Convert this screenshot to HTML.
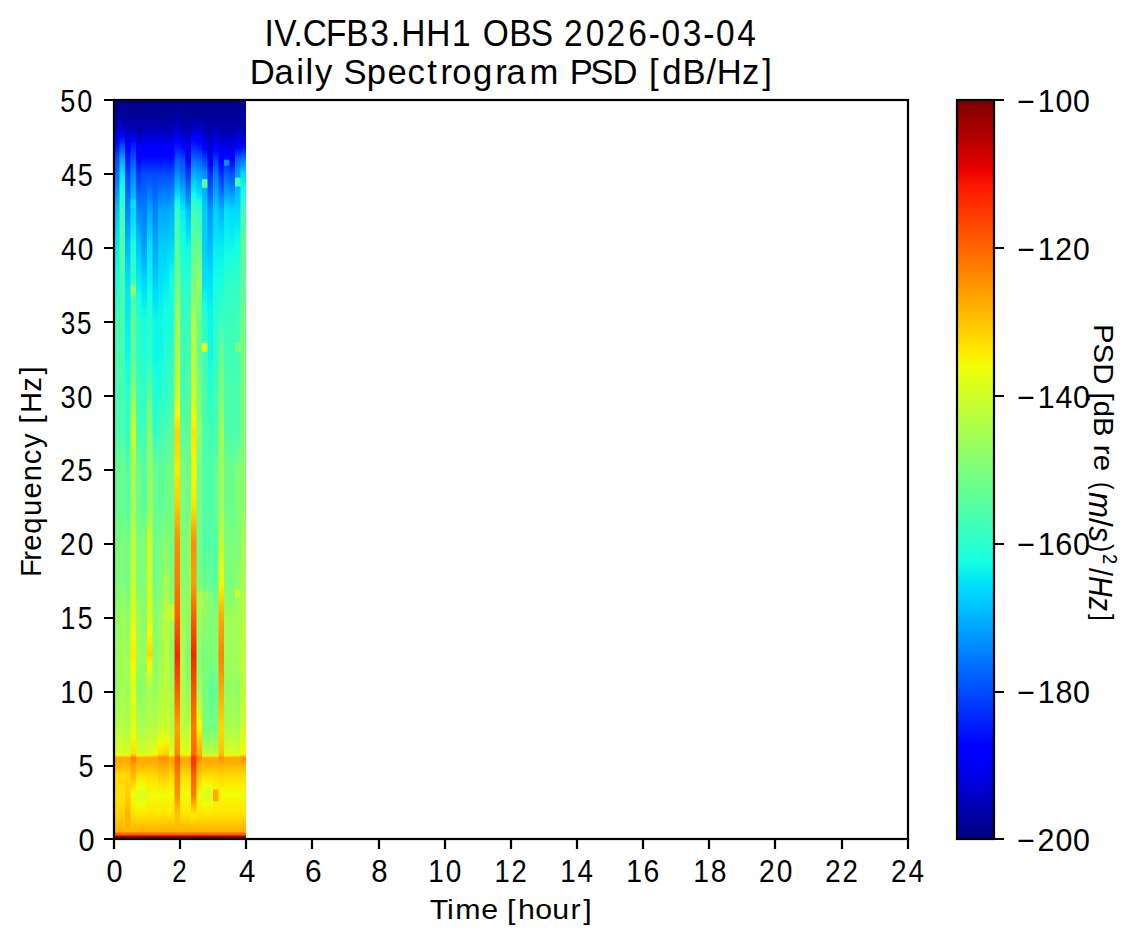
<!DOCTYPE html>
<html><head><meta charset="utf-8"><title>IV.CFB3.HH1 OBS 2026-03-04 Daily Spectrogram</title>
<style>html,body{margin:0;padding:0;background:#fff;width:1137px;height:946px;overflow:hidden}svg{display:block}text{font-family:"Liberation Sans",sans-serif;fill:#000}</style>
</head><body>
<svg width="1137" height="946" viewBox="0 0 1137 946">
<defs><linearGradient id="g0" x1="0" y1="0" x2="0" y2="1"><stop offset="0.0000" stop-color="#000089"/><stop offset="0.0060" stop-color="#00008d"/><stop offset="0.0100" stop-color="#00008d"/><stop offset="0.0120" stop-color="#000092"/><stop offset="0.0180" stop-color="#000092"/><stop offset="0.0400" stop-color="#0000c4"/><stop offset="0.0520" stop-color="#0000fa"/><stop offset="0.0540" stop-color="#0000ff"/><stop offset="0.0560" stop-color="#0000ff"/><stop offset="0.0600" stop-color="#000cff"/><stop offset="0.0620" stop-color="#0014ff"/><stop offset="0.0700" stop-color="#002cff"/><stop offset="0.0720" stop-color="#0034ff"/><stop offset="0.0800" stop-color="#004cff"/><stop offset="0.0840" stop-color="#0050ff"/><stop offset="0.0900" stop-color="#005cff"/><stop offset="0.0940" stop-color="#0060ff"/><stop offset="0.0980" stop-color="#0068ff"/><stop offset="0.1000" stop-color="#0068ff"/><stop offset="0.1220" stop-color="#0094ff"/><stop offset="0.1260" stop-color="#0098ff"/><stop offset="0.1460" stop-color="#00c0ff"/><stop offset="0.1500" stop-color="#00c4ff"/><stop offset="0.1520" stop-color="#00c8ff"/><stop offset="0.1600" stop-color="#00ccff"/><stop offset="0.1620" stop-color="#00d0ff"/><stop offset="0.1720" stop-color="#00d8ff"/><stop offset="0.1820" stop-color="#00e0fb"/><stop offset="0.1880" stop-color="#00e4f8"/><stop offset="0.1920" stop-color="#02e8f4"/><stop offset="0.2020" stop-color="#09f0ee"/><stop offset="0.2080" stop-color="#09f0ee"/><stop offset="0.2120" stop-color="#0cf4eb"/><stop offset="0.2160" stop-color="#0cf4eb"/><stop offset="0.2200" stop-color="#0ff8e7"/><stop offset="0.2260" stop-color="#0ff8e7"/><stop offset="0.2300" stop-color="#13fce4"/><stop offset="0.2360" stop-color="#13fce4"/><stop offset="0.2420" stop-color="#16ffe1"/><stop offset="0.2520" stop-color="#19ffde"/><stop offset="0.2660" stop-color="#26ffd1"/><stop offset="0.2720" stop-color="#29ffce"/><stop offset="0.2740" stop-color="#2cffca"/><stop offset="0.2760" stop-color="#2cffca"/><stop offset="0.2780" stop-color="#30ffc7"/><stop offset="0.2860" stop-color="#36ffc1"/><stop offset="0.3000" stop-color="#43ffb4"/><stop offset="0.4540" stop-color="#43ffb4"/><stop offset="0.4620" stop-color="#49ffad"/><stop offset="0.4720" stop-color="#50ffa7"/><stop offset="0.4780" stop-color="#53ffa4"/><stop offset="0.4840" stop-color="#5aff9d"/><stop offset="0.4920" stop-color="#5dff9a"/><stop offset="0.5040" stop-color="#63ff94"/><stop offset="0.5560" stop-color="#63ff94"/><stop offset="0.5580" stop-color="#66ff90"/><stop offset="0.5660" stop-color="#66ff90"/><stop offset="0.5700" stop-color="#6aff8d"/><stop offset="0.5760" stop-color="#6aff8d"/><stop offset="0.5820" stop-color="#6dff8a"/><stop offset="0.5940" stop-color="#70ff87"/><stop offset="0.5980" stop-color="#73ff83"/><stop offset="0.6520" stop-color="#73ff83"/><stop offset="0.6580" stop-color="#7aff7d"/><stop offset="0.6660" stop-color="#7dff7a"/><stop offset="0.6720" stop-color="#80ff77"/><stop offset="0.6780" stop-color="#87ff70"/><stop offset="0.6820" stop-color="#87ff70"/><stop offset="0.6940" stop-color="#90ff66"/><stop offset="0.7000" stop-color="#94ff63"/><stop offset="0.7560" stop-color="#94ff63"/><stop offset="0.7620" stop-color="#97ff60"/><stop offset="0.7740" stop-color="#97ff60"/><stop offset="0.7780" stop-color="#9aff5d"/><stop offset="0.7940" stop-color="#9aff5d"/><stop offset="0.7980" stop-color="#9dff5a"/><stop offset="0.8040" stop-color="#9dff5a"/><stop offset="0.8060" stop-color="#a0ff56"/><stop offset="0.8100" stop-color="#a0ff56"/><stop offset="0.8140" stop-color="#a4ff53"/><stop offset="0.8240" stop-color="#a7ff50"/><stop offset="0.8280" stop-color="#aaff4d"/><stop offset="0.8360" stop-color="#adff49"/><stop offset="0.8400" stop-color="#b1ff46"/><stop offset="0.8440" stop-color="#b1ff46"/><stop offset="0.8480" stop-color="#b4ff43"/><stop offset="0.8520" stop-color="#b7ff40"/><stop offset="0.8700" stop-color="#caff2c"/><stop offset="0.8720" stop-color="#ceff29"/><stop offset="0.8760" stop-color="#d1ff26"/><stop offset="0.8840" stop-color="#d7ff1f"/><stop offset="0.8860" stop-color="#ebff0c"/><stop offset="0.8880" stop-color="#ffd700"/><stop offset="0.8900" stop-color="#ffab00"/><stop offset="0.8960" stop-color="#ffae00"/><stop offset="0.9000" stop-color="#ffb200"/><stop offset="0.9040" stop-color="#ffc100"/><stop offset="0.9060" stop-color="#ffc400"/><stop offset="0.9100" stop-color="#ffd300"/><stop offset="0.9140" stop-color="#ffdb00"/><stop offset="0.9220" stop-color="#ffdb00"/><stop offset="0.9280" stop-color="#ffde00"/><stop offset="0.9340" stop-color="#ffde00"/><stop offset="0.9360" stop-color="#ffe200"/><stop offset="0.9420" stop-color="#ffe200"/><stop offset="0.9460" stop-color="#ffde00"/><stop offset="0.9520" stop-color="#ffdb00"/><stop offset="0.9560" stop-color="#ffd700"/><stop offset="0.9620" stop-color="#ffd300"/><stop offset="0.9680" stop-color="#ffd000"/><stop offset="0.9760" stop-color="#ffc400"/><stop offset="0.9800" stop-color="#ffc100"/><stop offset="0.9820" stop-color="#ffbd00"/><stop offset="0.9840" stop-color="#ffbd00"/><stop offset="0.9900" stop-color="#ffb200"/><stop offset="0.9920" stop-color="#ff6800"/><stop offset="0.9940" stop-color="#ff6800"/><stop offset="0.9960" stop-color="#cd0000"/><stop offset="0.9980" stop-color="#800000"/><stop offset="1.0000" stop-color="#800000"/></linearGradient>
<linearGradient id="g1" x1="0" y1="0" x2="0" y2="1"><stop offset="0.0000" stop-color="#000089"/><stop offset="0.0020" stop-color="#00008d"/><stop offset="0.0040" stop-color="#00008d"/><stop offset="0.0060" stop-color="#000092"/><stop offset="0.0120" stop-color="#000096"/><stop offset="0.0140" stop-color="#00009b"/><stop offset="0.0200" stop-color="#00009f"/><stop offset="0.0400" stop-color="#0000cd"/><stop offset="0.0420" stop-color="#0000da"/><stop offset="0.0440" stop-color="#0000ed"/><stop offset="0.0460" stop-color="#0000fa"/><stop offset="0.0480" stop-color="#0000ff"/><stop offset="0.0500" stop-color="#0004ff"/><stop offset="0.0620" stop-color="#004cff"/><stop offset="0.0720" stop-color="#007cff"/><stop offset="0.0760" stop-color="#0094ff"/><stop offset="0.0800" stop-color="#00a8ff"/><stop offset="0.0900" stop-color="#00c4ff"/><stop offset="0.0920" stop-color="#00ccff"/><stop offset="0.0960" stop-color="#00d8ff"/><stop offset="0.1000" stop-color="#00e4f8"/><stop offset="0.1060" stop-color="#09f0ee"/><stop offset="0.1100" stop-color="#0cf4eb"/><stop offset="0.1160" stop-color="#16ffe1"/><stop offset="0.1200" stop-color="#19ffde"/><stop offset="0.1280" stop-color="#26ffd1"/><stop offset="0.1320" stop-color="#29ffce"/><stop offset="0.1380" stop-color="#33ffc4"/><stop offset="0.1420" stop-color="#36ffc1"/><stop offset="0.1500" stop-color="#43ffb4"/><stop offset="0.1620" stop-color="#46ffb1"/><stop offset="0.1660" stop-color="#49ffad"/><stop offset="0.1780" stop-color="#50ffa7"/><stop offset="0.1880" stop-color="#53ffa4"/><stop offset="0.1920" stop-color="#56ffa0"/><stop offset="0.2000" stop-color="#5aff9d"/><stop offset="0.2060" stop-color="#5aff9d"/><stop offset="0.2100" stop-color="#56ffa0"/><stop offset="0.2160" stop-color="#56ffa0"/><stop offset="0.2200" stop-color="#53ffa4"/><stop offset="0.2260" stop-color="#53ffa4"/><stop offset="0.2320" stop-color="#50ffa7"/><stop offset="0.2460" stop-color="#4dffaa"/><stop offset="0.2500" stop-color="#49ffad"/><stop offset="0.4500" stop-color="#49ffad"/><stop offset="0.4520" stop-color="#4dffaa"/><stop offset="0.4600" stop-color="#50ffa7"/><stop offset="0.4640" stop-color="#53ffa4"/><stop offset="0.4700" stop-color="#56ffa0"/><stop offset="0.4740" stop-color="#5aff9d"/><stop offset="0.4880" stop-color="#63ff94"/><stop offset="0.4900" stop-color="#63ff94"/><stop offset="0.4920" stop-color="#66ff90"/><stop offset="0.4940" stop-color="#66ff90"/><stop offset="0.4960" stop-color="#6aff8d"/><stop offset="0.5500" stop-color="#6aff8d"/><stop offset="0.5540" stop-color="#6dff8a"/><stop offset="0.5600" stop-color="#6dff8a"/><stop offset="0.5640" stop-color="#70ff87"/><stop offset="0.5700" stop-color="#70ff87"/><stop offset="0.5740" stop-color="#73ff83"/><stop offset="0.5800" stop-color="#73ff83"/><stop offset="0.5840" stop-color="#77ff80"/><stop offset="0.5900" stop-color="#77ff80"/><stop offset="0.5960" stop-color="#7aff7d"/><stop offset="0.6080" stop-color="#7dff7a"/><stop offset="0.6540" stop-color="#7dff7a"/><stop offset="0.6620" stop-color="#83ff73"/><stop offset="0.6640" stop-color="#83ff73"/><stop offset="0.6660" stop-color="#87ff70"/><stop offset="0.6780" stop-color="#8dff6a"/><stop offset="0.6820" stop-color="#90ff66"/><stop offset="0.6840" stop-color="#90ff66"/><stop offset="0.6860" stop-color="#94ff63"/><stop offset="0.7020" stop-color="#9dff5a"/><stop offset="0.7140" stop-color="#9dff5a"/><stop offset="0.7160" stop-color="#a0ff56"/><stop offset="0.7340" stop-color="#a0ff56"/><stop offset="0.7360" stop-color="#a4ff53"/><stop offset="0.8000" stop-color="#a4ff53"/><stop offset="0.8060" stop-color="#a7ff50"/><stop offset="0.8100" stop-color="#a7ff50"/><stop offset="0.8160" stop-color="#aaff4d"/><stop offset="0.8200" stop-color="#aaff4d"/><stop offset="0.8240" stop-color="#adff49"/><stop offset="0.8300" stop-color="#adff49"/><stop offset="0.8340" stop-color="#b1ff46"/><stop offset="0.8400" stop-color="#b1ff46"/><stop offset="0.8460" stop-color="#b4ff43"/><stop offset="0.8520" stop-color="#b7ff40"/><stop offset="0.8700" stop-color="#caff2c"/><stop offset="0.8720" stop-color="#ceff29"/><stop offset="0.8760" stop-color="#d1ff26"/><stop offset="0.8840" stop-color="#d7ff1f"/><stop offset="0.8860" stop-color="#ebff0c"/><stop offset="0.8880" stop-color="#ffd700"/><stop offset="0.8900" stop-color="#ffab00"/><stop offset="0.8960" stop-color="#ffae00"/><stop offset="0.9000" stop-color="#ffb200"/><stop offset="0.9040" stop-color="#ffc100"/><stop offset="0.9060" stop-color="#ffc400"/><stop offset="0.9100" stop-color="#ffd300"/><stop offset="0.9140" stop-color="#ffdb00"/><stop offset="0.9220" stop-color="#ffdb00"/><stop offset="0.9280" stop-color="#ffde00"/><stop offset="0.9340" stop-color="#ffde00"/><stop offset="0.9360" stop-color="#ffe200"/><stop offset="0.9420" stop-color="#ffe200"/><stop offset="0.9460" stop-color="#ffde00"/><stop offset="0.9520" stop-color="#ffdb00"/><stop offset="0.9560" stop-color="#ffd700"/><stop offset="0.9620" stop-color="#ffd300"/><stop offset="0.9680" stop-color="#ffd000"/><stop offset="0.9760" stop-color="#ffc400"/><stop offset="0.9800" stop-color="#ffc100"/><stop offset="0.9820" stop-color="#ffbd00"/><stop offset="0.9840" stop-color="#ffbd00"/><stop offset="0.9900" stop-color="#ffb200"/><stop offset="0.9920" stop-color="#ff6800"/><stop offset="0.9940" stop-color="#ff6800"/><stop offset="0.9960" stop-color="#cd0000"/><stop offset="0.9980" stop-color="#800000"/><stop offset="1.0000" stop-color="#800000"/></linearGradient>
<linearGradient id="g2" x1="0" y1="0" x2="0" y2="1"><stop offset="0.0000" stop-color="#000089"/><stop offset="0.0060" stop-color="#00008d"/><stop offset="0.0100" stop-color="#00008d"/><stop offset="0.0120" stop-color="#000092"/><stop offset="0.0180" stop-color="#000092"/><stop offset="0.0240" stop-color="#00009b"/><stop offset="0.0280" stop-color="#0000a4"/><stop offset="0.0300" stop-color="#0000a4"/><stop offset="0.0380" stop-color="#0000b6"/><stop offset="0.0400" stop-color="#0000b6"/><stop offset="0.0420" stop-color="#0000bf"/><stop offset="0.0480" stop-color="#0000cd"/><stop offset="0.0500" stop-color="#0000d6"/><stop offset="0.0540" stop-color="#0000df"/><stop offset="0.0580" stop-color="#0000ed"/><stop offset="0.0620" stop-color="#0000f6"/><stop offset="0.0640" stop-color="#0000ff"/><stop offset="0.0700" stop-color="#0000ff"/><stop offset="0.0760" stop-color="#000cff"/><stop offset="0.0800" stop-color="#0018ff"/><stop offset="0.1040" stop-color="#0048ff"/><stop offset="0.1080" stop-color="#004cff"/><stop offset="0.1160" stop-color="#0058ff"/><stop offset="0.1220" stop-color="#0060ff"/><stop offset="0.1300" stop-color="#006cff"/><stop offset="0.1320" stop-color="#0070ff"/><stop offset="0.1360" stop-color="#0074ff"/><stop offset="0.1420" stop-color="#007cff"/><stop offset="0.1460" stop-color="#0084ff"/><stop offset="0.1500" stop-color="#0088ff"/><stop offset="0.1520" stop-color="#008cff"/><stop offset="0.1620" stop-color="#0094ff"/><stop offset="0.1720" stop-color="#00a0ff"/><stop offset="0.1820" stop-color="#00a8ff"/><stop offset="0.1920" stop-color="#00b4ff"/><stop offset="0.2020" stop-color="#00bcff"/><stop offset="0.2060" stop-color="#00c0ff"/><stop offset="0.2120" stop-color="#00c4ff"/><stop offset="0.2200" stop-color="#00ccff"/><stop offset="0.2300" stop-color="#00d4ff"/><stop offset="0.2400" stop-color="#00dcfe"/><stop offset="0.2420" stop-color="#00dcfe"/><stop offset="0.2440" stop-color="#00e0fb"/><stop offset="0.2520" stop-color="#00e4f8"/><stop offset="0.2560" stop-color="#00e4f8"/><stop offset="0.2580" stop-color="#02e8f4"/><stop offset="0.2760" stop-color="#02e8f4"/><stop offset="0.2780" stop-color="#06ecf1"/><stop offset="0.2960" stop-color="#06ecf1"/><stop offset="0.3000" stop-color="#09f0ee"/><stop offset="0.3160" stop-color="#09f0ee"/><stop offset="0.3180" stop-color="#0cf4eb"/><stop offset="0.3340" stop-color="#0cf4eb"/><stop offset="0.3380" stop-color="#0ff8e7"/><stop offset="0.3500" stop-color="#0ff8e7"/><stop offset="0.3540" stop-color="#13fce4"/><stop offset="0.3580" stop-color="#13fce4"/><stop offset="0.3640" stop-color="#16ffe1"/><stop offset="0.3680" stop-color="#19ffde"/><stop offset="0.3760" stop-color="#1cffdb"/><stop offset="0.3780" stop-color="#1fffd7"/><stop offset="0.3840" stop-color="#1fffd7"/><stop offset="0.3860" stop-color="#23ffd4"/><stop offset="0.3900" stop-color="#23ffd4"/><stop offset="0.3940" stop-color="#26ffd1"/><stop offset="0.4060" stop-color="#29ffce"/><stop offset="0.4100" stop-color="#29ffce"/><stop offset="0.4140" stop-color="#2cffca"/><stop offset="0.4300" stop-color="#2cffca"/><stop offset="0.4320" stop-color="#30ffc7"/><stop offset="0.4500" stop-color="#30ffc7"/><stop offset="0.4620" stop-color="#39ffbe"/><stop offset="0.4680" stop-color="#3cffba"/><stop offset="0.4720" stop-color="#40ffb7"/><stop offset="0.4840" stop-color="#46ffb1"/><stop offset="0.4860" stop-color="#49ffad"/><stop offset="0.4880" stop-color="#49ffad"/><stop offset="0.4920" stop-color="#4dffaa"/><stop offset="0.5040" stop-color="#53ffa4"/><stop offset="0.5520" stop-color="#53ffa4"/><stop offset="0.5560" stop-color="#56ffa0"/><stop offset="0.5660" stop-color="#5dff9a"/><stop offset="0.5780" stop-color="#63ff94"/><stop offset="0.5840" stop-color="#6aff8d"/><stop offset="0.5920" stop-color="#6dff8a"/><stop offset="0.6000" stop-color="#73ff83"/><stop offset="0.6520" stop-color="#73ff83"/><stop offset="0.6560" stop-color="#77ff80"/><stop offset="0.6600" stop-color="#77ff80"/><stop offset="0.6640" stop-color="#7aff7d"/><stop offset="0.6780" stop-color="#80ff77"/><stop offset="0.6820" stop-color="#83ff73"/><stop offset="0.6860" stop-color="#83ff73"/><stop offset="0.6900" stop-color="#87ff70"/><stop offset="0.7040" stop-color="#8dff6a"/><stop offset="0.7080" stop-color="#8dff6a"/><stop offset="0.7100" stop-color="#90ff66"/><stop offset="0.7180" stop-color="#90ff66"/><stop offset="0.7220" stop-color="#94ff63"/><stop offset="0.7280" stop-color="#94ff63"/><stop offset="0.7320" stop-color="#97ff60"/><stop offset="0.7460" stop-color="#9aff5d"/><stop offset="0.7520" stop-color="#9dff5a"/><stop offset="0.8060" stop-color="#9dff5a"/><stop offset="0.8080" stop-color="#a0ff56"/><stop offset="0.8160" stop-color="#a0ff56"/><stop offset="0.8200" stop-color="#a4ff53"/><stop offset="0.8260" stop-color="#a4ff53"/><stop offset="0.8300" stop-color="#a7ff50"/><stop offset="0.8360" stop-color="#a7ff50"/><stop offset="0.8400" stop-color="#aaff4d"/><stop offset="0.8460" stop-color="#aaff4d"/><stop offset="0.8520" stop-color="#b1ff46"/><stop offset="0.8560" stop-color="#b4ff43"/><stop offset="0.8640" stop-color="#baff3c"/><stop offset="0.8680" stop-color="#c1ff36"/><stop offset="0.8780" stop-color="#caff2c"/><stop offset="0.8820" stop-color="#ceff29"/><stop offset="0.8840" stop-color="#ceff29"/><stop offset="0.8860" stop-color="#e4ff13"/><stop offset="0.8880" stop-color="#ffdb00"/><stop offset="0.8900" stop-color="#ffab00"/><stop offset="0.8960" stop-color="#ffae00"/><stop offset="0.9000" stop-color="#ffb200"/><stop offset="0.9040" stop-color="#ffc100"/><stop offset="0.9060" stop-color="#ffc400"/><stop offset="0.9100" stop-color="#ffd300"/><stop offset="0.9140" stop-color="#ffd700"/><stop offset="0.9220" stop-color="#ffd700"/><stop offset="0.9260" stop-color="#ffd300"/><stop offset="0.9320" stop-color="#ffd300"/><stop offset="0.9380" stop-color="#ffd000"/><stop offset="0.9440" stop-color="#ffcc00"/><stop offset="0.9460" stop-color="#ffc800"/><stop offset="0.9540" stop-color="#ffc100"/><stop offset="0.9560" stop-color="#ffbd00"/><stop offset="0.9660" stop-color="#ffb600"/><stop offset="0.9700" stop-color="#ffb200"/><stop offset="0.9840" stop-color="#ffb200"/><stop offset="0.9900" stop-color="#ffbd00"/><stop offset="0.9920" stop-color="#ff6800"/><stop offset="0.9940" stop-color="#ff6800"/><stop offset="0.9960" stop-color="#cd0000"/><stop offset="0.9980" stop-color="#800000"/><stop offset="1.0000" stop-color="#800000"/></linearGradient>
<linearGradient id="g3" x1="0" y1="0" x2="0" y2="1"><stop offset="0.0000" stop-color="#000089"/><stop offset="0.0060" stop-color="#00008d"/><stop offset="0.0100" stop-color="#00008d"/><stop offset="0.0120" stop-color="#000092"/><stop offset="0.0180" stop-color="#000092"/><stop offset="0.0240" stop-color="#00009b"/><stop offset="0.0280" stop-color="#0000a4"/><stop offset="0.0300" stop-color="#0000a4"/><stop offset="0.0380" stop-color="#0000b6"/><stop offset="0.0400" stop-color="#0000b6"/><stop offset="0.0420" stop-color="#0000c4"/><stop offset="0.0460" stop-color="#0000da"/><stop offset="0.0480" stop-color="#0000e8"/><stop offset="0.0500" stop-color="#0000f1"/><stop offset="0.0520" stop-color="#0000ff"/><stop offset="0.0560" stop-color="#0004ff"/><stop offset="0.0600" stop-color="#0018ff"/><stop offset="0.0640" stop-color="#0024ff"/><stop offset="0.0740" stop-color="#0044ff"/><stop offset="0.0800" stop-color="#0054ff"/><stop offset="0.0820" stop-color="#005cff"/><stop offset="0.0880" stop-color="#0068ff"/><stop offset="0.0920" stop-color="#0074ff"/><stop offset="0.1000" stop-color="#0088ff"/><stop offset="0.1060" stop-color="#0094ff"/><stop offset="0.1100" stop-color="#0098ff"/><stop offset="0.1160" stop-color="#00a4ff"/><stop offset="0.1200" stop-color="#00a8ff"/><stop offset="0.1280" stop-color="#00b8ff"/><stop offset="0.1300" stop-color="#00b8ff"/><stop offset="0.1340" stop-color="#00c0ff"/><stop offset="0.1360" stop-color="#00e4f8"/><stop offset="0.1460" stop-color="#00e4f8"/><stop offset="0.1480" stop-color="#00d8ff"/><stop offset="0.1520" stop-color="#00dcfe"/><stop offset="0.1620" stop-color="#00e4f8"/><stop offset="0.1680" stop-color="#02e8f4"/><stop offset="0.1720" stop-color="#06ecf1"/><stop offset="0.1820" stop-color="#0cf4eb"/><stop offset="0.1860" stop-color="#0ff8e7"/><stop offset="0.1960" stop-color="#16ffe1"/><stop offset="0.2060" stop-color="#1cffdb"/><stop offset="0.2120" stop-color="#23ffd4"/><stop offset="0.2220" stop-color="#29ffce"/><stop offset="0.2280" stop-color="#30ffc7"/><stop offset="0.2360" stop-color="#36ffc1"/><stop offset="0.2500" stop-color="#43ffb4"/><stop offset="0.2520" stop-color="#8dff6a"/><stop offset="0.2640" stop-color="#8dff6a"/><stop offset="0.2660" stop-color="#4dffaa"/><stop offset="0.2780" stop-color="#53ffa4"/><stop offset="0.2840" stop-color="#5aff9d"/><stop offset="0.2880" stop-color="#5aff9d"/><stop offset="0.2960" stop-color="#60ff97"/><stop offset="0.3060" stop-color="#63ff94"/><stop offset="0.3120" stop-color="#60ff97"/><stop offset="0.3240" stop-color="#60ff97"/><stop offset="0.3300" stop-color="#5dff9a"/><stop offset="0.3440" stop-color="#5dff9a"/><stop offset="0.3480" stop-color="#5aff9d"/><stop offset="0.3520" stop-color="#5dff9a"/><stop offset="0.3600" stop-color="#66ff90"/><stop offset="0.3620" stop-color="#6aff8d"/><stop offset="0.3660" stop-color="#6dff8a"/><stop offset="0.3720" stop-color="#73ff83"/><stop offset="0.3760" stop-color="#7aff7d"/><stop offset="0.3840" stop-color="#80ff77"/><stop offset="0.3900" stop-color="#8aff6d"/><stop offset="0.3940" stop-color="#8dff6a"/><stop offset="0.4020" stop-color="#97ff60"/><stop offset="0.4140" stop-color="#a4ff53"/><stop offset="0.4240" stop-color="#b1ff46"/><stop offset="0.4300" stop-color="#b7ff40"/><stop offset="0.4320" stop-color="#baff3c"/><stop offset="0.4340" stop-color="#baff3c"/><stop offset="0.4400" stop-color="#c4ff33"/><stop offset="0.4440" stop-color="#c7ff30"/><stop offset="0.4460" stop-color="#caff2c"/><stop offset="0.4520" stop-color="#ceff29"/><stop offset="0.4580" stop-color="#c7ff30"/><stop offset="0.4660" stop-color="#c1ff36"/><stop offset="0.4740" stop-color="#baff3c"/><stop offset="0.4760" stop-color="#b7ff40"/><stop offset="0.4860" stop-color="#b1ff46"/><stop offset="0.4920" stop-color="#aaff4d"/><stop offset="0.5040" stop-color="#a4ff53"/><stop offset="0.5500" stop-color="#a4ff53"/><stop offset="0.5540" stop-color="#a7ff50"/><stop offset="0.5640" stop-color="#aaff4d"/><stop offset="0.5680" stop-color="#adff49"/><stop offset="0.5880" stop-color="#b7ff40"/><stop offset="0.5960" stop-color="#baff3c"/><stop offset="0.6000" stop-color="#beff39"/><stop offset="0.6100" stop-color="#beff39"/><stop offset="0.6160" stop-color="#c1ff36"/><stop offset="0.6280" stop-color="#c1ff36"/><stop offset="0.6340" stop-color="#c4ff33"/><stop offset="0.6480" stop-color="#c4ff33"/><stop offset="0.6540" stop-color="#c7ff30"/><stop offset="0.6600" stop-color="#caff2c"/><stop offset="0.6780" stop-color="#d4ff23"/><stop offset="0.6820" stop-color="#d4ff23"/><stop offset="0.6860" stop-color="#d7ff1f"/><stop offset="0.6920" stop-color="#dbff1c"/><stop offset="0.7100" stop-color="#e4ff13"/><stop offset="0.7140" stop-color="#e7ff0f"/><stop offset="0.7240" stop-color="#eeff09"/><stop offset="0.7280" stop-color="#f1fc06"/><stop offset="0.7340" stop-color="#f4f802"/><stop offset="0.7360" stop-color="#f8f500"/><stop offset="0.7400" stop-color="#f8f500"/><stop offset="0.7420" stop-color="#fbf100"/><stop offset="0.7440" stop-color="#fbf100"/><stop offset="0.7460" stop-color="#feed00"/><stop offset="0.7540" stop-color="#feed00"/><stop offset="0.7560" stop-color="#fbf100"/><stop offset="0.7580" stop-color="#fbf100"/><stop offset="0.7620" stop-color="#f8f500"/><stop offset="0.7640" stop-color="#f8f500"/><stop offset="0.7660" stop-color="#f4f802"/><stop offset="0.7680" stop-color="#f4f802"/><stop offset="0.7720" stop-color="#f1fc06"/><stop offset="0.7820" stop-color="#ebff0c"/><stop offset="0.7860" stop-color="#e7ff0f"/><stop offset="0.7960" stop-color="#e1ff16"/><stop offset="0.8040" stop-color="#deff19"/><stop offset="0.8080" stop-color="#e1ff16"/><stop offset="0.8240" stop-color="#e1ff16"/><stop offset="0.8280" stop-color="#e4ff13"/><stop offset="0.8440" stop-color="#e4ff13"/><stop offset="0.8460" stop-color="#e7ff0f"/><stop offset="0.8520" stop-color="#e7ff0f"/><stop offset="0.8560" stop-color="#eeff09"/><stop offset="0.8600" stop-color="#f1fc06"/><stop offset="0.8620" stop-color="#f4f802"/><stop offset="0.8640" stop-color="#f4f802"/><stop offset="0.8680" stop-color="#fbf100"/><stop offset="0.8720" stop-color="#feed00"/><stop offset="0.8780" stop-color="#ffe600"/><stop offset="0.8820" stop-color="#ffe200"/><stop offset="0.8840" stop-color="#ffe200"/><stop offset="0.8860" stop-color="#ffcc00"/><stop offset="0.8900" stop-color="#ff7a00"/><stop offset="0.9000" stop-color="#ff9f00"/><stop offset="0.9060" stop-color="#ffab00"/><stop offset="0.9100" stop-color="#ffae00"/><stop offset="0.9200" stop-color="#ffc800"/><stop offset="0.9300" stop-color="#ffe200"/><stop offset="0.9320" stop-color="#ffea00"/><stop offset="0.9340" stop-color="#feed00"/><stop offset="0.9360" stop-color="#f8f500"/><stop offset="0.9380" stop-color="#f4f802"/><stop offset="0.9400" stop-color="#eeff09"/><stop offset="0.9460" stop-color="#f4f802"/><stop offset="0.9520" stop-color="#fbf100"/><stop offset="0.9540" stop-color="#fbf100"/><stop offset="0.9560" stop-color="#feed00"/><stop offset="0.9620" stop-color="#ffea00"/><stop offset="0.9700" stop-color="#ffde00"/><stop offset="0.9740" stop-color="#ffd300"/><stop offset="0.9780" stop-color="#ffcc00"/><stop offset="0.9800" stop-color="#ffc400"/><stop offset="0.9900" stop-color="#ffb200"/><stop offset="0.9920" stop-color="#ff6800"/><stop offset="0.9940" stop-color="#ff6800"/><stop offset="0.9960" stop-color="#cd0000"/><stop offset="0.9980" stop-color="#800000"/><stop offset="1.0000" stop-color="#800000"/></linearGradient>
<linearGradient id="g4" x1="0" y1="0" x2="0" y2="1"><stop offset="0.0000" stop-color="#000089"/><stop offset="0.0060" stop-color="#00008d"/><stop offset="0.0100" stop-color="#00008d"/><stop offset="0.0120" stop-color="#000092"/><stop offset="0.0180" stop-color="#000092"/><stop offset="0.0240" stop-color="#00009b"/><stop offset="0.0300" stop-color="#00009f"/><stop offset="0.0320" stop-color="#0000a4"/><stop offset="0.0380" stop-color="#0000a8"/><stop offset="0.0440" stop-color="#0000b6"/><stop offset="0.0480" stop-color="#0000c4"/><stop offset="0.0520" stop-color="#0000cd"/><stop offset="0.0540" stop-color="#0000d6"/><stop offset="0.0580" stop-color="#0000df"/><stop offset="0.0620" stop-color="#0000ed"/><stop offset="0.0700" stop-color="#0000ff"/><stop offset="0.0780" stop-color="#0000ff"/><stop offset="0.0840" stop-color="#000cff"/><stop offset="0.0880" stop-color="#0018ff"/><stop offset="0.0920" stop-color="#0020ff"/><stop offset="0.0960" stop-color="#002cff"/><stop offset="0.1000" stop-color="#0038ff"/><stop offset="0.1040" stop-color="#003cff"/><stop offset="0.1100" stop-color="#0048ff"/><stop offset="0.1140" stop-color="#004cff"/><stop offset="0.1220" stop-color="#005cff"/><stop offset="0.1260" stop-color="#0060ff"/><stop offset="0.1340" stop-color="#0070ff"/><stop offset="0.1380" stop-color="#0074ff"/><stop offset="0.1440" stop-color="#0080ff"/><stop offset="0.1480" stop-color="#0084ff"/><stop offset="0.1520" stop-color="#008cff"/><stop offset="0.1560" stop-color="#0090ff"/><stop offset="0.1620" stop-color="#0098ff"/><stop offset="0.1660" stop-color="#009cff"/><stop offset="0.1720" stop-color="#00a4ff"/><stop offset="0.1760" stop-color="#00a8ff"/><stop offset="0.1820" stop-color="#00b0ff"/><stop offset="0.1920" stop-color="#00bcff"/><stop offset="0.2020" stop-color="#00c8ff"/><stop offset="0.2100" stop-color="#00ccff"/><stop offset="0.2120" stop-color="#00d0ff"/><stop offset="0.2220" stop-color="#00d8ff"/><stop offset="0.2320" stop-color="#00e0fb"/><stop offset="0.2380" stop-color="#00e4f8"/><stop offset="0.2420" stop-color="#02e8f4"/><stop offset="0.2520" stop-color="#09f0ee"/><stop offset="0.2580" stop-color="#0cf4eb"/><stop offset="0.2640" stop-color="#13fce4"/><stop offset="0.2720" stop-color="#16ffe1"/><stop offset="0.2760" stop-color="#19ffde"/><stop offset="0.2820" stop-color="#1cffdb"/><stop offset="0.2840" stop-color="#1fffd7"/><stop offset="0.2880" stop-color="#1fffd7"/><stop offset="0.2900" stop-color="#23ffd4"/><stop offset="0.3040" stop-color="#29ffce"/><stop offset="0.3100" stop-color="#29ffce"/><stop offset="0.3140" stop-color="#2cffca"/><stop offset="0.3300" stop-color="#2cffca"/><stop offset="0.3340" stop-color="#30ffc7"/><stop offset="0.3500" stop-color="#30ffc7"/><stop offset="0.3560" stop-color="#33ffc4"/><stop offset="0.3700" stop-color="#33ffc4"/><stop offset="0.3740" stop-color="#36ffc1"/><stop offset="0.3880" stop-color="#36ffc1"/><stop offset="0.3940" stop-color="#39ffbe"/><stop offset="0.4080" stop-color="#39ffbe"/><stop offset="0.4120" stop-color="#3cffba"/><stop offset="0.4280" stop-color="#3cffba"/><stop offset="0.4320" stop-color="#40ffb7"/><stop offset="0.4480" stop-color="#40ffb7"/><stop offset="0.4600" stop-color="#49ffad"/><stop offset="0.4620" stop-color="#4dffaa"/><stop offset="0.4720" stop-color="#53ffa4"/><stop offset="0.4780" stop-color="#5aff9d"/><stop offset="0.4920" stop-color="#63ff94"/><stop offset="0.4980" stop-color="#6aff8d"/><stop offset="0.5500" stop-color="#6aff8d"/><stop offset="0.5540" stop-color="#6dff8a"/><stop offset="0.5600" stop-color="#6dff8a"/><stop offset="0.5640" stop-color="#70ff87"/><stop offset="0.5700" stop-color="#70ff87"/><stop offset="0.5740" stop-color="#73ff83"/><stop offset="0.5800" stop-color="#73ff83"/><stop offset="0.5840" stop-color="#77ff80"/><stop offset="0.5900" stop-color="#77ff80"/><stop offset="0.5960" stop-color="#7aff7d"/><stop offset="0.6080" stop-color="#7dff7a"/><stop offset="0.6540" stop-color="#7dff7a"/><stop offset="0.6620" stop-color="#83ff73"/><stop offset="0.6640" stop-color="#83ff73"/><stop offset="0.6660" stop-color="#87ff70"/><stop offset="0.6780" stop-color="#8dff6a"/><stop offset="0.6820" stop-color="#90ff66"/><stop offset="0.6840" stop-color="#90ff66"/><stop offset="0.6860" stop-color="#94ff63"/><stop offset="0.7020" stop-color="#9dff5a"/><stop offset="0.7520" stop-color="#9dff5a"/><stop offset="0.7580" stop-color="#9aff5d"/><stop offset="0.7700" stop-color="#97ff60"/><stop offset="0.7760" stop-color="#94ff63"/><stop offset="0.7800" stop-color="#94ff63"/><stop offset="0.7840" stop-color="#90ff66"/><stop offset="0.7900" stop-color="#90ff66"/><stop offset="0.7940" stop-color="#8dff6a"/><stop offset="0.8040" stop-color="#8dff6a"/><stop offset="0.8060" stop-color="#90ff66"/><stop offset="0.8180" stop-color="#97ff60"/><stop offset="0.8260" stop-color="#9dff5a"/><stop offset="0.8320" stop-color="#a0ff56"/><stop offset="0.8360" stop-color="#a4ff53"/><stop offset="0.8480" stop-color="#aaff4d"/><stop offset="0.8520" stop-color="#b1ff46"/><stop offset="0.8560" stop-color="#b4ff43"/><stop offset="0.8640" stop-color="#baff3c"/><stop offset="0.8680" stop-color="#c1ff36"/><stop offset="0.8780" stop-color="#caff2c"/><stop offset="0.8820" stop-color="#ceff29"/><stop offset="0.8840" stop-color="#ceff29"/><stop offset="0.8860" stop-color="#e4ff13"/><stop offset="0.8880" stop-color="#ffdb00"/><stop offset="0.8900" stop-color="#ffab00"/><stop offset="0.8960" stop-color="#ffae00"/><stop offset="0.9000" stop-color="#ffb200"/><stop offset="0.9040" stop-color="#ffc100"/><stop offset="0.9060" stop-color="#ffc400"/><stop offset="0.9100" stop-color="#ffd300"/><stop offset="0.9200" stop-color="#feed00"/><stop offset="0.9260" stop-color="#f4f802"/><stop offset="0.9280" stop-color="#eeff09"/><stop offset="0.9340" stop-color="#e4ff13"/><stop offset="0.9380" stop-color="#dbff1c"/><stop offset="0.9400" stop-color="#d7ff1f"/><stop offset="0.9540" stop-color="#eeff09"/><stop offset="0.9580" stop-color="#f8f500"/><stop offset="0.9640" stop-color="#ffea00"/><stop offset="0.9700" stop-color="#ffde00"/><stop offset="0.9740" stop-color="#ffd300"/><stop offset="0.9780" stop-color="#ffcc00"/><stop offset="0.9800" stop-color="#ffc400"/><stop offset="0.9900" stop-color="#ffb200"/><stop offset="0.9920" stop-color="#ff6800"/><stop offset="0.9940" stop-color="#ff6800"/><stop offset="0.9960" stop-color="#cd0000"/><stop offset="0.9980" stop-color="#800000"/><stop offset="1.0000" stop-color="#800000"/></linearGradient>
<linearGradient id="g5" x1="0" y1="0" x2="0" y2="1"><stop offset="0.0000" stop-color="#000089"/><stop offset="0.0060" stop-color="#00008d"/><stop offset="0.0100" stop-color="#00008d"/><stop offset="0.0120" stop-color="#000092"/><stop offset="0.0180" stop-color="#000092"/><stop offset="0.0240" stop-color="#00009b"/><stop offset="0.0280" stop-color="#0000a4"/><stop offset="0.0300" stop-color="#0000a4"/><stop offset="0.0380" stop-color="#0000b6"/><stop offset="0.0400" stop-color="#0000b6"/><stop offset="0.0420" stop-color="#0000bf"/><stop offset="0.0480" stop-color="#0000cd"/><stop offset="0.0500" stop-color="#0000d6"/><stop offset="0.0540" stop-color="#0000df"/><stop offset="0.0580" stop-color="#0000ed"/><stop offset="0.0660" stop-color="#0000ff"/><stop offset="0.0740" stop-color="#0000ff"/><stop offset="0.0800" stop-color="#000cff"/><stop offset="0.0820" stop-color="#0014ff"/><stop offset="0.0900" stop-color="#002cff"/><stop offset="0.0920" stop-color="#0034ff"/><stop offset="0.1000" stop-color="#004cff"/><stop offset="0.1100" stop-color="#0054ff"/><stop offset="0.1120" stop-color="#0058ff"/><stop offset="0.1220" stop-color="#0060ff"/><stop offset="0.1320" stop-color="#006cff"/><stop offset="0.1420" stop-color="#0074ff"/><stop offset="0.1500" stop-color="#0080ff"/><stop offset="0.1560" stop-color="#0080ff"/><stop offset="0.1600" stop-color="#0084ff"/><stop offset="0.1660" stop-color="#0088ff"/><stop offset="0.1740" stop-color="#008cff"/><stop offset="0.1820" stop-color="#0090ff"/><stop offset="0.1860" stop-color="#0094ff"/><stop offset="0.1940" stop-color="#0098ff"/><stop offset="0.1980" stop-color="#009cff"/><stop offset="0.2000" stop-color="#009cff"/><stop offset="0.2020" stop-color="#00a0ff"/><stop offset="0.2060" stop-color="#00a4ff"/><stop offset="0.2120" stop-color="#00acff"/><stop offset="0.2160" stop-color="#00b0ff"/><stop offset="0.2220" stop-color="#00b8ff"/><stop offset="0.2320" stop-color="#00c4ff"/><stop offset="0.2420" stop-color="#00d0ff"/><stop offset="0.2440" stop-color="#00d4ff"/><stop offset="0.2480" stop-color="#00d8ff"/><stop offset="0.2520" stop-color="#00dcfe"/><stop offset="0.2620" stop-color="#00e4f8"/><stop offset="0.2680" stop-color="#02e8f4"/><stop offset="0.2720" stop-color="#06ecf1"/><stop offset="0.2820" stop-color="#0cf4eb"/><stop offset="0.2840" stop-color="#0ff8e7"/><stop offset="0.2880" stop-color="#0ff8e7"/><stop offset="0.2900" stop-color="#13fce4"/><stop offset="0.3000" stop-color="#19ffde"/><stop offset="0.3140" stop-color="#19ffde"/><stop offset="0.3200" stop-color="#1cffdb"/><stop offset="0.3320" stop-color="#1cffdb"/><stop offset="0.3340" stop-color="#1fffd7"/><stop offset="0.3500" stop-color="#1fffd7"/><stop offset="0.3540" stop-color="#23ffd4"/><stop offset="0.3600" stop-color="#23ffd4"/><stop offset="0.3640" stop-color="#26ffd1"/><stop offset="0.3700" stop-color="#26ffd1"/><stop offset="0.3740" stop-color="#29ffce"/><stop offset="0.3800" stop-color="#29ffce"/><stop offset="0.3820" stop-color="#2cffca"/><stop offset="0.3900" stop-color="#2cffca"/><stop offset="0.3920" stop-color="#30ffc7"/><stop offset="0.4000" stop-color="#30ffc7"/><stop offset="0.4040" stop-color="#33ffc4"/><stop offset="0.4100" stop-color="#33ffc4"/><stop offset="0.4160" stop-color="#36ffc1"/><stop offset="0.4280" stop-color="#39ffbe"/><stop offset="0.4320" stop-color="#3cffba"/><stop offset="0.4380" stop-color="#3cffba"/><stop offset="0.4420" stop-color="#40ffb7"/><stop offset="0.4480" stop-color="#40ffb7"/><stop offset="0.4540" stop-color="#43ffb4"/><stop offset="0.4680" stop-color="#46ffb1"/><stop offset="0.4720" stop-color="#49ffad"/><stop offset="0.4780" stop-color="#49ffad"/><stop offset="0.4820" stop-color="#4dffaa"/><stop offset="0.4880" stop-color="#4dffaa"/><stop offset="0.4940" stop-color="#50ffa7"/><stop offset="0.5120" stop-color="#53ffa4"/><stop offset="0.5520" stop-color="#53ffa4"/><stop offset="0.5560" stop-color="#5aff9d"/><stop offset="0.5640" stop-color="#60ff97"/><stop offset="0.5740" stop-color="#6aff8d"/><stop offset="0.5860" stop-color="#77ff80"/><stop offset="0.5980" stop-color="#80ff77"/><stop offset="0.6020" stop-color="#83ff73"/><stop offset="0.7040" stop-color="#83ff73"/><stop offset="0.7060" stop-color="#87ff70"/><stop offset="0.7140" stop-color="#87ff70"/><stop offset="0.7180" stop-color="#8aff6d"/><stop offset="0.7320" stop-color="#8dff6a"/><stop offset="0.7360" stop-color="#90ff66"/><stop offset="0.7420" stop-color="#90ff66"/><stop offset="0.7460" stop-color="#94ff63"/><stop offset="0.8020" stop-color="#94ff63"/><stop offset="0.8180" stop-color="#9dff5a"/><stop offset="0.8260" stop-color="#a0ff56"/><stop offset="0.8320" stop-color="#a4ff53"/><stop offset="0.8460" stop-color="#aaff4d"/><stop offset="0.8520" stop-color="#b1ff46"/><stop offset="0.8560" stop-color="#b4ff43"/><stop offset="0.8640" stop-color="#baff3c"/><stop offset="0.8680" stop-color="#c1ff36"/><stop offset="0.8780" stop-color="#caff2c"/><stop offset="0.8820" stop-color="#ceff29"/><stop offset="0.8840" stop-color="#ceff29"/><stop offset="0.8860" stop-color="#e4ff13"/><stop offset="0.8880" stop-color="#ffdb00"/><stop offset="0.8900" stop-color="#ffab00"/><stop offset="0.8960" stop-color="#ffae00"/><stop offset="0.9000" stop-color="#ffb200"/><stop offset="0.9040" stop-color="#ffc100"/><stop offset="0.9060" stop-color="#ffc400"/><stop offset="0.9100" stop-color="#ffd300"/><stop offset="0.9200" stop-color="#feed00"/><stop offset="0.9260" stop-color="#f4f802"/><stop offset="0.9280" stop-color="#eeff09"/><stop offset="0.9340" stop-color="#e4ff13"/><stop offset="0.9380" stop-color="#dbff1c"/><stop offset="0.9400" stop-color="#d7ff1f"/><stop offset="0.9540" stop-color="#eeff09"/><stop offset="0.9580" stop-color="#f8f500"/><stop offset="0.9640" stop-color="#ffea00"/><stop offset="0.9700" stop-color="#ffde00"/><stop offset="0.9740" stop-color="#ffd300"/><stop offset="0.9780" stop-color="#ffcc00"/><stop offset="0.9800" stop-color="#ffc400"/><stop offset="0.9900" stop-color="#ffb200"/><stop offset="0.9920" stop-color="#ff6800"/><stop offset="0.9940" stop-color="#ff6800"/><stop offset="0.9960" stop-color="#cd0000"/><stop offset="0.9980" stop-color="#800000"/><stop offset="1.0000" stop-color="#800000"/></linearGradient>
<linearGradient id="g6" x1="0" y1="0" x2="0" y2="1"><stop offset="0.0000" stop-color="#000089"/><stop offset="0.0060" stop-color="#00008d"/><stop offset="0.0100" stop-color="#00008d"/><stop offset="0.0120" stop-color="#000092"/><stop offset="0.0180" stop-color="#000092"/><stop offset="0.0240" stop-color="#00009b"/><stop offset="0.0280" stop-color="#0000a4"/><stop offset="0.0300" stop-color="#0000a4"/><stop offset="0.0380" stop-color="#0000b6"/><stop offset="0.0400" stop-color="#0000b6"/><stop offset="0.0420" stop-color="#0000bf"/><stop offset="0.0480" stop-color="#0000cd"/><stop offset="0.0500" stop-color="#0000d6"/><stop offset="0.0540" stop-color="#0000df"/><stop offset="0.0580" stop-color="#0000ed"/><stop offset="0.0660" stop-color="#0000ff"/><stop offset="0.0740" stop-color="#0000ff"/><stop offset="0.0800" stop-color="#000cff"/><stop offset="0.0820" stop-color="#0014ff"/><stop offset="0.0900" stop-color="#002cff"/><stop offset="0.0920" stop-color="#0034ff"/><stop offset="0.1020" stop-color="#0050ff"/><stop offset="0.1100" stop-color="#005cff"/><stop offset="0.1300" stop-color="#0084ff"/><stop offset="0.1340" stop-color="#0088ff"/><stop offset="0.1500" stop-color="#00a8ff"/><stop offset="0.1540" stop-color="#00acff"/><stop offset="0.1640" stop-color="#00b8ff"/><stop offset="0.1740" stop-color="#00c4ff"/><stop offset="0.1800" stop-color="#00ccff"/><stop offset="0.1820" stop-color="#00d0ff"/><stop offset="0.1900" stop-color="#00d8ff"/><stop offset="0.1920" stop-color="#00dcfe"/><stop offset="0.2020" stop-color="#00e4f8"/><stop offset="0.2060" stop-color="#02e8f4"/><stop offset="0.2120" stop-color="#02e8f4"/><stop offset="0.2160" stop-color="#06ecf1"/><stop offset="0.2220" stop-color="#06ecf1"/><stop offset="0.2260" stop-color="#09f0ee"/><stop offset="0.2320" stop-color="#09f0ee"/><stop offset="0.2360" stop-color="#0cf4eb"/><stop offset="0.2420" stop-color="#0cf4eb"/><stop offset="0.2440" stop-color="#0ff8e7"/><stop offset="0.2500" stop-color="#0ff8e7"/><stop offset="0.2540" stop-color="#13fce4"/><stop offset="0.2640" stop-color="#16ffe1"/><stop offset="0.2760" stop-color="#1cffdb"/><stop offset="0.2780" stop-color="#1fffd7"/><stop offset="0.2840" stop-color="#1fffd7"/><stop offset="0.2860" stop-color="#23ffd4"/><stop offset="0.2960" stop-color="#26ffd1"/><stop offset="0.3020" stop-color="#29ffce"/><stop offset="0.3500" stop-color="#29ffce"/><stop offset="0.3540" stop-color="#30ffc7"/><stop offset="0.3600" stop-color="#36ffc1"/><stop offset="0.3640" stop-color="#3cffba"/><stop offset="0.3680" stop-color="#40ffb7"/><stop offset="0.3760" stop-color="#4dffaa"/><stop offset="0.3820" stop-color="#53ffa4"/><stop offset="0.3860" stop-color="#5aff9d"/><stop offset="0.3920" stop-color="#60ff97"/><stop offset="0.3980" stop-color="#6aff8d"/><stop offset="0.4080" stop-color="#70ff87"/><stop offset="0.4140" stop-color="#73ff83"/><stop offset="0.4160" stop-color="#77ff80"/><stop offset="0.4200" stop-color="#77ff80"/><stop offset="0.4320" stop-color="#80ff77"/><stop offset="0.4340" stop-color="#80ff77"/><stop offset="0.4360" stop-color="#83ff73"/><stop offset="0.4480" stop-color="#8aff6d"/><stop offset="0.4540" stop-color="#8dff6a"/><stop offset="0.4660" stop-color="#8dff6a"/><stop offset="0.4700" stop-color="#90ff66"/><stop offset="0.4860" stop-color="#90ff66"/><stop offset="0.4900" stop-color="#94ff63"/><stop offset="0.5060" stop-color="#94ff63"/><stop offset="0.5120" stop-color="#97ff60"/><stop offset="0.5240" stop-color="#97ff60"/><stop offset="0.5280" stop-color="#9aff5d"/><stop offset="0.5440" stop-color="#9aff5d"/><stop offset="0.5480" stop-color="#9dff5a"/><stop offset="0.5520" stop-color="#9dff5a"/><stop offset="0.5560" stop-color="#a4ff53"/><stop offset="0.5640" stop-color="#aaff4d"/><stop offset="0.5700" stop-color="#b1ff46"/><stop offset="0.5800" stop-color="#baff3c"/><stop offset="0.5860" stop-color="#c1ff36"/><stop offset="0.5980" stop-color="#caff2c"/><stop offset="0.6020" stop-color="#ceff29"/><stop offset="0.6520" stop-color="#ceff29"/><stop offset="0.6580" stop-color="#d1ff26"/><stop offset="0.6720" stop-color="#d4ff23"/><stop offset="0.6760" stop-color="#d7ff1f"/><stop offset="0.6820" stop-color="#d7ff1f"/><stop offset="0.6860" stop-color="#dbff1c"/><stop offset="0.6920" stop-color="#dbff1c"/><stop offset="0.6980" stop-color="#deff19"/><stop offset="0.7060" stop-color="#e4ff13"/><stop offset="0.7160" stop-color="#eeff09"/><stop offset="0.7260" stop-color="#f8f500"/><stop offset="0.7340" stop-color="#ffea00"/><stop offset="0.7380" stop-color="#ffe600"/><stop offset="0.7500" stop-color="#ffd700"/><stop offset="0.7580" stop-color="#feed00"/><stop offset="0.7620" stop-color="#f8f500"/><stop offset="0.7660" stop-color="#eeff09"/><stop offset="0.7680" stop-color="#ebff0c"/><stop offset="0.7720" stop-color="#e1ff16"/><stop offset="0.7740" stop-color="#deff19"/><stop offset="0.7760" stop-color="#d7ff1f"/><stop offset="0.7800" stop-color="#d1ff26"/><stop offset="0.7840" stop-color="#c7ff30"/><stop offset="0.8000" stop-color="#a4ff53"/><stop offset="0.8060" stop-color="#a7ff50"/><stop offset="0.8100" stop-color="#a7ff50"/><stop offset="0.8160" stop-color="#aaff4d"/><stop offset="0.8200" stop-color="#aaff4d"/><stop offset="0.8240" stop-color="#adff49"/><stop offset="0.8300" stop-color="#adff49"/><stop offset="0.8340" stop-color="#b1ff46"/><stop offset="0.8400" stop-color="#b1ff46"/><stop offset="0.8460" stop-color="#b4ff43"/><stop offset="0.8520" stop-color="#b7ff40"/><stop offset="0.8700" stop-color="#caff2c"/><stop offset="0.8720" stop-color="#ceff29"/><stop offset="0.8760" stop-color="#d1ff26"/><stop offset="0.8840" stop-color="#d7ff1f"/><stop offset="0.8860" stop-color="#ebff0c"/><stop offset="0.8880" stop-color="#ffd700"/><stop offset="0.8900" stop-color="#ffab00"/><stop offset="0.8960" stop-color="#ffae00"/><stop offset="0.9000" stop-color="#ffb200"/><stop offset="0.9040" stop-color="#ffc100"/><stop offset="0.9060" stop-color="#ffc400"/><stop offset="0.9100" stop-color="#ffd300"/><stop offset="0.9180" stop-color="#ffe200"/><stop offset="0.9200" stop-color="#ffe200"/><stop offset="0.9260" stop-color="#feed00"/><stop offset="0.9300" stop-color="#fbf100"/><stop offset="0.9360" stop-color="#f4f802"/><stop offset="0.9400" stop-color="#eeff09"/><stop offset="0.9460" stop-color="#f4f802"/><stop offset="0.9520" stop-color="#fbf100"/><stop offset="0.9540" stop-color="#fbf100"/><stop offset="0.9560" stop-color="#feed00"/><stop offset="0.9620" stop-color="#ffea00"/><stop offset="0.9700" stop-color="#ffde00"/><stop offset="0.9740" stop-color="#ffd300"/><stop offset="0.9780" stop-color="#ffcc00"/><stop offset="0.9800" stop-color="#ffc400"/><stop offset="0.9900" stop-color="#ffb200"/><stop offset="0.9920" stop-color="#ff6800"/><stop offset="0.9940" stop-color="#ff6800"/><stop offset="0.9960" stop-color="#cd0000"/><stop offset="0.9980" stop-color="#800000"/><stop offset="1.0000" stop-color="#800000"/></linearGradient>
<linearGradient id="g7" x1="0" y1="0" x2="0" y2="1"><stop offset="0.0000" stop-color="#000089"/><stop offset="0.0060" stop-color="#00008d"/><stop offset="0.0100" stop-color="#00008d"/><stop offset="0.0120" stop-color="#000092"/><stop offset="0.0180" stop-color="#000092"/><stop offset="0.0240" stop-color="#00009b"/><stop offset="0.0280" stop-color="#0000a4"/><stop offset="0.0300" stop-color="#0000a4"/><stop offset="0.0380" stop-color="#0000b6"/><stop offset="0.0400" stop-color="#0000b6"/><stop offset="0.0420" stop-color="#0000bf"/><stop offset="0.0480" stop-color="#0000cd"/><stop offset="0.0500" stop-color="#0000d6"/><stop offset="0.0540" stop-color="#0000df"/><stop offset="0.0580" stop-color="#0000ed"/><stop offset="0.0660" stop-color="#0000ff"/><stop offset="0.0740" stop-color="#0000ff"/><stop offset="0.0800" stop-color="#000cff"/><stop offset="0.0820" stop-color="#0014ff"/><stop offset="0.0900" stop-color="#002cff"/><stop offset="0.0920" stop-color="#0034ff"/><stop offset="0.1000" stop-color="#004cff"/><stop offset="0.1100" stop-color="#0054ff"/><stop offset="0.1120" stop-color="#0058ff"/><stop offset="0.1220" stop-color="#0060ff"/><stop offset="0.1320" stop-color="#006cff"/><stop offset="0.1420" stop-color="#0074ff"/><stop offset="0.1500" stop-color="#0080ff"/><stop offset="0.1540" stop-color="#0080ff"/><stop offset="0.1620" stop-color="#0088ff"/><stop offset="0.1720" stop-color="#0090ff"/><stop offset="0.1820" stop-color="#0098ff"/><stop offset="0.1920" stop-color="#00a0ff"/><stop offset="0.1960" stop-color="#00a4ff"/><stop offset="0.2020" stop-color="#00a8ff"/><stop offset="0.2060" stop-color="#00acff"/><stop offset="0.2120" stop-color="#00b0ff"/><stop offset="0.2160" stop-color="#00b4ff"/><stop offset="0.2220" stop-color="#00b8ff"/><stop offset="0.2260" stop-color="#00bcff"/><stop offset="0.2320" stop-color="#00c0ff"/><stop offset="0.2400" stop-color="#00c8ff"/><stop offset="0.2420" stop-color="#00c8ff"/><stop offset="0.2440" stop-color="#00ccff"/><stop offset="0.2520" stop-color="#00d0ff"/><stop offset="0.2540" stop-color="#00d4ff"/><stop offset="0.2560" stop-color="#00d4ff"/><stop offset="0.2580" stop-color="#00d8ff"/><stop offset="0.2620" stop-color="#00d8ff"/><stop offset="0.2640" stop-color="#00dcfe"/><stop offset="0.2660" stop-color="#00dcfe"/><stop offset="0.2680" stop-color="#00e0fb"/><stop offset="0.2720" stop-color="#00e0fb"/><stop offset="0.2740" stop-color="#00e4f8"/><stop offset="0.2760" stop-color="#00e4f8"/><stop offset="0.2780" stop-color="#02e8f4"/><stop offset="0.2800" stop-color="#02e8f4"/><stop offset="0.2840" stop-color="#06ecf1"/><stop offset="0.2940" stop-color="#0cf4eb"/><stop offset="0.3020" stop-color="#0ff8e7"/><stop offset="0.3540" stop-color="#0ff8e7"/><stop offset="0.3560" stop-color="#13fce4"/><stop offset="0.3740" stop-color="#13fce4"/><stop offset="0.3780" stop-color="#16ffe1"/><stop offset="0.3940" stop-color="#16ffe1"/><stop offset="0.3980" stop-color="#19ffde"/><stop offset="0.4060" stop-color="#19ffde"/><stop offset="0.4120" stop-color="#1cffdb"/><stop offset="0.4160" stop-color="#1cffdb"/><stop offset="0.4200" stop-color="#1fffd7"/><stop offset="0.4260" stop-color="#1fffd7"/><stop offset="0.4300" stop-color="#23ffd4"/><stop offset="0.4360" stop-color="#23ffd4"/><stop offset="0.4420" stop-color="#26ffd1"/><stop offset="0.4500" stop-color="#29ffce"/><stop offset="0.4540" stop-color="#30ffc7"/><stop offset="0.4600" stop-color="#36ffc1"/><stop offset="0.4640" stop-color="#3cffba"/><stop offset="0.4680" stop-color="#40ffb7"/><stop offset="0.4760" stop-color="#4dffaa"/><stop offset="0.4800" stop-color="#50ffa7"/><stop offset="0.4860" stop-color="#5aff9d"/><stop offset="0.4900" stop-color="#5dff9a"/><stop offset="0.4980" stop-color="#6aff8d"/><stop offset="0.6500" stop-color="#6aff8d"/><stop offset="0.6540" stop-color="#6dff8a"/><stop offset="0.6620" stop-color="#70ff87"/><stop offset="0.6660" stop-color="#73ff83"/><stop offset="0.6700" stop-color="#73ff83"/><stop offset="0.6720" stop-color="#77ff80"/><stop offset="0.6820" stop-color="#7aff7d"/><stop offset="0.6920" stop-color="#80ff77"/><stop offset="0.6960" stop-color="#80ff77"/><stop offset="0.7000" stop-color="#83ff73"/><stop offset="0.7540" stop-color="#83ff73"/><stop offset="0.7560" stop-color="#87ff70"/><stop offset="0.7640" stop-color="#87ff70"/><stop offset="0.7680" stop-color="#8aff6d"/><stop offset="0.7820" stop-color="#8dff6a"/><stop offset="0.7860" stop-color="#90ff66"/><stop offset="0.7920" stop-color="#90ff66"/><stop offset="0.7960" stop-color="#94ff63"/><stop offset="0.8000" stop-color="#94ff63"/><stop offset="0.8140" stop-color="#9dff5a"/><stop offset="0.8200" stop-color="#a0ff56"/><stop offset="0.8260" stop-color="#a7ff50"/><stop offset="0.8340" stop-color="#aaff4d"/><stop offset="0.8360" stop-color="#adff49"/><stop offset="0.8400" stop-color="#adff49"/><stop offset="0.8460" stop-color="#b4ff43"/><stop offset="0.8520" stop-color="#b7ff40"/><stop offset="0.8820" stop-color="#e7ff0f"/><stop offset="0.8840" stop-color="#e7ff0f"/><stop offset="0.8860" stop-color="#f8f500"/><stop offset="0.8880" stop-color="#ffd000"/><stop offset="0.8900" stop-color="#ffab00"/><stop offset="0.8960" stop-color="#ffae00"/><stop offset="0.9000" stop-color="#ffb200"/><stop offset="0.9040" stop-color="#ffc100"/><stop offset="0.9060" stop-color="#ffc400"/><stop offset="0.9100" stop-color="#ffd300"/><stop offset="0.9180" stop-color="#ffe200"/><stop offset="0.9200" stop-color="#ffe200"/><stop offset="0.9260" stop-color="#feed00"/><stop offset="0.9300" stop-color="#fbf100"/><stop offset="0.9360" stop-color="#f4f802"/><stop offset="0.9400" stop-color="#eeff09"/><stop offset="0.9460" stop-color="#f4f802"/><stop offset="0.9520" stop-color="#fbf100"/><stop offset="0.9540" stop-color="#fbf100"/><stop offset="0.9560" stop-color="#feed00"/><stop offset="0.9620" stop-color="#ffea00"/><stop offset="0.9700" stop-color="#ffde00"/><stop offset="0.9740" stop-color="#ffd300"/><stop offset="0.9780" stop-color="#ffcc00"/><stop offset="0.9800" stop-color="#ffc400"/><stop offset="0.9900" stop-color="#ffb200"/><stop offset="0.9920" stop-color="#ff6800"/><stop offset="0.9940" stop-color="#ff6800"/><stop offset="0.9960" stop-color="#cd0000"/><stop offset="0.9980" stop-color="#800000"/><stop offset="1.0000" stop-color="#800000"/></linearGradient>
<linearGradient id="g8" x1="0" y1="0" x2="0" y2="1"><stop offset="0.0000" stop-color="#000089"/><stop offset="0.0060" stop-color="#00008d"/><stop offset="0.0100" stop-color="#00008d"/><stop offset="0.0120" stop-color="#000092"/><stop offset="0.0180" stop-color="#000092"/><stop offset="0.0240" stop-color="#00009b"/><stop offset="0.0280" stop-color="#0000a4"/><stop offset="0.0300" stop-color="#0000a4"/><stop offset="0.0380" stop-color="#0000b6"/><stop offset="0.0400" stop-color="#0000b6"/><stop offset="0.0420" stop-color="#0000bf"/><stop offset="0.0480" stop-color="#0000cd"/><stop offset="0.0500" stop-color="#0000d6"/><stop offset="0.0540" stop-color="#0000df"/><stop offset="0.0580" stop-color="#0000ed"/><stop offset="0.0660" stop-color="#0000ff"/><stop offset="0.0740" stop-color="#0000ff"/><stop offset="0.0800" stop-color="#000cff"/><stop offset="0.0820" stop-color="#0014ff"/><stop offset="0.0900" stop-color="#002cff"/><stop offset="0.0920" stop-color="#0034ff"/><stop offset="0.1020" stop-color="#0050ff"/><stop offset="0.1100" stop-color="#005cff"/><stop offset="0.1300" stop-color="#0084ff"/><stop offset="0.1340" stop-color="#0088ff"/><stop offset="0.1500" stop-color="#00a8ff"/><stop offset="0.1560" stop-color="#00acff"/><stop offset="0.1620" stop-color="#00b0ff"/><stop offset="0.1660" stop-color="#00b4ff"/><stop offset="0.1720" stop-color="#00b8ff"/><stop offset="0.1760" stop-color="#00bcff"/><stop offset="0.1820" stop-color="#00c0ff"/><stop offset="0.1900" stop-color="#00c8ff"/><stop offset="0.2000" stop-color="#00d0ff"/><stop offset="0.2040" stop-color="#00d0ff"/><stop offset="0.2080" stop-color="#00d4ff"/><stop offset="0.2140" stop-color="#00d4ff"/><stop offset="0.2180" stop-color="#00d8ff"/><stop offset="0.2240" stop-color="#00d8ff"/><stop offset="0.2280" stop-color="#00dcfe"/><stop offset="0.2340" stop-color="#00dcfe"/><stop offset="0.2380" stop-color="#00e0fb"/><stop offset="0.2440" stop-color="#00e0fb"/><stop offset="0.2480" stop-color="#00e4f8"/><stop offset="0.2520" stop-color="#00e4f8"/><stop offset="0.2540" stop-color="#02e8f4"/><stop offset="0.2620" stop-color="#02e8f4"/><stop offset="0.2640" stop-color="#06ecf1"/><stop offset="0.2720" stop-color="#06ecf1"/><stop offset="0.2740" stop-color="#09f0ee"/><stop offset="0.2820" stop-color="#09f0ee"/><stop offset="0.2840" stop-color="#0cf4eb"/><stop offset="0.2920" stop-color="#0cf4eb"/><stop offset="0.2940" stop-color="#0ff8e7"/><stop offset="0.3500" stop-color="#0ff8e7"/><stop offset="0.3540" stop-color="#13fce4"/><stop offset="0.3580" stop-color="#13fce4"/><stop offset="0.3640" stop-color="#16ffe1"/><stop offset="0.3680" stop-color="#19ffde"/><stop offset="0.3760" stop-color="#1cffdb"/><stop offset="0.3780" stop-color="#1fffd7"/><stop offset="0.3840" stop-color="#1fffd7"/><stop offset="0.3860" stop-color="#23ffd4"/><stop offset="0.3900" stop-color="#23ffd4"/><stop offset="0.3940" stop-color="#26ffd1"/><stop offset="0.4020" stop-color="#29ffce"/><stop offset="0.4060" stop-color="#2cffca"/><stop offset="0.4100" stop-color="#2cffca"/><stop offset="0.4140" stop-color="#30ffc7"/><stop offset="0.4340" stop-color="#39ffbe"/><stop offset="0.4420" stop-color="#3cffba"/><stop offset="0.4460" stop-color="#40ffb7"/><stop offset="0.4600" stop-color="#46ffb1"/><stop offset="0.4680" stop-color="#49ffad"/><stop offset="0.4720" stop-color="#4dffaa"/><stop offset="0.4880" stop-color="#53ffa4"/><stop offset="0.4920" stop-color="#56ffa0"/><stop offset="0.4940" stop-color="#56ffa0"/><stop offset="0.4960" stop-color="#5aff9d"/><stop offset="0.5500" stop-color="#5aff9d"/><stop offset="0.5540" stop-color="#5dff9a"/><stop offset="0.5640" stop-color="#63ff94"/><stop offset="0.5680" stop-color="#66ff90"/><stop offset="0.5780" stop-color="#6dff8a"/><stop offset="0.5840" stop-color="#70ff87"/><stop offset="0.5880" stop-color="#73ff83"/><stop offset="0.6020" stop-color="#7dff7a"/><stop offset="0.6540" stop-color="#7dff7a"/><stop offset="0.6620" stop-color="#83ff73"/><stop offset="0.6640" stop-color="#83ff73"/><stop offset="0.6660" stop-color="#87ff70"/><stop offset="0.6780" stop-color="#8dff6a"/><stop offset="0.6820" stop-color="#90ff66"/><stop offset="0.6840" stop-color="#90ff66"/><stop offset="0.6860" stop-color="#94ff63"/><stop offset="0.7020" stop-color="#9dff5a"/><stop offset="0.7560" stop-color="#9dff5a"/><stop offset="0.7600" stop-color="#a0ff56"/><stop offset="0.7660" stop-color="#a0ff56"/><stop offset="0.7700" stop-color="#a4ff53"/><stop offset="0.7760" stop-color="#a4ff53"/><stop offset="0.7820" stop-color="#a7ff50"/><stop offset="0.7960" stop-color="#aaff4d"/><stop offset="0.7980" stop-color="#adff49"/><stop offset="0.8040" stop-color="#adff49"/><stop offset="0.8060" stop-color="#b1ff46"/><stop offset="0.8100" stop-color="#b1ff46"/><stop offset="0.8200" stop-color="#b7ff40"/><stop offset="0.8220" stop-color="#b7ff40"/><stop offset="0.8260" stop-color="#baff3c"/><stop offset="0.8300" stop-color="#baff3c"/><stop offset="0.8340" stop-color="#beff39"/><stop offset="0.8500" stop-color="#c7ff30"/><stop offset="0.8680" stop-color="#ebff0c"/><stop offset="0.8720" stop-color="#f4f802"/><stop offset="0.8740" stop-color="#f8f500"/><stop offset="0.8760" stop-color="#feed00"/><stop offset="0.8820" stop-color="#ffe200"/><stop offset="0.8840" stop-color="#ffe200"/><stop offset="0.8860" stop-color="#ffd000"/><stop offset="0.8900" stop-color="#ff8d00"/><stop offset="0.8940" stop-color="#ff9800"/><stop offset="0.9000" stop-color="#ffab00"/><stop offset="0.9060" stop-color="#ffb600"/><stop offset="0.9100" stop-color="#ffc100"/><stop offset="0.9160" stop-color="#ffcc00"/><stop offset="0.9200" stop-color="#ffd700"/><stop offset="0.9320" stop-color="#feed00"/><stop offset="0.9360" stop-color="#f8f500"/><stop offset="0.9400" stop-color="#eeff09"/><stop offset="0.9460" stop-color="#f4f802"/><stop offset="0.9520" stop-color="#fbf100"/><stop offset="0.9540" stop-color="#fbf100"/><stop offset="0.9560" stop-color="#feed00"/><stop offset="0.9620" stop-color="#ffea00"/><stop offset="0.9700" stop-color="#ffde00"/><stop offset="0.9740" stop-color="#ffd300"/><stop offset="0.9780" stop-color="#ffcc00"/><stop offset="0.9800" stop-color="#ffc400"/><stop offset="0.9900" stop-color="#ffb200"/><stop offset="0.9920" stop-color="#ff6800"/><stop offset="0.9940" stop-color="#ff6800"/><stop offset="0.9960" stop-color="#cd0000"/><stop offset="0.9980" stop-color="#800000"/><stop offset="1.0000" stop-color="#800000"/></linearGradient>
<linearGradient id="g9" x1="0" y1="0" x2="0" y2="1"><stop offset="0.0000" stop-color="#000089"/><stop offset="0.0060" stop-color="#00008d"/><stop offset="0.0100" stop-color="#00008d"/><stop offset="0.0120" stop-color="#000092"/><stop offset="0.0180" stop-color="#000092"/><stop offset="0.0240" stop-color="#00009b"/><stop offset="0.0280" stop-color="#0000a4"/><stop offset="0.0300" stop-color="#0000a4"/><stop offset="0.0380" stop-color="#0000b6"/><stop offset="0.0400" stop-color="#0000b6"/><stop offset="0.0420" stop-color="#0000bf"/><stop offset="0.0480" stop-color="#0000cd"/><stop offset="0.0500" stop-color="#0000d6"/><stop offset="0.0540" stop-color="#0000df"/><stop offset="0.0580" stop-color="#0000ed"/><stop offset="0.0660" stop-color="#0000ff"/><stop offset="0.0740" stop-color="#0000ff"/><stop offset="0.0800" stop-color="#000cff"/><stop offset="0.0820" stop-color="#0014ff"/><stop offset="0.0900" stop-color="#002cff"/><stop offset="0.0920" stop-color="#0034ff"/><stop offset="0.1020" stop-color="#0050ff"/><stop offset="0.1100" stop-color="#005cff"/><stop offset="0.1300" stop-color="#0084ff"/><stop offset="0.1340" stop-color="#0088ff"/><stop offset="0.1500" stop-color="#00a8ff"/><stop offset="0.1560" stop-color="#00acff"/><stop offset="0.1620" stop-color="#00b0ff"/><stop offset="0.1660" stop-color="#00b4ff"/><stop offset="0.1720" stop-color="#00b8ff"/><stop offset="0.1760" stop-color="#00bcff"/><stop offset="0.1820" stop-color="#00c0ff"/><stop offset="0.1900" stop-color="#00c8ff"/><stop offset="0.2000" stop-color="#00d0ff"/><stop offset="0.2060" stop-color="#00d4ff"/><stop offset="0.2140" stop-color="#00d8ff"/><stop offset="0.2220" stop-color="#00dcfe"/><stop offset="0.2260" stop-color="#00e0fb"/><stop offset="0.2340" stop-color="#00e4f8"/><stop offset="0.2380" stop-color="#02e8f4"/><stop offset="0.2420" stop-color="#02e8f4"/><stop offset="0.2440" stop-color="#06ecf1"/><stop offset="0.2480" stop-color="#06ecf1"/><stop offset="0.2520" stop-color="#09f0ee"/><stop offset="0.2580" stop-color="#09f0ee"/><stop offset="0.2620" stop-color="#0cf4eb"/><stop offset="0.2660" stop-color="#0cf4eb"/><stop offset="0.2680" stop-color="#0ff8e7"/><stop offset="0.2760" stop-color="#0ff8e7"/><stop offset="0.2780" stop-color="#13fce4"/><stop offset="0.2860" stop-color="#13fce4"/><stop offset="0.2920" stop-color="#16ffe1"/><stop offset="0.3060" stop-color="#19ffde"/><stop offset="0.3120" stop-color="#1cffdb"/><stop offset="0.3160" stop-color="#1cffdb"/><stop offset="0.3180" stop-color="#1fffd7"/><stop offset="0.3260" stop-color="#1fffd7"/><stop offset="0.3280" stop-color="#23ffd4"/><stop offset="0.3360" stop-color="#23ffd4"/><stop offset="0.3400" stop-color="#26ffd1"/><stop offset="0.3460" stop-color="#26ffd1"/><stop offset="0.3520" stop-color="#29ffce"/><stop offset="0.3600" stop-color="#29ffce"/><stop offset="0.3620" stop-color="#2cffca"/><stop offset="0.3800" stop-color="#2cffca"/><stop offset="0.3820" stop-color="#30ffc7"/><stop offset="0.4000" stop-color="#30ffc7"/><stop offset="0.4040" stop-color="#33ffc4"/><stop offset="0.4180" stop-color="#39ffbe"/><stop offset="0.4220" stop-color="#3cffba"/><stop offset="0.4260" stop-color="#3cffba"/><stop offset="0.4300" stop-color="#40ffb7"/><stop offset="0.4440" stop-color="#46ffb1"/><stop offset="0.4460" stop-color="#49ffad"/><stop offset="0.4500" stop-color="#49ffad"/><stop offset="0.4520" stop-color="#4dffaa"/><stop offset="0.4600" stop-color="#50ffa7"/><stop offset="0.4640" stop-color="#53ffa4"/><stop offset="0.4700" stop-color="#56ffa0"/><stop offset="0.4740" stop-color="#5aff9d"/><stop offset="0.4880" stop-color="#63ff94"/><stop offset="0.4900" stop-color="#63ff94"/><stop offset="0.4920" stop-color="#66ff90"/><stop offset="0.4940" stop-color="#66ff90"/><stop offset="0.4960" stop-color="#6aff8d"/><stop offset="0.5500" stop-color="#6aff8d"/><stop offset="0.5580" stop-color="#70ff87"/><stop offset="0.5600" stop-color="#70ff87"/><stop offset="0.5620" stop-color="#73ff83"/><stop offset="0.5740" stop-color="#7aff7d"/><stop offset="0.5820" stop-color="#80ff77"/><stop offset="0.5880" stop-color="#83ff73"/><stop offset="0.5920" stop-color="#87ff70"/><stop offset="0.6040" stop-color="#8dff6a"/><stop offset="0.6080" stop-color="#8dff6a"/><stop offset="0.6120" stop-color="#90ff66"/><stop offset="0.6180" stop-color="#90ff66"/><stop offset="0.6220" stop-color="#94ff63"/><stop offset="0.6280" stop-color="#94ff63"/><stop offset="0.6340" stop-color="#97ff60"/><stop offset="0.6420" stop-color="#9aff5d"/><stop offset="0.6440" stop-color="#b4ff43"/><stop offset="0.6520" stop-color="#b4ff43"/><stop offset="0.6540" stop-color="#a0ff56"/><stop offset="0.6580" stop-color="#a0ff56"/><stop offset="0.6640" stop-color="#a7ff50"/><stop offset="0.6720" stop-color="#aaff4d"/><stop offset="0.6760" stop-color="#adff49"/><stop offset="0.6900" stop-color="#b7ff40"/><stop offset="0.6920" stop-color="#b7ff40"/><stop offset="0.6980" stop-color="#beff39"/><stop offset="0.8040" stop-color="#beff39"/><stop offset="0.8080" stop-color="#c1ff36"/><stop offset="0.8140" stop-color="#c1ff36"/><stop offset="0.8180" stop-color="#c4ff33"/><stop offset="0.8240" stop-color="#c4ff33"/><stop offset="0.8280" stop-color="#c7ff30"/><stop offset="0.8340" stop-color="#c7ff30"/><stop offset="0.8360" stop-color="#caff2c"/><stop offset="0.8440" stop-color="#caff2c"/><stop offset="0.8460" stop-color="#ceff29"/><stop offset="0.8520" stop-color="#d1ff26"/><stop offset="0.8560" stop-color="#dbff1c"/><stop offset="0.8640" stop-color="#ebff0c"/><stop offset="0.8680" stop-color="#f4f802"/><stop offset="0.8700" stop-color="#f8f500"/><stop offset="0.8720" stop-color="#feed00"/><stop offset="0.8760" stop-color="#ffe600"/><stop offset="0.8780" stop-color="#ffde00"/><stop offset="0.8820" stop-color="#ffd700"/><stop offset="0.8840" stop-color="#ffd700"/><stop offset="0.8860" stop-color="#ffc800"/><stop offset="0.8900" stop-color="#ff8d00"/><stop offset="0.8940" stop-color="#ff9800"/><stop offset="0.9000" stop-color="#ffab00"/><stop offset="0.9060" stop-color="#ffb600"/><stop offset="0.9100" stop-color="#ffc100"/><stop offset="0.9160" stop-color="#ffcc00"/><stop offset="0.9200" stop-color="#ffd700"/><stop offset="0.9320" stop-color="#feed00"/><stop offset="0.9360" stop-color="#f8f500"/><stop offset="0.9400" stop-color="#eeff09"/><stop offset="0.9460" stop-color="#f4f802"/><stop offset="0.9520" stop-color="#fbf100"/><stop offset="0.9540" stop-color="#fbf100"/><stop offset="0.9560" stop-color="#feed00"/><stop offset="0.9620" stop-color="#ffea00"/><stop offset="0.9700" stop-color="#ffde00"/><stop offset="0.9740" stop-color="#ffd300"/><stop offset="0.9780" stop-color="#ffcc00"/><stop offset="0.9800" stop-color="#ffc400"/><stop offset="0.9900" stop-color="#ffb200"/><stop offset="0.9920" stop-color="#ff6800"/><stop offset="0.9940" stop-color="#ff6800"/><stop offset="0.9960" stop-color="#cd0000"/><stop offset="0.9980" stop-color="#800000"/><stop offset="1.0000" stop-color="#800000"/></linearGradient>
<linearGradient id="g10" x1="0" y1="0" x2="0" y2="1"><stop offset="0.0000" stop-color="#000089"/><stop offset="0.0060" stop-color="#00008d"/><stop offset="0.0100" stop-color="#00008d"/><stop offset="0.0120" stop-color="#000092"/><stop offset="0.0180" stop-color="#000092"/><stop offset="0.0240" stop-color="#00009b"/><stop offset="0.0280" stop-color="#0000a4"/><stop offset="0.0300" stop-color="#0000a4"/><stop offset="0.0380" stop-color="#0000b6"/><stop offset="0.0400" stop-color="#0000b6"/><stop offset="0.0420" stop-color="#0000bf"/><stop offset="0.0480" stop-color="#0000cd"/><stop offset="0.0500" stop-color="#0000d6"/><stop offset="0.0540" stop-color="#0000df"/><stop offset="0.0580" stop-color="#0000ed"/><stop offset="0.0660" stop-color="#0000ff"/><stop offset="0.0740" stop-color="#0000ff"/><stop offset="0.0800" stop-color="#000cff"/><stop offset="0.0820" stop-color="#0014ff"/><stop offset="0.0900" stop-color="#002cff"/><stop offset="0.0920" stop-color="#0034ff"/><stop offset="0.1020" stop-color="#0050ff"/><stop offset="0.1520" stop-color="#00b4ff"/><stop offset="0.1600" stop-color="#00b8ff"/><stop offset="0.1620" stop-color="#00bcff"/><stop offset="0.1700" stop-color="#00c0ff"/><stop offset="0.1720" stop-color="#00c4ff"/><stop offset="0.1800" stop-color="#00c8ff"/><stop offset="0.1820" stop-color="#00ccff"/><stop offset="0.1900" stop-color="#00d0ff"/><stop offset="0.1920" stop-color="#00d4ff"/><stop offset="0.2020" stop-color="#00dcfe"/><stop offset="0.2120" stop-color="#00e4f8"/><stop offset="0.2180" stop-color="#02e8f4"/><stop offset="0.2220" stop-color="#06ecf1"/><stop offset="0.2320" stop-color="#0cf4eb"/><stop offset="0.2360" stop-color="#0ff8e7"/><stop offset="0.2460" stop-color="#16ffe1"/><stop offset="0.2580" stop-color="#19ffde"/><stop offset="0.3040" stop-color="#19ffde"/><stop offset="0.3080" stop-color="#1cffdb"/><stop offset="0.3160" stop-color="#1fffd7"/><stop offset="0.3180" stop-color="#23ffd4"/><stop offset="0.3240" stop-color="#23ffd4"/><stop offset="0.3360" stop-color="#29ffce"/><stop offset="0.3380" stop-color="#2cffca"/><stop offset="0.3420" stop-color="#2cffca"/><stop offset="0.3440" stop-color="#30ffc7"/><stop offset="0.3500" stop-color="#30ffc7"/><stop offset="0.3560" stop-color="#33ffc4"/><stop offset="0.3600" stop-color="#33ffc4"/><stop offset="0.3640" stop-color="#36ffc1"/><stop offset="0.3780" stop-color="#39ffbe"/><stop offset="0.3820" stop-color="#3cffba"/><stop offset="0.3880" stop-color="#3cffba"/><stop offset="0.3920" stop-color="#40ffb7"/><stop offset="0.3980" stop-color="#40ffb7"/><stop offset="0.4080" stop-color="#46ffb1"/><stop offset="0.4120" stop-color="#46ffb1"/><stop offset="0.4160" stop-color="#49ffad"/><stop offset="0.4180" stop-color="#49ffad"/><stop offset="0.4220" stop-color="#4dffaa"/><stop offset="0.4380" stop-color="#53ffa4"/><stop offset="0.4420" stop-color="#56ffa0"/><stop offset="0.4440" stop-color="#56ffa0"/><stop offset="0.4460" stop-color="#5aff9d"/><stop offset="0.4500" stop-color="#5aff9d"/><stop offset="0.4540" stop-color="#5dff9a"/><stop offset="0.4700" stop-color="#63ff94"/><stop offset="0.4740" stop-color="#66ff90"/><stop offset="0.4820" stop-color="#6aff8d"/><stop offset="0.4960" stop-color="#70ff87"/><stop offset="0.5000" stop-color="#73ff83"/><stop offset="0.6100" stop-color="#73ff83"/><stop offset="0.6140" stop-color="#77ff80"/><stop offset="0.6300" stop-color="#77ff80"/><stop offset="0.6360" stop-color="#7aff7d"/><stop offset="0.6480" stop-color="#7aff7d"/><stop offset="0.6580" stop-color="#80ff77"/><stop offset="0.6620" stop-color="#83ff73"/><stop offset="0.6640" stop-color="#83ff73"/><stop offset="0.6660" stop-color="#87ff70"/><stop offset="0.6780" stop-color="#8dff6a"/><stop offset="0.6820" stop-color="#90ff66"/><stop offset="0.6840" stop-color="#c7ff30"/><stop offset="0.7040" stop-color="#c7ff30"/><stop offset="0.7060" stop-color="#9aff5d"/><stop offset="0.7120" stop-color="#9aff5d"/><stop offset="0.7180" stop-color="#97ff60"/><stop offset="0.7300" stop-color="#94ff63"/><stop offset="0.7320" stop-color="#90ff66"/><stop offset="0.7400" stop-color="#90ff66"/><stop offset="0.7420" stop-color="#8dff6a"/><stop offset="0.7540" stop-color="#8dff6a"/><stop offset="0.7560" stop-color="#90ff66"/><stop offset="0.7620" stop-color="#90ff66"/><stop offset="0.7660" stop-color="#94ff63"/><stop offset="0.7860" stop-color="#9dff5a"/><stop offset="0.7940" stop-color="#a0ff56"/><stop offset="0.7960" stop-color="#a4ff53"/><stop offset="0.8000" stop-color="#a4ff53"/><stop offset="0.8060" stop-color="#a7ff50"/><stop offset="0.8100" stop-color="#a7ff50"/><stop offset="0.8160" stop-color="#aaff4d"/><stop offset="0.8200" stop-color="#aaff4d"/><stop offset="0.8240" stop-color="#adff49"/><stop offset="0.8300" stop-color="#adff49"/><stop offset="0.8340" stop-color="#b1ff46"/><stop offset="0.8400" stop-color="#b1ff46"/><stop offset="0.8460" stop-color="#b4ff43"/><stop offset="0.8520" stop-color="#b7ff40"/><stop offset="0.8700" stop-color="#caff2c"/><stop offset="0.8720" stop-color="#ceff29"/><stop offset="0.8760" stop-color="#d1ff26"/><stop offset="0.8840" stop-color="#d7ff1f"/><stop offset="0.8860" stop-color="#ebff0c"/><stop offset="0.8880" stop-color="#ffd700"/><stop offset="0.8900" stop-color="#ffab00"/><stop offset="0.8960" stop-color="#ffae00"/><stop offset="0.9000" stop-color="#ffb200"/><stop offset="0.9040" stop-color="#ffc100"/><stop offset="0.9060" stop-color="#ffc400"/><stop offset="0.9100" stop-color="#ffd300"/><stop offset="0.9180" stop-color="#ffe200"/><stop offset="0.9200" stop-color="#ffe200"/><stop offset="0.9260" stop-color="#feed00"/><stop offset="0.9300" stop-color="#fbf100"/><stop offset="0.9360" stop-color="#f4f802"/><stop offset="0.9400" stop-color="#eeff09"/><stop offset="0.9460" stop-color="#f4f802"/><stop offset="0.9520" stop-color="#fbf100"/><stop offset="0.9540" stop-color="#fbf100"/><stop offset="0.9560" stop-color="#feed00"/><stop offset="0.9620" stop-color="#ffea00"/><stop offset="0.9700" stop-color="#ffde00"/><stop offset="0.9740" stop-color="#ffd300"/><stop offset="0.9780" stop-color="#ffcc00"/><stop offset="0.9800" stop-color="#ffc400"/><stop offset="0.9900" stop-color="#ffb200"/><stop offset="0.9920" stop-color="#ff6800"/><stop offset="0.9940" stop-color="#ff6800"/><stop offset="0.9960" stop-color="#cd0000"/><stop offset="0.9980" stop-color="#800000"/><stop offset="1.0000" stop-color="#800000"/></linearGradient>
<linearGradient id="g11" x1="0" y1="0" x2="0" y2="1"><stop offset="0.0000" stop-color="#000089"/><stop offset="0.0020" stop-color="#00008d"/><stop offset="0.0040" stop-color="#00008d"/><stop offset="0.0060" stop-color="#000092"/><stop offset="0.0120" stop-color="#000096"/><stop offset="0.0140" stop-color="#00009b"/><stop offset="0.0200" stop-color="#00009f"/><stop offset="0.0400" stop-color="#0000cd"/><stop offset="0.0480" stop-color="#0000f1"/><stop offset="0.0500" stop-color="#0000f6"/><stop offset="0.0520" stop-color="#0000ff"/><stop offset="0.0560" stop-color="#0000ff"/><stop offset="0.0580" stop-color="#0008ff"/><stop offset="0.0600" stop-color="#000cff"/><stop offset="0.0680" stop-color="#002cff"/><stop offset="0.0700" stop-color="#0030ff"/><stop offset="0.0760" stop-color="#0048ff"/><stop offset="0.0800" stop-color="#0054ff"/><stop offset="0.0820" stop-color="#005cff"/><stop offset="0.0880" stop-color="#0068ff"/><stop offset="0.0920" stop-color="#0074ff"/><stop offset="0.1000" stop-color="#0088ff"/><stop offset="0.1020" stop-color="#0090ff"/><stop offset="0.1120" stop-color="#00acff"/><stop offset="0.1220" stop-color="#00ccff"/><stop offset="0.1260" stop-color="#00d8ff"/><stop offset="0.1300" stop-color="#00e4f8"/><stop offset="0.1320" stop-color="#06ecf1"/><stop offset="0.1380" stop-color="#13fce4"/><stop offset="0.1440" stop-color="#23ffd4"/><stop offset="0.1520" stop-color="#33ffc4"/><stop offset="0.1600" stop-color="#39ffbe"/><stop offset="0.1620" stop-color="#3cffba"/><stop offset="0.1760" stop-color="#46ffb1"/><stop offset="0.1820" stop-color="#4dffaa"/><stop offset="0.1920" stop-color="#53ffa4"/><stop offset="0.1980" stop-color="#5aff9d"/><stop offset="0.2200" stop-color="#63ff94"/><stop offset="0.2220" stop-color="#66ff90"/><stop offset="0.2260" stop-color="#66ff90"/><stop offset="0.2300" stop-color="#6aff8d"/><stop offset="0.2460" stop-color="#70ff87"/><stop offset="0.2520" stop-color="#77ff80"/><stop offset="0.2600" stop-color="#7dff7a"/><stop offset="0.2700" stop-color="#87ff70"/><stop offset="0.2780" stop-color="#90ff66"/><stop offset="0.2800" stop-color="#90ff66"/><stop offset="0.2920" stop-color="#9dff5a"/><stop offset="0.2960" stop-color="#a0ff56"/><stop offset="0.3020" stop-color="#a7ff50"/><stop offset="0.3100" stop-color="#a7ff50"/><stop offset="0.3160" stop-color="#aaff4d"/><stop offset="0.3200" stop-color="#aaff4d"/><stop offset="0.3240" stop-color="#adff49"/><stop offset="0.3300" stop-color="#adff49"/><stop offset="0.3340" stop-color="#b1ff46"/><stop offset="0.3400" stop-color="#b1ff46"/><stop offset="0.3460" stop-color="#b4ff43"/><stop offset="0.3560" stop-color="#b7ff40"/><stop offset="0.3600" stop-color="#baff3c"/><stop offset="0.3680" stop-color="#beff39"/><stop offset="0.3880" stop-color="#c7ff30"/><stop offset="0.3920" stop-color="#caff2c"/><stop offset="0.3960" stop-color="#caff2c"/><stop offset="0.3980" stop-color="#ceff29"/><stop offset="0.4020" stop-color="#d1ff26"/><stop offset="0.4140" stop-color="#e4ff13"/><stop offset="0.4180" stop-color="#e7ff0f"/><stop offset="0.4240" stop-color="#f1fc06"/><stop offset="0.4280" stop-color="#f8f500"/><stop offset="0.4340" stop-color="#ffea00"/><stop offset="0.4400" stop-color="#ffde00"/><stop offset="0.4440" stop-color="#ffdb00"/><stop offset="0.4500" stop-color="#ffd000"/><stop offset="0.4600" stop-color="#ffd300"/><stop offset="0.4620" stop-color="#ffd700"/><stop offset="0.4660" stop-color="#ffd700"/><stop offset="0.4700" stop-color="#ffdb00"/><stop offset="0.4800" stop-color="#ffde00"/><stop offset="0.4840" stop-color="#ffe200"/><stop offset="0.4920" stop-color="#ffe600"/><stop offset="0.4960" stop-color="#ffea00"/><stop offset="0.5000" stop-color="#feed00"/><stop offset="0.5120" stop-color="#ffe200"/><stop offset="0.5140" stop-color="#ffe200"/><stop offset="0.5160" stop-color="#ffde00"/><stop offset="0.5240" stop-color="#ffdb00"/><stop offset="0.5260" stop-color="#ffd700"/><stop offset="0.5280" stop-color="#ffd700"/><stop offset="0.5320" stop-color="#ffd300"/><stop offset="0.5380" stop-color="#ffd000"/><stop offset="0.5420" stop-color="#ffcc00"/><stop offset="0.5440" stop-color="#ffcc00"/><stop offset="0.5460" stop-color="#ffc800"/><stop offset="0.5540" stop-color="#ffc100"/><stop offset="0.5660" stop-color="#ffb200"/><stop offset="0.5740" stop-color="#ffab00"/><stop offset="0.5820" stop-color="#ff9f00"/><stop offset="0.5880" stop-color="#ff9c00"/><stop offset="0.5920" stop-color="#ff9400"/><stop offset="0.5980" stop-color="#ff9100"/><stop offset="0.6020" stop-color="#ff8d00"/><stop offset="0.6100" stop-color="#ff8900"/><stop offset="0.6220" stop-color="#ff8600"/><stop offset="0.6260" stop-color="#ff8200"/><stop offset="0.6320" stop-color="#ff8200"/><stop offset="0.6360" stop-color="#ff7e00"/><stop offset="0.6420" stop-color="#ff7e00"/><stop offset="0.6460" stop-color="#ff7a00"/><stop offset="0.6520" stop-color="#ff7a00"/><stop offset="0.6580" stop-color="#ff7700"/><stop offset="0.6620" stop-color="#ff7300"/><stop offset="0.6640" stop-color="#ff7300"/><stop offset="0.6660" stop-color="#ff6f00"/><stop offset="0.6700" stop-color="#ff6f00"/><stop offset="0.6740" stop-color="#ff6c00"/><stop offset="0.6780" stop-color="#ff6c00"/><stop offset="0.6820" stop-color="#ff6800"/><stop offset="0.6840" stop-color="#ff6800"/><stop offset="0.6860" stop-color="#ff6400"/><stop offset="0.6900" stop-color="#ff6400"/><stop offset="0.6940" stop-color="#ff6000"/><stop offset="0.7020" stop-color="#ff5d00"/><stop offset="0.7060" stop-color="#ff5500"/><stop offset="0.7100" stop-color="#ff5200"/><stop offset="0.7220" stop-color="#ff4300"/><stop offset="0.7240" stop-color="#ff4300"/><stop offset="0.7260" stop-color="#ff3f00"/><stop offset="0.7300" stop-color="#ff3b00"/><stop offset="0.7360" stop-color="#ff3400"/><stop offset="0.7420" stop-color="#ff2d00"/><stop offset="0.7440" stop-color="#ff2d00"/><stop offset="0.7480" stop-color="#ff2500"/><stop offset="0.7520" stop-color="#ff2500"/><stop offset="0.7560" stop-color="#ff2d00"/><stop offset="0.7620" stop-color="#ff3000"/><stop offset="0.7660" stop-color="#ff3800"/><stop offset="0.7700" stop-color="#ff3b00"/><stop offset="0.7760" stop-color="#ff4300"/><stop offset="0.7780" stop-color="#ff4300"/><stop offset="0.7820" stop-color="#ff4a00"/><stop offset="0.7840" stop-color="#ff4a00"/><stop offset="0.7860" stop-color="#ff4e00"/><stop offset="0.7900" stop-color="#ff5200"/><stop offset="0.7960" stop-color="#ff5900"/><stop offset="0.7980" stop-color="#ff5d00"/><stop offset="0.8020" stop-color="#ff6000"/><stop offset="0.8100" stop-color="#ff6c00"/><stop offset="0.8140" stop-color="#ff6f00"/><stop offset="0.8180" stop-color="#ff7700"/><stop offset="0.8220" stop-color="#ff7a00"/><stop offset="0.8320" stop-color="#ff8900"/><stop offset="0.8340" stop-color="#ff8900"/><stop offset="0.8380" stop-color="#ff9100"/><stop offset="0.8420" stop-color="#ff9400"/><stop offset="0.8460" stop-color="#ff9c00"/><stop offset="0.8520" stop-color="#ff9f00"/><stop offset="0.8580" stop-color="#ff9c00"/><stop offset="0.8620" stop-color="#ff9800"/><stop offset="0.8640" stop-color="#ff9800"/><stop offset="0.8660" stop-color="#ff9400"/><stop offset="0.8760" stop-color="#ff9100"/><stop offset="0.8800" stop-color="#ff8d00"/><stop offset="0.8840" stop-color="#ff8d00"/><stop offset="0.8860" stop-color="#ff8200"/><stop offset="0.8900" stop-color="#ff5500"/><stop offset="0.9020" stop-color="#ff6c00"/><stop offset="0.9060" stop-color="#ff6f00"/><stop offset="0.9120" stop-color="#ff7a00"/><stop offset="0.9140" stop-color="#ff7a00"/><stop offset="0.9160" stop-color="#ff7e00"/><stop offset="0.9200" stop-color="#ff7e00"/><stop offset="0.9240" stop-color="#ff8200"/><stop offset="0.9300" stop-color="#ff8600"/><stop offset="0.9360" stop-color="#ff8900"/><stop offset="0.9460" stop-color="#ff9800"/><stop offset="0.9500" stop-color="#ff9f00"/><stop offset="0.9540" stop-color="#ffab00"/><stop offset="0.9680" stop-color="#ffc400"/><stop offset="0.9780" stop-color="#ffc100"/><stop offset="0.9820" stop-color="#ffbd00"/><stop offset="0.9840" stop-color="#ffbd00"/><stop offset="0.9900" stop-color="#ffb200"/><stop offset="0.9920" stop-color="#ff6800"/><stop offset="0.9940" stop-color="#ff6800"/><stop offset="0.9960" stop-color="#cd0000"/><stop offset="0.9980" stop-color="#800000"/><stop offset="1.0000" stop-color="#800000"/></linearGradient>
<linearGradient id="g12" x1="0" y1="0" x2="0" y2="1"><stop offset="0.0000" stop-color="#000089"/><stop offset="0.0060" stop-color="#00008d"/><stop offset="0.0100" stop-color="#00008d"/><stop offset="0.0120" stop-color="#000092"/><stop offset="0.0180" stop-color="#000092"/><stop offset="0.0240" stop-color="#00009b"/><stop offset="0.0280" stop-color="#0000a4"/><stop offset="0.0300" stop-color="#0000a4"/><stop offset="0.0380" stop-color="#0000b6"/><stop offset="0.0400" stop-color="#0000b6"/><stop offset="0.0420" stop-color="#0000bf"/><stop offset="0.0480" stop-color="#0000d1"/><stop offset="0.0520" stop-color="#0000e3"/><stop offset="0.0600" stop-color="#0000ff"/><stop offset="0.0640" stop-color="#0000ff"/><stop offset="0.0680" stop-color="#0014ff"/><stop offset="0.0720" stop-color="#0024ff"/><stop offset="0.0760" stop-color="#0038ff"/><stop offset="0.0800" stop-color="#004cff"/><stop offset="0.1040" stop-color="#007cff"/><stop offset="0.1080" stop-color="#0088ff"/><stop offset="0.1120" stop-color="#0090ff"/><stop offset="0.1160" stop-color="#009cff"/><stop offset="0.1220" stop-color="#00a8ff"/><stop offset="0.1260" stop-color="#00b4ff"/><stop offset="0.1300" stop-color="#00bcff"/><stop offset="0.1320" stop-color="#00c4ff"/><stop offset="0.1380" stop-color="#00d0ff"/><stop offset="0.1420" stop-color="#00dcfe"/><stop offset="0.1480" stop-color="#02e8f4"/><stop offset="0.1500" stop-color="#09f0ee"/><stop offset="0.1580" stop-color="#09f0ee"/><stop offset="0.1620" stop-color="#0cf4eb"/><stop offset="0.1660" stop-color="#0cf4eb"/><stop offset="0.1700" stop-color="#0ff8e7"/><stop offset="0.1760" stop-color="#0ff8e7"/><stop offset="0.1800" stop-color="#13fce4"/><stop offset="0.1860" stop-color="#13fce4"/><stop offset="0.1920" stop-color="#16ffe1"/><stop offset="0.2040" stop-color="#19ffde"/><stop offset="0.2100" stop-color="#1cffdb"/><stop offset="0.2120" stop-color="#1fffd7"/><stop offset="0.2160" stop-color="#1fffd7"/><stop offset="0.2200" stop-color="#23ffd4"/><stop offset="0.2300" stop-color="#26ffd1"/><stop offset="0.2340" stop-color="#29ffce"/><stop offset="0.2420" stop-color="#2cffca"/><stop offset="0.2440" stop-color="#30ffc7"/><stop offset="0.2500" stop-color="#30ffc7"/><stop offset="0.2560" stop-color="#33ffc4"/><stop offset="0.2700" stop-color="#33ffc4"/><stop offset="0.2760" stop-color="#36ffc1"/><stop offset="0.2880" stop-color="#36ffc1"/><stop offset="0.2940" stop-color="#39ffbe"/><stop offset="0.3080" stop-color="#39ffbe"/><stop offset="0.3100" stop-color="#3cffba"/><stop offset="0.3280" stop-color="#3cffba"/><stop offset="0.3320" stop-color="#40ffb7"/><stop offset="0.3480" stop-color="#40ffb7"/><stop offset="0.3540" stop-color="#43ffb4"/><stop offset="0.3660" stop-color="#43ffb4"/><stop offset="0.3720" stop-color="#46ffb1"/><stop offset="0.3860" stop-color="#46ffb1"/><stop offset="0.3880" stop-color="#49ffad"/><stop offset="0.4020" stop-color="#49ffad"/><stop offset="0.4060" stop-color="#4dffaa"/><stop offset="0.4120" stop-color="#4dffaa"/><stop offset="0.4180" stop-color="#50ffa7"/><stop offset="0.4320" stop-color="#53ffa4"/><stop offset="0.4360" stop-color="#56ffa0"/><stop offset="0.4420" stop-color="#56ffa0"/><stop offset="0.4460" stop-color="#5aff9d"/><stop offset="0.4500" stop-color="#5aff9d"/><stop offset="0.4540" stop-color="#5dff9a"/><stop offset="0.4640" stop-color="#63ff94"/><stop offset="0.4680" stop-color="#66ff90"/><stop offset="0.4780" stop-color="#6dff8a"/><stop offset="0.4840" stop-color="#70ff87"/><stop offset="0.4860" stop-color="#73ff83"/><stop offset="0.4900" stop-color="#73ff83"/><stop offset="0.4920" stop-color="#77ff80"/><stop offset="0.5040" stop-color="#7dff7a"/><stop offset="0.5680" stop-color="#7dff7a"/><stop offset="0.5740" stop-color="#80ff77"/><stop offset="0.5880" stop-color="#80ff77"/><stop offset="0.5920" stop-color="#83ff73"/><stop offset="0.6520" stop-color="#83ff73"/><stop offset="0.6580" stop-color="#8aff6d"/><stop offset="0.6660" stop-color="#8dff6a"/><stop offset="0.6680" stop-color="#90ff66"/><stop offset="0.6700" stop-color="#90ff66"/><stop offset="0.6720" stop-color="#94ff63"/><stop offset="0.6800" stop-color="#97ff60"/><stop offset="0.6900" stop-color="#9dff5a"/><stop offset="0.6940" stop-color="#a0ff56"/><stop offset="0.7040" stop-color="#a7ff50"/><stop offset="0.7100" stop-color="#a7ff50"/><stop offset="0.7160" stop-color="#aaff4d"/><stop offset="0.7200" stop-color="#aaff4d"/><stop offset="0.7220" stop-color="#adff49"/><stop offset="0.7300" stop-color="#adff49"/><stop offset="0.7320" stop-color="#b1ff46"/><stop offset="0.7400" stop-color="#b1ff46"/><stop offset="0.7460" stop-color="#b4ff43"/><stop offset="0.7660" stop-color="#b4ff43"/><stop offset="0.7720" stop-color="#b1ff46"/><stop offset="0.7860" stop-color="#b1ff46"/><stop offset="0.7880" stop-color="#adff49"/><stop offset="0.8060" stop-color="#adff49"/><stop offset="0.8080" stop-color="#b1ff46"/><stop offset="0.8160" stop-color="#b1ff46"/><stop offset="0.8200" stop-color="#b4ff43"/><stop offset="0.8240" stop-color="#b4ff43"/><stop offset="0.8280" stop-color="#b7ff40"/><stop offset="0.8340" stop-color="#b7ff40"/><stop offset="0.8360" stop-color="#baff3c"/><stop offset="0.8440" stop-color="#baff3c"/><stop offset="0.8460" stop-color="#beff39"/><stop offset="0.8540" stop-color="#c1ff36"/><stop offset="0.8580" stop-color="#c7ff30"/><stop offset="0.8620" stop-color="#caff2c"/><stop offset="0.8740" stop-color="#d7ff1f"/><stop offset="0.8760" stop-color="#dbff1c"/><stop offset="0.8840" stop-color="#deff19"/><stop offset="0.8860" stop-color="#f1fc06"/><stop offset="0.8880" stop-color="#ffd300"/><stop offset="0.8900" stop-color="#ffab00"/><stop offset="0.8960" stop-color="#ffae00"/><stop offset="0.9000" stop-color="#ffb200"/><stop offset="0.9040" stop-color="#ffc100"/><stop offset="0.9060" stop-color="#ffc400"/><stop offset="0.9100" stop-color="#ffd300"/><stop offset="0.9180" stop-color="#ffe200"/><stop offset="0.9200" stop-color="#ffe200"/><stop offset="0.9260" stop-color="#feed00"/><stop offset="0.9300" stop-color="#fbf100"/><stop offset="0.9360" stop-color="#f4f802"/><stop offset="0.9400" stop-color="#eeff09"/><stop offset="0.9460" stop-color="#f4f802"/><stop offset="0.9520" stop-color="#fbf100"/><stop offset="0.9540" stop-color="#fbf100"/><stop offset="0.9560" stop-color="#feed00"/><stop offset="0.9620" stop-color="#ffea00"/><stop offset="0.9700" stop-color="#ffde00"/><stop offset="0.9740" stop-color="#ffd300"/><stop offset="0.9780" stop-color="#ffcc00"/><stop offset="0.9800" stop-color="#ffc400"/><stop offset="0.9900" stop-color="#ffb200"/><stop offset="0.9920" stop-color="#ff6800"/><stop offset="0.9940" stop-color="#ff6800"/><stop offset="0.9960" stop-color="#cd0000"/><stop offset="0.9980" stop-color="#800000"/><stop offset="1.0000" stop-color="#800000"/></linearGradient>
<linearGradient id="g13" x1="0" y1="0" x2="0" y2="1"><stop offset="0.0000" stop-color="#000089"/><stop offset="0.0060" stop-color="#00008d"/><stop offset="0.0100" stop-color="#00008d"/><stop offset="0.0120" stop-color="#000092"/><stop offset="0.0180" stop-color="#000092"/><stop offset="0.0240" stop-color="#00009b"/><stop offset="0.0300" stop-color="#00009f"/><stop offset="0.0320" stop-color="#0000a4"/><stop offset="0.0380" stop-color="#0000a8"/><stop offset="0.0760" stop-color="#0000ff"/><stop offset="0.0820" stop-color="#0000ff"/><stop offset="0.0920" stop-color="#001cff"/><stop offset="0.0960" stop-color="#002cff"/><stop offset="0.1040" stop-color="#0040ff"/><stop offset="0.1080" stop-color="#004cff"/><stop offset="0.1100" stop-color="#0050ff"/><stop offset="0.1120" stop-color="#0058ff"/><stop offset="0.1160" stop-color="#0060ff"/><stop offset="0.1200" stop-color="#006cff"/><stop offset="0.1260" stop-color="#007cff"/><stop offset="0.1340" stop-color="#0090ff"/><stop offset="0.1380" stop-color="#009cff"/><stop offset="0.1400" stop-color="#00a0ff"/><stop offset="0.1420" stop-color="#00a8ff"/><stop offset="0.1460" stop-color="#00b0ff"/><stop offset="0.1500" stop-color="#00bcff"/><stop offset="0.1540" stop-color="#00c0ff"/><stop offset="0.1600" stop-color="#00c8ff"/><stop offset="0.1620" stop-color="#00ccff"/><stop offset="0.1700" stop-color="#00d4ff"/><stop offset="0.1720" stop-color="#00d8ff"/><stop offset="0.1800" stop-color="#00e0fb"/><stop offset="0.1820" stop-color="#00e4f8"/><stop offset="0.1860" stop-color="#02e8f4"/><stop offset="0.1920" stop-color="#09f0ee"/><stop offset="0.1960" stop-color="#0cf4eb"/><stop offset="0.2020" stop-color="#13fce4"/><stop offset="0.2080" stop-color="#13fce4"/><stop offset="0.2140" stop-color="#16ffe1"/><stop offset="0.2240" stop-color="#1cffdb"/><stop offset="0.2320" stop-color="#1fffd7"/><stop offset="0.2520" stop-color="#29ffce"/><stop offset="0.2580" stop-color="#2cffca"/><stop offset="0.2640" stop-color="#2cffca"/><stop offset="0.2680" stop-color="#30ffc7"/><stop offset="0.2740" stop-color="#30ffc7"/><stop offset="0.2800" stop-color="#33ffc4"/><stop offset="0.2940" stop-color="#36ffc1"/><stop offset="0.2980" stop-color="#39ffbe"/><stop offset="0.3080" stop-color="#39ffbe"/><stop offset="0.3100" stop-color="#3cffba"/><stop offset="0.3280" stop-color="#3cffba"/><stop offset="0.3320" stop-color="#40ffb7"/><stop offset="0.3480" stop-color="#40ffb7"/><stop offset="0.3540" stop-color="#43ffb4"/><stop offset="0.3660" stop-color="#43ffb4"/><stop offset="0.3720" stop-color="#46ffb1"/><stop offset="0.3860" stop-color="#46ffb1"/><stop offset="0.3880" stop-color="#49ffad"/><stop offset="0.4020" stop-color="#49ffad"/><stop offset="0.4060" stop-color="#4dffaa"/><stop offset="0.4120" stop-color="#4dffaa"/><stop offset="0.4180" stop-color="#50ffa7"/><stop offset="0.4320" stop-color="#53ffa4"/><stop offset="0.4360" stop-color="#56ffa0"/><stop offset="0.4420" stop-color="#56ffa0"/><stop offset="0.4460" stop-color="#5aff9d"/><stop offset="0.4520" stop-color="#5aff9d"/><stop offset="0.4580" stop-color="#5dff9a"/><stop offset="0.4700" stop-color="#60ff97"/><stop offset="0.4760" stop-color="#63ff94"/><stop offset="0.4800" stop-color="#63ff94"/><stop offset="0.4840" stop-color="#66ff90"/><stop offset="0.4900" stop-color="#66ff90"/><stop offset="0.4920" stop-color="#6aff8d"/><stop offset="0.5500" stop-color="#6aff8d"/><stop offset="0.5580" stop-color="#70ff87"/><stop offset="0.5600" stop-color="#70ff87"/><stop offset="0.5620" stop-color="#73ff83"/><stop offset="0.5740" stop-color="#7aff7d"/><stop offset="0.5820" stop-color="#80ff77"/><stop offset="0.5880" stop-color="#83ff73"/><stop offset="0.5920" stop-color="#87ff70"/><stop offset="0.6040" stop-color="#8dff6a"/><stop offset="0.7000" stop-color="#8dff6a"/><stop offset="0.7060" stop-color="#8aff6d"/><stop offset="0.7200" stop-color="#87ff70"/><stop offset="0.7220" stop-color="#83ff73"/><stop offset="0.7300" stop-color="#83ff73"/><stop offset="0.7320" stop-color="#80ff77"/><stop offset="0.7400" stop-color="#80ff77"/><stop offset="0.7460" stop-color="#7dff7a"/><stop offset="0.7560" stop-color="#7dff7a"/><stop offset="0.7620" stop-color="#80ff77"/><stop offset="0.7660" stop-color="#83ff73"/><stop offset="0.7680" stop-color="#83ff73"/><stop offset="0.7720" stop-color="#87ff70"/><stop offset="0.7880" stop-color="#8dff6a"/><stop offset="0.7920" stop-color="#90ff66"/><stop offset="0.7940" stop-color="#90ff66"/><stop offset="0.7960" stop-color="#94ff63"/><stop offset="0.8000" stop-color="#94ff63"/><stop offset="0.8120" stop-color="#9dff5a"/><stop offset="0.8180" stop-color="#a4ff53"/><stop offset="0.8280" stop-color="#aaff4d"/><stop offset="0.8300" stop-color="#adff49"/><stop offset="0.8320" stop-color="#adff49"/><stop offset="0.8380" stop-color="#b4ff43"/><stop offset="0.8440" stop-color="#b7ff40"/><stop offset="0.8460" stop-color="#baff3c"/><stop offset="0.8500" stop-color="#beff39"/><stop offset="0.8620" stop-color="#caff2c"/><stop offset="0.8740" stop-color="#d7ff1f"/><stop offset="0.8760" stop-color="#dbff1c"/><stop offset="0.8840" stop-color="#deff19"/><stop offset="0.8860" stop-color="#f1fc06"/><stop offset="0.8880" stop-color="#ffd300"/><stop offset="0.8900" stop-color="#ffab00"/><stop offset="0.8960" stop-color="#ffae00"/><stop offset="0.9000" stop-color="#ffb200"/><stop offset="0.9040" stop-color="#ffc100"/><stop offset="0.9060" stop-color="#ffc400"/><stop offset="0.9100" stop-color="#ffd300"/><stop offset="0.9180" stop-color="#ffe200"/><stop offset="0.9200" stop-color="#ffe200"/><stop offset="0.9260" stop-color="#feed00"/><stop offset="0.9300" stop-color="#fbf100"/><stop offset="0.9360" stop-color="#f4f802"/><stop offset="0.9400" stop-color="#eeff09"/><stop offset="0.9460" stop-color="#f4f802"/><stop offset="0.9520" stop-color="#fbf100"/><stop offset="0.9540" stop-color="#fbf100"/><stop offset="0.9560" stop-color="#feed00"/><stop offset="0.9620" stop-color="#ffea00"/><stop offset="0.9700" stop-color="#ffde00"/><stop offset="0.9740" stop-color="#ffd300"/><stop offset="0.9780" stop-color="#ffcc00"/><stop offset="0.9800" stop-color="#ffc400"/><stop offset="0.9900" stop-color="#ffb200"/><stop offset="0.9920" stop-color="#ff6800"/><stop offset="0.9940" stop-color="#ff6800"/><stop offset="0.9960" stop-color="#cd0000"/><stop offset="0.9980" stop-color="#800000"/><stop offset="1.0000" stop-color="#800000"/></linearGradient>
<linearGradient id="g14" x1="0" y1="0" x2="0" y2="1"><stop offset="0.0000" stop-color="#000089"/><stop offset="0.0060" stop-color="#00008d"/><stop offset="0.0100" stop-color="#00008d"/><stop offset="0.0120" stop-color="#000092"/><stop offset="0.0180" stop-color="#000092"/><stop offset="0.0260" stop-color="#0000a4"/><stop offset="0.0300" stop-color="#0000b2"/><stop offset="0.0320" stop-color="#0000b6"/><stop offset="0.0360" stop-color="#0000c4"/><stop offset="0.0400" stop-color="#0000cd"/><stop offset="0.0480" stop-color="#0000f6"/><stop offset="0.0500" stop-color="#0000ff"/><stop offset="0.0540" stop-color="#0000ff"/><stop offset="0.0880" stop-color="#0088ff"/><stop offset="0.0900" stop-color="#008cff"/><stop offset="0.0980" stop-color="#00acff"/><stop offset="0.1000" stop-color="#00b0ff"/><stop offset="0.1020" stop-color="#00b8ff"/><stop offset="0.1060" stop-color="#00c0ff"/><stop offset="0.1100" stop-color="#00ccff"/><stop offset="0.1160" stop-color="#00dcfe"/><stop offset="0.1200" stop-color="#02e8f4"/><stop offset="0.1240" stop-color="#09f0ee"/><stop offset="0.1280" stop-color="#13fce4"/><stop offset="0.1340" stop-color="#1fffd7"/><stop offset="0.1460" stop-color="#39ffbe"/><stop offset="0.1500" stop-color="#43ffb4"/><stop offset="0.1580" stop-color="#46ffb1"/><stop offset="0.1620" stop-color="#49ffad"/><stop offset="0.1720" stop-color="#50ffa7"/><stop offset="0.1780" stop-color="#53ffa4"/><stop offset="0.1840" stop-color="#5aff9d"/><stop offset="0.1920" stop-color="#5dff9a"/><stop offset="0.2040" stop-color="#63ff94"/><stop offset="0.2080" stop-color="#66ff90"/><stop offset="0.2100" stop-color="#66ff90"/><stop offset="0.2120" stop-color="#6aff8d"/><stop offset="0.2220" stop-color="#6dff8a"/><stop offset="0.2280" stop-color="#70ff87"/><stop offset="0.2300" stop-color="#70ff87"/><stop offset="0.2320" stop-color="#73ff83"/><stop offset="0.2360" stop-color="#73ff83"/><stop offset="0.2400" stop-color="#77ff80"/><stop offset="0.2520" stop-color="#7dff7a"/><stop offset="0.2640" stop-color="#8aff6d"/><stop offset="0.2680" stop-color="#8dff6a"/><stop offset="0.2740" stop-color="#94ff63"/><stop offset="0.2780" stop-color="#97ff60"/><stop offset="0.2840" stop-color="#9dff5a"/><stop offset="0.2860" stop-color="#a0ff56"/><stop offset="0.2880" stop-color="#a0ff56"/><stop offset="0.2900" stop-color="#a4ff53"/><stop offset="0.2940" stop-color="#a7ff50"/><stop offset="0.3020" stop-color="#adff49"/><stop offset="0.3060" stop-color="#adff49"/><stop offset="0.3100" stop-color="#b1ff46"/><stop offset="0.3160" stop-color="#b1ff46"/><stop offset="0.3200" stop-color="#b4ff43"/><stop offset="0.3340" stop-color="#b7ff40"/><stop offset="0.3380" stop-color="#baff3c"/><stop offset="0.3440" stop-color="#baff3c"/><stop offset="0.3460" stop-color="#beff39"/><stop offset="0.3540" stop-color="#beff39"/><stop offset="0.3580" stop-color="#c1ff36"/><stop offset="0.3640" stop-color="#c1ff36"/><stop offset="0.3680" stop-color="#c4ff33"/><stop offset="0.3740" stop-color="#c4ff33"/><stop offset="0.3780" stop-color="#c7ff30"/><stop offset="0.3840" stop-color="#c7ff30"/><stop offset="0.3860" stop-color="#caff2c"/><stop offset="0.3940" stop-color="#caff2c"/><stop offset="0.3980" stop-color="#ceff29"/><stop offset="0.4020" stop-color="#d1ff26"/><stop offset="0.4180" stop-color="#e4ff13"/><stop offset="0.4200" stop-color="#e4ff13"/><stop offset="0.4240" stop-color="#ebff0c"/><stop offset="0.4300" stop-color="#f1fc06"/><stop offset="0.4320" stop-color="#f4f802"/><stop offset="0.4340" stop-color="#f4f802"/><stop offset="0.4380" stop-color="#fbf100"/><stop offset="0.4400" stop-color="#fbf100"/><stop offset="0.4460" stop-color="#ffe600"/><stop offset="0.4520" stop-color="#ffe200"/><stop offset="0.4560" stop-color="#ffe600"/><stop offset="0.4640" stop-color="#ffea00"/><stop offset="0.4720" stop-color="#feed00"/><stop offset="0.4760" stop-color="#fbf100"/><stop offset="0.4780" stop-color="#fbf100"/><stop offset="0.4820" stop-color="#f8f500"/><stop offset="0.4840" stop-color="#f8f500"/><stop offset="0.4860" stop-color="#f4f802"/><stop offset="0.4920" stop-color="#f4f802"/><stop offset="0.4960" stop-color="#f1fc06"/><stop offset="0.5000" stop-color="#eeff09"/><stop offset="0.5060" stop-color="#f1fc06"/><stop offset="0.5100" stop-color="#f4f802"/><stop offset="0.5140" stop-color="#f4f802"/><stop offset="0.5160" stop-color="#f8f500"/><stop offset="0.5200" stop-color="#f8f500"/><stop offset="0.5220" stop-color="#fbf100"/><stop offset="0.5260" stop-color="#fbf100"/><stop offset="0.5300" stop-color="#feed00"/><stop offset="0.5400" stop-color="#ffea00"/><stop offset="0.5420" stop-color="#ffe600"/><stop offset="0.5460" stop-color="#ffe600"/><stop offset="0.5480" stop-color="#ffe200"/><stop offset="0.5500" stop-color="#ffe200"/><stop offset="0.5620" stop-color="#ffcc00"/><stop offset="0.5660" stop-color="#ffc800"/><stop offset="0.5880" stop-color="#ff9f00"/><stop offset="0.5920" stop-color="#ff9c00"/><stop offset="0.6000" stop-color="#ff8d00"/><stop offset="0.6040" stop-color="#ff8d00"/><stop offset="0.6080" stop-color="#ff9100"/><stop offset="0.6140" stop-color="#ff9100"/><stop offset="0.6200" stop-color="#ff9400"/><stop offset="0.6240" stop-color="#ff9400"/><stop offset="0.6280" stop-color="#ff9800"/><stop offset="0.6340" stop-color="#ff9800"/><stop offset="0.6380" stop-color="#ff9c00"/><stop offset="0.6440" stop-color="#ff9c00"/><stop offset="0.6480" stop-color="#ff9f00"/><stop offset="0.6540" stop-color="#ff9c00"/><stop offset="0.6600" stop-color="#ff9100"/><stop offset="0.6640" stop-color="#ff8d00"/><stop offset="0.6660" stop-color="#ff8900"/><stop offset="0.6700" stop-color="#ff8600"/><stop offset="0.6740" stop-color="#ff7e00"/><stop offset="0.6780" stop-color="#ff7a00"/><stop offset="0.6840" stop-color="#ff7300"/><stop offset="0.6880" stop-color="#ff6c00"/><stop offset="0.6920" stop-color="#ff6800"/><stop offset="0.7000" stop-color="#ff5d00"/><stop offset="0.7020" stop-color="#ff5d00"/><stop offset="0.7060" stop-color="#ff5500"/><stop offset="0.7100" stop-color="#ff5200"/><stop offset="0.7220" stop-color="#ff4300"/><stop offset="0.7240" stop-color="#ff4300"/><stop offset="0.7260" stop-color="#ff3f00"/><stop offset="0.7300" stop-color="#ff3b00"/><stop offset="0.7360" stop-color="#ff3400"/><stop offset="0.7420" stop-color="#ff2d00"/><stop offset="0.7440" stop-color="#ff2d00"/><stop offset="0.7480" stop-color="#ff2500"/><stop offset="0.7520" stop-color="#ff2500"/><stop offset="0.7620" stop-color="#ff3000"/><stop offset="0.7640" stop-color="#ff3000"/><stop offset="0.7660" stop-color="#ff3400"/><stop offset="0.7680" stop-color="#ff3400"/><stop offset="0.7740" stop-color="#ff3b00"/><stop offset="0.7840" stop-color="#ff4300"/><stop offset="0.7880" stop-color="#ff4a00"/><stop offset="0.7900" stop-color="#ff4a00"/><stop offset="0.7960" stop-color="#ff5200"/><stop offset="0.8040" stop-color="#ff5500"/><stop offset="0.8060" stop-color="#ff5900"/><stop offset="0.8180" stop-color="#ff6000"/><stop offset="0.8200" stop-color="#ff6400"/><stop offset="0.8240" stop-color="#ff6400"/><stop offset="0.8260" stop-color="#ff6800"/><stop offset="0.8360" stop-color="#ff6f00"/><stop offset="0.8420" stop-color="#ff7300"/><stop offset="0.8460" stop-color="#ff7700"/><stop offset="0.8500" stop-color="#ff7a00"/><stop offset="0.8560" stop-color="#ff7700"/><stop offset="0.8600" stop-color="#ff7300"/><stop offset="0.8640" stop-color="#ff7300"/><stop offset="0.8660" stop-color="#ff6f00"/><stop offset="0.8760" stop-color="#ff6c00"/><stop offset="0.8800" stop-color="#ff6800"/><stop offset="0.8840" stop-color="#ff6800"/><stop offset="0.8860" stop-color="#ff5d00"/><stop offset="0.8900" stop-color="#ff3800"/><stop offset="0.9000" stop-color="#ff3800"/><stop offset="0.9060" stop-color="#ff4a00"/><stop offset="0.9080" stop-color="#ff5200"/><stop offset="0.9100" stop-color="#ff5500"/><stop offset="0.9120" stop-color="#ff5d00"/><stop offset="0.9260" stop-color="#ff6c00"/><stop offset="0.9400" stop-color="#ff7a00"/><stop offset="0.9460" stop-color="#ff9100"/><stop offset="0.9500" stop-color="#ffa300"/><stop offset="0.9560" stop-color="#ffb900"/><stop offset="0.9600" stop-color="#ffcc00"/><stop offset="0.9660" stop-color="#ffe200"/><stop offset="0.9680" stop-color="#feed00"/><stop offset="0.9720" stop-color="#ffde00"/><stop offset="0.9740" stop-color="#ffdb00"/><stop offset="0.9760" stop-color="#ffd300"/><stop offset="0.9780" stop-color="#ffd000"/><stop offset="0.9820" stop-color="#ffc100"/><stop offset="0.9900" stop-color="#ffb200"/><stop offset="0.9920" stop-color="#ff6800"/><stop offset="0.9940" stop-color="#ff6800"/><stop offset="0.9960" stop-color="#cd0000"/><stop offset="0.9980" stop-color="#800000"/><stop offset="1.0000" stop-color="#800000"/></linearGradient>
<linearGradient id="g15" x1="0" y1="0" x2="0" y2="1"><stop offset="0.0000" stop-color="#000089"/><stop offset="0.0060" stop-color="#00008d"/><stop offset="0.0100" stop-color="#00008d"/><stop offset="0.0120" stop-color="#000092"/><stop offset="0.0180" stop-color="#000092"/><stop offset="0.0260" stop-color="#0000a4"/><stop offset="0.0300" stop-color="#0000b2"/><stop offset="0.0320" stop-color="#0000b6"/><stop offset="0.0360" stop-color="#0000c4"/><stop offset="0.0400" stop-color="#0000cd"/><stop offset="0.0480" stop-color="#0000f1"/><stop offset="0.0500" stop-color="#0000f6"/><stop offset="0.0520" stop-color="#0000ff"/><stop offset="0.0560" stop-color="#0000ff"/><stop offset="0.0580" stop-color="#0008ff"/><stop offset="0.0600" stop-color="#000cff"/><stop offset="0.0660" stop-color="#0024ff"/><stop offset="0.0700" stop-color="#0038ff"/><stop offset="0.0800" stop-color="#0060ff"/><stop offset="0.0880" stop-color="#0078ff"/><stop offset="0.0940" stop-color="#008cff"/><stop offset="0.1000" stop-color="#009cff"/><stop offset="0.1020" stop-color="#00a4ff"/><stop offset="0.1060" stop-color="#00acff"/><stop offset="0.1100" stop-color="#00b8ff"/><stop offset="0.1140" stop-color="#00c0ff"/><stop offset="0.1160" stop-color="#00c8ff"/><stop offset="0.1200" stop-color="#00d0ff"/><stop offset="0.1220" stop-color="#00d8ff"/><stop offset="0.1260" stop-color="#00e0fb"/><stop offset="0.1300" stop-color="#06ecf1"/><stop offset="0.1360" stop-color="#13fce4"/><stop offset="0.1420" stop-color="#1fffd7"/><stop offset="0.1520" stop-color="#33ffc4"/><stop offset="0.1640" stop-color="#40ffb7"/><stop offset="0.1720" stop-color="#46ffb1"/><stop offset="0.1840" stop-color="#53ffa4"/><stop offset="0.1900" stop-color="#5aff9d"/><stop offset="0.2020" stop-color="#63ff94"/><stop offset="0.2060" stop-color="#6aff8d"/><stop offset="0.2100" stop-color="#6dff8a"/><stop offset="0.2200" stop-color="#77ff80"/><stop offset="0.2300" stop-color="#80ff77"/><stop offset="0.2320" stop-color="#83ff73"/><stop offset="0.2400" stop-color="#8aff6d"/><stop offset="0.2480" stop-color="#94ff63"/><stop offset="0.2520" stop-color="#94ff63"/><stop offset="0.2540" stop-color="#90ff66"/><stop offset="0.2560" stop-color="#90ff66"/><stop offset="0.2580" stop-color="#8dff6a"/><stop offset="0.2680" stop-color="#87ff70"/><stop offset="0.2740" stop-color="#80ff77"/><stop offset="0.2820" stop-color="#7aff7d"/><stop offset="0.2960" stop-color="#6dff8a"/><stop offset="0.3080" stop-color="#6aff8d"/><stop offset="0.3160" stop-color="#6aff8d"/><stop offset="0.3180" stop-color="#66ff90"/><stop offset="0.3360" stop-color="#66ff90"/><stop offset="0.3380" stop-color="#63ff94"/><stop offset="0.3540" stop-color="#63ff94"/><stop offset="0.3560" stop-color="#66ff90"/><stop offset="0.3600" stop-color="#66ff90"/><stop offset="0.3620" stop-color="#6aff8d"/><stop offset="0.3800" stop-color="#70ff87"/><stop offset="0.3820" stop-color="#73ff83"/><stop offset="0.3860" stop-color="#73ff83"/><stop offset="0.3880" stop-color="#77ff80"/><stop offset="0.4060" stop-color="#7dff7a"/><stop offset="0.4180" stop-color="#80ff77"/><stop offset="0.4220" stop-color="#83ff73"/><stop offset="0.4280" stop-color="#83ff73"/><stop offset="0.4320" stop-color="#87ff70"/><stop offset="0.4380" stop-color="#87ff70"/><stop offset="0.4440" stop-color="#8aff6d"/><stop offset="0.4500" stop-color="#8dff6a"/><stop offset="0.4540" stop-color="#8aff6d"/><stop offset="0.4620" stop-color="#87ff70"/><stop offset="0.4660" stop-color="#83ff73"/><stop offset="0.4700" stop-color="#83ff73"/><stop offset="0.4740" stop-color="#80ff77"/><stop offset="0.4940" stop-color="#77ff80"/><stop offset="0.5020" stop-color="#73ff83"/><stop offset="0.6520" stop-color="#73ff83"/><stop offset="0.6640" stop-color="#80ff77"/><stop offset="0.6660" stop-color="#a4ff53"/><stop offset="0.6940" stop-color="#a4ff53"/><stop offset="0.6960" stop-color="#9aff5d"/><stop offset="0.7000" stop-color="#9dff5a"/><stop offset="0.7060" stop-color="#9aff5d"/><stop offset="0.7200" stop-color="#94ff63"/><stop offset="0.7220" stop-color="#90ff66"/><stop offset="0.7260" stop-color="#90ff66"/><stop offset="0.7300" stop-color="#8dff6a"/><stop offset="0.7340" stop-color="#8dff6a"/><stop offset="0.7380" stop-color="#8aff6d"/><stop offset="0.7460" stop-color="#87ff70"/><stop offset="0.7500" stop-color="#83ff73"/><stop offset="0.7680" stop-color="#8dff6a"/><stop offset="0.7720" stop-color="#8dff6a"/><stop offset="0.7760" stop-color="#90ff66"/><stop offset="0.7780" stop-color="#90ff66"/><stop offset="0.7820" stop-color="#94ff63"/><stop offset="0.7960" stop-color="#9aff5d"/><stop offset="0.8000" stop-color="#9dff5a"/><stop offset="0.8120" stop-color="#b1ff46"/><stop offset="0.8180" stop-color="#beff39"/><stop offset="0.8260" stop-color="#caff2c"/><stop offset="0.8300" stop-color="#d4ff23"/><stop offset="0.8420" stop-color="#e7ff0f"/><stop offset="0.8460" stop-color="#f1fc06"/><stop offset="0.8520" stop-color="#fbf100"/><stop offset="0.8560" stop-color="#ffea00"/><stop offset="0.8600" stop-color="#ffde00"/><stop offset="0.8700" stop-color="#ffcc00"/><stop offset="0.8720" stop-color="#ffc400"/><stop offset="0.8820" stop-color="#ffb200"/><stop offset="0.8840" stop-color="#ffb200"/><stop offset="0.8860" stop-color="#ffab00"/><stop offset="0.8900" stop-color="#ff8d00"/><stop offset="0.8940" stop-color="#ff9800"/><stop offset="0.9000" stop-color="#ffab00"/><stop offset="0.9060" stop-color="#ffb600"/><stop offset="0.9100" stop-color="#ffc100"/><stop offset="0.9160" stop-color="#ffcc00"/><stop offset="0.9200" stop-color="#ffd700"/><stop offset="0.9320" stop-color="#feed00"/><stop offset="0.9360" stop-color="#f8f500"/><stop offset="0.9400" stop-color="#eeff09"/><stop offset="0.9460" stop-color="#f4f802"/><stop offset="0.9520" stop-color="#fbf100"/><stop offset="0.9540" stop-color="#fbf100"/><stop offset="0.9560" stop-color="#feed00"/><stop offset="0.9620" stop-color="#ffea00"/><stop offset="0.9700" stop-color="#ffde00"/><stop offset="0.9740" stop-color="#ffd300"/><stop offset="0.9780" stop-color="#ffcc00"/><stop offset="0.9800" stop-color="#ffc400"/><stop offset="0.9900" stop-color="#ffb200"/><stop offset="0.9920" stop-color="#ff6800"/><stop offset="0.9940" stop-color="#ff6800"/><stop offset="0.9960" stop-color="#cd0000"/><stop offset="0.9980" stop-color="#800000"/><stop offset="1.0000" stop-color="#800000"/></linearGradient>
<linearGradient id="g16" x1="0" y1="0" x2="0" y2="1"><stop offset="0.0000" stop-color="#000089"/><stop offset="0.0060" stop-color="#00008d"/><stop offset="0.0100" stop-color="#00008d"/><stop offset="0.0120" stop-color="#000092"/><stop offset="0.0180" stop-color="#000092"/><stop offset="0.0240" stop-color="#00009b"/><stop offset="0.0280" stop-color="#0000a4"/><stop offset="0.0300" stop-color="#0000a4"/><stop offset="0.0380" stop-color="#0000b6"/><stop offset="0.0400" stop-color="#0000b6"/><stop offset="0.0420" stop-color="#0000bf"/><stop offset="0.0480" stop-color="#0000cd"/><stop offset="0.0500" stop-color="#0000d6"/><stop offset="0.0540" stop-color="#0000df"/><stop offset="0.0580" stop-color="#0000ed"/><stop offset="0.0600" stop-color="#0000f1"/><stop offset="0.0620" stop-color="#0000fa"/><stop offset="0.0640" stop-color="#0000ff"/><stop offset="0.0660" stop-color="#0000ff"/><stop offset="0.0740" stop-color="#0024ff"/><stop offset="0.0780" stop-color="#0038ff"/><stop offset="0.0940" stop-color="#0078ff"/><stop offset="0.0980" stop-color="#008cff"/><stop offset="0.1000" stop-color="#0094ff"/><stop offset="0.1060" stop-color="#0098ff"/><stop offset="0.1080" stop-color="#5aff9d"/><stop offset="0.1180" stop-color="#5aff9d"/><stop offset="0.1200" stop-color="#00acff"/><stop offset="0.1240" stop-color="#00b0ff"/><stop offset="0.1340" stop-color="#00bcff"/><stop offset="0.1400" stop-color="#00c4ff"/><stop offset="0.1420" stop-color="#00c8ff"/><stop offset="0.1520" stop-color="#00d0ff"/><stop offset="0.2040" stop-color="#00d0ff"/><stop offset="0.2080" stop-color="#00d4ff"/><stop offset="0.2140" stop-color="#00d4ff"/><stop offset="0.2180" stop-color="#00d8ff"/><stop offset="0.2240" stop-color="#00d8ff"/><stop offset="0.2280" stop-color="#00dcfe"/><stop offset="0.2340" stop-color="#00dcfe"/><stop offset="0.2380" stop-color="#00e0fb"/><stop offset="0.2440" stop-color="#00e0fb"/><stop offset="0.2480" stop-color="#00e4f8"/><stop offset="0.2540" stop-color="#02e8f4"/><stop offset="0.2600" stop-color="#09f0ee"/><stop offset="0.2620" stop-color="#09f0ee"/><stop offset="0.2640" stop-color="#0cf4eb"/><stop offset="0.2660" stop-color="#0cf4eb"/><stop offset="0.2680" stop-color="#0ff8e7"/><stop offset="0.2700" stop-color="#0ff8e7"/><stop offset="0.2760" stop-color="#16ffe1"/><stop offset="0.2860" stop-color="#1cffdb"/><stop offset="0.2920" stop-color="#23ffd4"/><stop offset="0.3020" stop-color="#29ffce"/><stop offset="0.3040" stop-color="#2cffca"/><stop offset="0.3100" stop-color="#2cffca"/><stop offset="0.3140" stop-color="#30ffc7"/><stop offset="0.3280" stop-color="#36ffc1"/><stop offset="0.3300" stop-color="#deff19"/><stop offset="0.3400" stop-color="#deff19"/><stop offset="0.3420" stop-color="#3cffba"/><stop offset="0.3440" stop-color="#40ffb7"/><stop offset="0.3480" stop-color="#40ffb7"/><stop offset="0.3540" stop-color="#43ffb4"/><stop offset="0.3660" stop-color="#43ffb4"/><stop offset="0.3720" stop-color="#46ffb1"/><stop offset="0.3860" stop-color="#46ffb1"/><stop offset="0.3880" stop-color="#49ffad"/><stop offset="0.4560" stop-color="#49ffad"/><stop offset="0.4580" stop-color="#4dffaa"/><stop offset="0.4760" stop-color="#4dffaa"/><stop offset="0.4820" stop-color="#50ffa7"/><stop offset="0.4960" stop-color="#50ffa7"/><stop offset="0.5020" stop-color="#53ffa4"/><stop offset="0.6040" stop-color="#53ffa4"/><stop offset="0.6080" stop-color="#56ffa0"/><stop offset="0.6160" stop-color="#5aff9d"/><stop offset="0.6360" stop-color="#63ff94"/><stop offset="0.6400" stop-color="#66ff90"/><stop offset="0.6440" stop-color="#66ff90"/><stop offset="0.6460" stop-color="#6aff8d"/><stop offset="0.6500" stop-color="#6aff8d"/><stop offset="0.6620" stop-color="#73ff83"/><stop offset="0.6640" stop-color="#77ff80"/><stop offset="0.6660" stop-color="#9dff5a"/><stop offset="0.6940" stop-color="#9dff5a"/><stop offset="0.6960" stop-color="#90ff66"/><stop offset="0.7000" stop-color="#94ff63"/><stop offset="0.7040" stop-color="#94ff63"/><stop offset="0.7060" stop-color="#90ff66"/><stop offset="0.7100" stop-color="#90ff66"/><stop offset="0.7140" stop-color="#8dff6a"/><stop offset="0.7280" stop-color="#87ff70"/><stop offset="0.7360" stop-color="#83ff73"/><stop offset="0.7400" stop-color="#80ff77"/><stop offset="0.7520" stop-color="#7dff7a"/><stop offset="0.8500" stop-color="#7dff7a"/><stop offset="0.8620" stop-color="#90ff66"/><stop offset="0.8660" stop-color="#9aff5d"/><stop offset="0.8740" stop-color="#a7ff50"/><stop offset="0.8760" stop-color="#adff49"/><stop offset="0.8800" stop-color="#b4ff43"/><stop offset="0.8840" stop-color="#b4ff43"/><stop offset="0.8860" stop-color="#d1ff26"/><stop offset="0.8880" stop-color="#ffe600"/><stop offset="0.8900" stop-color="#ffab00"/><stop offset="0.8960" stop-color="#ffae00"/><stop offset="0.9000" stop-color="#ffb200"/><stop offset="0.9040" stop-color="#ffc100"/><stop offset="0.9060" stop-color="#ffc400"/><stop offset="0.9100" stop-color="#ffd300"/><stop offset="0.9200" stop-color="#feed00"/><stop offset="0.9260" stop-color="#f4f802"/><stop offset="0.9280" stop-color="#eeff09"/><stop offset="0.9340" stop-color="#e4ff13"/><stop offset="0.9380" stop-color="#dbff1c"/><stop offset="0.9400" stop-color="#d7ff1f"/><stop offset="0.9540" stop-color="#eeff09"/><stop offset="0.9580" stop-color="#f8f500"/><stop offset="0.9640" stop-color="#ffea00"/><stop offset="0.9700" stop-color="#ffde00"/><stop offset="0.9740" stop-color="#ffd300"/><stop offset="0.9780" stop-color="#ffcc00"/><stop offset="0.9800" stop-color="#ffc400"/><stop offset="0.9900" stop-color="#ffb200"/><stop offset="0.9920" stop-color="#ff6800"/><stop offset="0.9940" stop-color="#ff6800"/><stop offset="0.9960" stop-color="#cd0000"/><stop offset="0.9980" stop-color="#800000"/><stop offset="1.0000" stop-color="#800000"/></linearGradient>
<linearGradient id="g17" x1="0" y1="0" x2="0" y2="1"><stop offset="0.0000" stop-color="#000089"/><stop offset="0.0060" stop-color="#00008d"/><stop offset="0.0100" stop-color="#00008d"/><stop offset="0.0120" stop-color="#000092"/><stop offset="0.0180" stop-color="#000092"/><stop offset="0.0240" stop-color="#00009b"/><stop offset="0.0300" stop-color="#00009f"/><stop offset="0.0320" stop-color="#0000a4"/><stop offset="0.0380" stop-color="#0000a8"/><stop offset="0.0420" stop-color="#0000b2"/><stop offset="0.0460" stop-color="#0000b6"/><stop offset="0.0500" stop-color="#0000bf"/><stop offset="0.0520" stop-color="#0000bf"/><stop offset="0.0580" stop-color="#0000cd"/><stop offset="0.0600" stop-color="#0000cd"/><stop offset="0.0660" stop-color="#0000da"/><stop offset="0.0680" stop-color="#0000da"/><stop offset="0.0760" stop-color="#0000ed"/><stop offset="0.0800" stop-color="#0000f1"/><stop offset="0.0820" stop-color="#0000fa"/><stop offset="0.0840" stop-color="#0000ff"/><stop offset="0.0880" stop-color="#0000ff"/><stop offset="0.0940" stop-color="#0018ff"/><stop offset="0.0980" stop-color="#0024ff"/><stop offset="0.1020" stop-color="#0030ff"/><stop offset="0.1380" stop-color="#0078ff"/><stop offset="0.1420" stop-color="#0084ff"/><stop offset="0.1500" stop-color="#0094ff"/><stop offset="0.1540" stop-color="#0094ff"/><stop offset="0.1620" stop-color="#009cff"/><stop offset="0.1720" stop-color="#00a4ff"/><stop offset="0.1760" stop-color="#00a8ff"/><stop offset="0.1820" stop-color="#00acff"/><stop offset="0.1860" stop-color="#00b0ff"/><stop offset="0.1920" stop-color="#00b4ff"/><stop offset="0.1960" stop-color="#00b8ff"/><stop offset="0.2020" stop-color="#00bcff"/><stop offset="0.2060" stop-color="#00c0ff"/><stop offset="0.2120" stop-color="#00c4ff"/><stop offset="0.2200" stop-color="#00ccff"/><stop offset="0.2300" stop-color="#00d4ff"/><stop offset="0.2400" stop-color="#00dcfe"/><stop offset="0.2420" stop-color="#00dcfe"/><stop offset="0.2440" stop-color="#00e0fb"/><stop offset="0.2520" stop-color="#00e4f8"/><stop offset="0.2540" stop-color="#02e8f4"/><stop offset="0.2620" stop-color="#02e8f4"/><stop offset="0.2640" stop-color="#06ecf1"/><stop offset="0.2720" stop-color="#06ecf1"/><stop offset="0.2740" stop-color="#09f0ee"/><stop offset="0.2820" stop-color="#09f0ee"/><stop offset="0.2840" stop-color="#0cf4eb"/><stop offset="0.2920" stop-color="#0cf4eb"/><stop offset="0.2940" stop-color="#0ff8e7"/><stop offset="0.3500" stop-color="#0ff8e7"/><stop offset="0.3540" stop-color="#13fce4"/><stop offset="0.3580" stop-color="#13fce4"/><stop offset="0.3640" stop-color="#16ffe1"/><stop offset="0.3680" stop-color="#19ffde"/><stop offset="0.3760" stop-color="#1cffdb"/><stop offset="0.3780" stop-color="#1fffd7"/><stop offset="0.3840" stop-color="#1fffd7"/><stop offset="0.3860" stop-color="#23ffd4"/><stop offset="0.3900" stop-color="#23ffd4"/><stop offset="0.3940" stop-color="#26ffd1"/><stop offset="0.4020" stop-color="#29ffce"/><stop offset="0.4060" stop-color="#2cffca"/><stop offset="0.4100" stop-color="#2cffca"/><stop offset="0.4140" stop-color="#30ffc7"/><stop offset="0.4340" stop-color="#39ffbe"/><stop offset="0.4420" stop-color="#3cffba"/><stop offset="0.4460" stop-color="#40ffb7"/><stop offset="0.4580" stop-color="#43ffb4"/><stop offset="0.4660" stop-color="#43ffb4"/><stop offset="0.4720" stop-color="#46ffb1"/><stop offset="0.4860" stop-color="#46ffb1"/><stop offset="0.4900" stop-color="#49ffad"/><stop offset="0.5560" stop-color="#49ffad"/><stop offset="0.5580" stop-color="#4dffaa"/><stop offset="0.5760" stop-color="#4dffaa"/><stop offset="0.5820" stop-color="#50ffa7"/><stop offset="0.5960" stop-color="#50ffa7"/><stop offset="0.6020" stop-color="#53ffa4"/><stop offset="0.6060" stop-color="#53ffa4"/><stop offset="0.6100" stop-color="#56ffa0"/><stop offset="0.6160" stop-color="#56ffa0"/><stop offset="0.6200" stop-color="#5aff9d"/><stop offset="0.6260" stop-color="#5aff9d"/><stop offset="0.6320" stop-color="#5dff9a"/><stop offset="0.6460" stop-color="#60ff97"/><stop offset="0.6520" stop-color="#63ff94"/><stop offset="0.6540" stop-color="#63ff94"/><stop offset="0.6560" stop-color="#66ff90"/><stop offset="0.6600" stop-color="#66ff90"/><stop offset="0.6620" stop-color="#6aff8d"/><stop offset="0.6640" stop-color="#6aff8d"/><stop offset="0.6660" stop-color="#83ff73"/><stop offset="0.6940" stop-color="#83ff73"/><stop offset="0.6960" stop-color="#7aff7d"/><stop offset="0.7080" stop-color="#7dff7a"/><stop offset="0.7500" stop-color="#7dff7a"/><stop offset="0.7620" stop-color="#77ff80"/><stop offset="0.7660" stop-color="#73ff83"/><stop offset="0.7680" stop-color="#73ff83"/><stop offset="0.7720" stop-color="#70ff87"/><stop offset="0.7880" stop-color="#6aff8d"/><stop offset="0.7920" stop-color="#66ff90"/><stop offset="0.7940" stop-color="#66ff90"/><stop offset="0.7960" stop-color="#63ff94"/><stop offset="0.8060" stop-color="#63ff94"/><stop offset="0.8080" stop-color="#66ff90"/><stop offset="0.8160" stop-color="#66ff90"/><stop offset="0.8200" stop-color="#6aff8d"/><stop offset="0.8260" stop-color="#6aff8d"/><stop offset="0.8300" stop-color="#6dff8a"/><stop offset="0.8340" stop-color="#6dff8a"/><stop offset="0.8380" stop-color="#70ff87"/><stop offset="0.8440" stop-color="#70ff87"/><stop offset="0.8460" stop-color="#73ff83"/><stop offset="0.8500" stop-color="#73ff83"/><stop offset="0.8580" stop-color="#83ff73"/><stop offset="0.8620" stop-color="#8dff6a"/><stop offset="0.8640" stop-color="#90ff66"/><stop offset="0.8660" stop-color="#97ff60"/><stop offset="0.8720" stop-color="#a0ff56"/><stop offset="0.8760" stop-color="#aaff4d"/><stop offset="0.8780" stop-color="#adff49"/><stop offset="0.8800" stop-color="#b4ff43"/><stop offset="0.8840" stop-color="#b4ff43"/><stop offset="0.8860" stop-color="#d1ff26"/><stop offset="0.8880" stop-color="#ffe600"/><stop offset="0.8900" stop-color="#ffab00"/><stop offset="0.8960" stop-color="#ffae00"/><stop offset="0.9000" stop-color="#ffb200"/><stop offset="0.9040" stop-color="#ffc100"/><stop offset="0.9060" stop-color="#ffc400"/><stop offset="0.9100" stop-color="#ffd300"/><stop offset="0.9200" stop-color="#feed00"/><stop offset="0.9260" stop-color="#f4f802"/><stop offset="0.9280" stop-color="#eeff09"/><stop offset="0.9340" stop-color="#e4ff13"/><stop offset="0.9380" stop-color="#dbff1c"/><stop offset="0.9400" stop-color="#d7ff1f"/><stop offset="0.9540" stop-color="#eeff09"/><stop offset="0.9580" stop-color="#f8f500"/><stop offset="0.9640" stop-color="#ffea00"/><stop offset="0.9700" stop-color="#ffde00"/><stop offset="0.9740" stop-color="#ffd300"/><stop offset="0.9780" stop-color="#ffcc00"/><stop offset="0.9800" stop-color="#ffc400"/><stop offset="0.9900" stop-color="#ffb200"/><stop offset="0.9920" stop-color="#ff6800"/><stop offset="0.9940" stop-color="#ff6800"/><stop offset="0.9960" stop-color="#cd0000"/><stop offset="0.9980" stop-color="#800000"/><stop offset="1.0000" stop-color="#800000"/></linearGradient>
<linearGradient id="g18" x1="0" y1="0" x2="0" y2="1"><stop offset="0.0000" stop-color="#000089"/><stop offset="0.0060" stop-color="#00008d"/><stop offset="0.0100" stop-color="#00008d"/><stop offset="0.0120" stop-color="#000092"/><stop offset="0.0180" stop-color="#000092"/><stop offset="0.0240" stop-color="#00009b"/><stop offset="0.0280" stop-color="#0000a4"/><stop offset="0.0300" stop-color="#0000a4"/><stop offset="0.0380" stop-color="#0000b6"/><stop offset="0.0400" stop-color="#0000b6"/><stop offset="0.0420" stop-color="#0000bf"/><stop offset="0.0480" stop-color="#0000cd"/><stop offset="0.0500" stop-color="#0000d6"/><stop offset="0.0540" stop-color="#0000df"/><stop offset="0.0580" stop-color="#0000ed"/><stop offset="0.0600" stop-color="#0000f1"/><stop offset="0.0620" stop-color="#0000fa"/><stop offset="0.0640" stop-color="#0000ff"/><stop offset="0.0680" stop-color="#0004ff"/><stop offset="0.0760" stop-color="#0024ff"/><stop offset="0.0800" stop-color="#0038ff"/><stop offset="0.0840" stop-color="#0044ff"/><stop offset="0.0900" stop-color="#005cff"/><stop offset="0.0940" stop-color="#0068ff"/><stop offset="0.1000" stop-color="#0080ff"/><stop offset="0.1040" stop-color="#0084ff"/><stop offset="0.1100" stop-color="#0090ff"/><stop offset="0.1140" stop-color="#0094ff"/><stop offset="0.1220" stop-color="#00a4ff"/><stop offset="0.1260" stop-color="#00a8ff"/><stop offset="0.1320" stop-color="#00b4ff"/><stop offset="0.1360" stop-color="#00b8ff"/><stop offset="0.1440" stop-color="#00c8ff"/><stop offset="0.1480" stop-color="#00ccff"/><stop offset="0.1540" stop-color="#00d4ff"/><stop offset="0.1580" stop-color="#00d4ff"/><stop offset="0.1620" stop-color="#00d8ff"/><stop offset="0.1660" stop-color="#00d8ff"/><stop offset="0.1700" stop-color="#00dcfe"/><stop offset="0.1760" stop-color="#00e0fb"/><stop offset="0.1840" stop-color="#00e4f8"/><stop offset="0.1880" stop-color="#02e8f4"/><stop offset="0.1920" stop-color="#02e8f4"/><stop offset="0.1960" stop-color="#06ecf1"/><stop offset="0.2040" stop-color="#09f0ee"/><stop offset="0.2080" stop-color="#09f0ee"/><stop offset="0.2120" stop-color="#0cf4eb"/><stop offset="0.2160" stop-color="#0cf4eb"/><stop offset="0.2200" stop-color="#0ff8e7"/><stop offset="0.2260" stop-color="#0ff8e7"/><stop offset="0.2300" stop-color="#13fce4"/><stop offset="0.2360" stop-color="#13fce4"/><stop offset="0.2420" stop-color="#16ffe1"/><stop offset="0.2560" stop-color="#19ffde"/><stop offset="0.2600" stop-color="#1cffdb"/><stop offset="0.2660" stop-color="#1cffdb"/><stop offset="0.2680" stop-color="#1fffd7"/><stop offset="0.2760" stop-color="#1fffd7"/><stop offset="0.2780" stop-color="#23ffd4"/><stop offset="0.2860" stop-color="#23ffd4"/><stop offset="0.2920" stop-color="#26ffd1"/><stop offset="0.3080" stop-color="#29ffce"/><stop offset="0.3160" stop-color="#2cffca"/><stop offset="0.3300" stop-color="#2cffca"/><stop offset="0.3340" stop-color="#30ffc7"/><stop offset="0.3500" stop-color="#30ffc7"/><stop offset="0.3560" stop-color="#33ffc4"/><stop offset="0.3600" stop-color="#33ffc4"/><stop offset="0.3640" stop-color="#36ffc1"/><stop offset="0.3780" stop-color="#39ffbe"/><stop offset="0.3820" stop-color="#3cffba"/><stop offset="0.3880" stop-color="#3cffba"/><stop offset="0.3920" stop-color="#40ffb7"/><stop offset="0.3980" stop-color="#40ffb7"/><stop offset="0.4040" stop-color="#43ffb4"/><stop offset="0.4540" stop-color="#43ffb4"/><stop offset="0.4620" stop-color="#49ffad"/><stop offset="0.4720" stop-color="#50ffa7"/><stop offset="0.4780" stop-color="#53ffa4"/><stop offset="0.4840" stop-color="#5aff9d"/><stop offset="0.4920" stop-color="#5dff9a"/><stop offset="0.5040" stop-color="#63ff94"/><stop offset="0.5520" stop-color="#63ff94"/><stop offset="0.5580" stop-color="#60ff97"/><stop offset="0.5720" stop-color="#5dff9a"/><stop offset="0.5780" stop-color="#5aff9d"/><stop offset="0.5820" stop-color="#5aff9d"/><stop offset="0.5860" stop-color="#56ffa0"/><stop offset="0.5920" stop-color="#56ffa0"/><stop offset="0.5960" stop-color="#53ffa4"/><stop offset="0.6520" stop-color="#53ffa4"/><stop offset="0.6560" stop-color="#5aff9d"/><stop offset="0.6640" stop-color="#60ff97"/><stop offset="0.6740" stop-color="#6aff8d"/><stop offset="0.6860" stop-color="#77ff80"/><stop offset="0.6980" stop-color="#80ff77"/><stop offset="0.7000" stop-color="#83ff73"/><stop offset="0.7520" stop-color="#83ff73"/><stop offset="0.7580" stop-color="#7dff7a"/><stop offset="0.7660" stop-color="#7aff7d"/><stop offset="0.7720" stop-color="#77ff80"/><stop offset="0.7780" stop-color="#70ff87"/><stop offset="0.7860" stop-color="#6dff8a"/><stop offset="0.7940" stop-color="#66ff90"/><stop offset="0.8000" stop-color="#63ff94"/><stop offset="0.8060" stop-color="#63ff94"/><stop offset="0.8080" stop-color="#66ff90"/><stop offset="0.8160" stop-color="#66ff90"/><stop offset="0.8200" stop-color="#6aff8d"/><stop offset="0.8260" stop-color="#6aff8d"/><stop offset="0.8300" stop-color="#6dff8a"/><stop offset="0.8340" stop-color="#6dff8a"/><stop offset="0.8380" stop-color="#70ff87"/><stop offset="0.8440" stop-color="#70ff87"/><stop offset="0.8460" stop-color="#73ff83"/><stop offset="0.8500" stop-color="#73ff83"/><stop offset="0.8580" stop-color="#83ff73"/><stop offset="0.8620" stop-color="#8dff6a"/><stop offset="0.8640" stop-color="#90ff66"/><stop offset="0.8660" stop-color="#97ff60"/><stop offset="0.8720" stop-color="#a0ff56"/><stop offset="0.8760" stop-color="#aaff4d"/><stop offset="0.8780" stop-color="#adff49"/><stop offset="0.8800" stop-color="#b4ff43"/><stop offset="0.8840" stop-color="#b4ff43"/><stop offset="0.8860" stop-color="#d1ff26"/><stop offset="0.8880" stop-color="#ffe600"/><stop offset="0.8900" stop-color="#ffab00"/><stop offset="0.8960" stop-color="#ffae00"/><stop offset="0.9000" stop-color="#ffb200"/><stop offset="0.9040" stop-color="#ffc100"/><stop offset="0.9060" stop-color="#ffc400"/><stop offset="0.9100" stop-color="#ffd300"/><stop offset="0.9180" stop-color="#ffe200"/><stop offset="0.9200" stop-color="#ffe200"/><stop offset="0.9260" stop-color="#feed00"/><stop offset="0.9300" stop-color="#fbf100"/><stop offset="0.9320" stop-color="#f8f500"/><stop offset="0.9340" stop-color="#ffab00"/><stop offset="0.9480" stop-color="#ffab00"/><stop offset="0.9500" stop-color="#f8f500"/><stop offset="0.9600" stop-color="#ffea00"/><stop offset="0.9620" stop-color="#ffea00"/><stop offset="0.9700" stop-color="#ffde00"/><stop offset="0.9740" stop-color="#ffd300"/><stop offset="0.9780" stop-color="#ffcc00"/><stop offset="0.9800" stop-color="#ffc400"/><stop offset="0.9900" stop-color="#ffb200"/><stop offset="0.9920" stop-color="#ff6800"/><stop offset="0.9940" stop-color="#ff6800"/><stop offset="0.9960" stop-color="#cd0000"/><stop offset="0.9980" stop-color="#800000"/><stop offset="1.0000" stop-color="#800000"/></linearGradient>
<linearGradient id="g19" x1="0" y1="0" x2="0" y2="1"><stop offset="0.0000" stop-color="#000089"/><stop offset="0.0060" stop-color="#00008d"/><stop offset="0.0100" stop-color="#00008d"/><stop offset="0.0120" stop-color="#000092"/><stop offset="0.0180" stop-color="#000092"/><stop offset="0.0240" stop-color="#00009b"/><stop offset="0.0300" stop-color="#00009f"/><stop offset="0.0320" stop-color="#0000a4"/><stop offset="0.0380" stop-color="#0000a8"/><stop offset="0.0760" stop-color="#0000ff"/><stop offset="0.0820" stop-color="#0000ff"/><stop offset="0.0880" stop-color="#000cff"/><stop offset="0.0920" stop-color="#0018ff"/><stop offset="0.0960" stop-color="#0020ff"/><stop offset="0.1000" stop-color="#002cff"/><stop offset="0.1060" stop-color="#003cff"/><stop offset="0.1140" stop-color="#0050ff"/><stop offset="0.1160" stop-color="#0058ff"/><stop offset="0.1200" stop-color="#0060ff"/><stop offset="0.1220" stop-color="#0068ff"/><stop offset="0.1260" stop-color="#0070ff"/><stop offset="0.1300" stop-color="#007cff"/><stop offset="0.1360" stop-color="#008cff"/><stop offset="0.1440" stop-color="#00a0ff"/><stop offset="0.1480" stop-color="#00acff"/><stop offset="0.1540" stop-color="#00b8ff"/><stop offset="0.1600" stop-color="#00bcff"/><stop offset="0.1640" stop-color="#00c4ff"/><stop offset="0.1700" stop-color="#00c8ff"/><stop offset="0.1740" stop-color="#00d0ff"/><stop offset="0.1780" stop-color="#00d4ff"/><stop offset="0.1840" stop-color="#00dcfe"/><stop offset="0.1880" stop-color="#00e0fb"/><stop offset="0.1940" stop-color="#02e8f4"/><stop offset="0.1980" stop-color="#06ecf1"/><stop offset="0.2020" stop-color="#09f0ee"/><stop offset="0.2080" stop-color="#09f0ee"/><stop offset="0.2120" stop-color="#0cf4eb"/><stop offset="0.2160" stop-color="#0cf4eb"/><stop offset="0.2200" stop-color="#0ff8e7"/><stop offset="0.2260" stop-color="#0ff8e7"/><stop offset="0.2300" stop-color="#13fce4"/><stop offset="0.2360" stop-color="#13fce4"/><stop offset="0.2420" stop-color="#16ffe1"/><stop offset="0.2520" stop-color="#19ffde"/><stop offset="0.2560" stop-color="#1cffdb"/><stop offset="0.2620" stop-color="#1fffd7"/><stop offset="0.2640" stop-color="#23ffd4"/><stop offset="0.2720" stop-color="#26ffd1"/><stop offset="0.2800" stop-color="#2cffca"/><stop offset="0.2820" stop-color="#2cffca"/><stop offset="0.2840" stop-color="#30ffc7"/><stop offset="0.2960" stop-color="#36ffc1"/><stop offset="0.3140" stop-color="#46ffb1"/><stop offset="0.3180" stop-color="#4dffaa"/><stop offset="0.3260" stop-color="#53ffa4"/><stop offset="0.3280" stop-color="#56ffa0"/><stop offset="0.3300" stop-color="#56ffa0"/><stop offset="0.3380" stop-color="#60ff97"/><stop offset="0.3420" stop-color="#63ff94"/><stop offset="0.3440" stop-color="#66ff90"/><stop offset="0.3540" stop-color="#6dff8a"/><stop offset="0.3600" stop-color="#6dff8a"/><stop offset="0.3640" stop-color="#70ff87"/><stop offset="0.3700" stop-color="#70ff87"/><stop offset="0.3720" stop-color="#73ff83"/><stop offset="0.3800" stop-color="#73ff83"/><stop offset="0.3820" stop-color="#77ff80"/><stop offset="0.3900" stop-color="#77ff80"/><stop offset="0.3940" stop-color="#7aff7d"/><stop offset="0.4020" stop-color="#7dff7a"/><stop offset="0.4160" stop-color="#8aff6d"/><stop offset="0.4220" stop-color="#8dff6a"/><stop offset="0.4280" stop-color="#94ff63"/><stop offset="0.4420" stop-color="#9dff5a"/><stop offset="0.4480" stop-color="#a4ff53"/><stop offset="0.4640" stop-color="#a4ff53"/><stop offset="0.4680" stop-color="#a0ff56"/><stop offset="0.4840" stop-color="#a0ff56"/><stop offset="0.4860" stop-color="#9dff5a"/><stop offset="0.5520" stop-color="#9dff5a"/><stop offset="0.5580" stop-color="#a4ff53"/><stop offset="0.5680" stop-color="#aaff4d"/><stop offset="0.5740" stop-color="#b1ff46"/><stop offset="0.5840" stop-color="#b7ff40"/><stop offset="0.5900" stop-color="#beff39"/><stop offset="0.6020" stop-color="#c7ff30"/><stop offset="0.6080" stop-color="#ceff29"/><stop offset="0.6180" stop-color="#d4ff23"/><stop offset="0.6240" stop-color="#dbff1c"/><stop offset="0.6380" stop-color="#e4ff13"/><stop offset="0.6440" stop-color="#ebff0c"/><stop offset="0.6500" stop-color="#eeff09"/><stop offset="0.6560" stop-color="#f8f500"/><stop offset="0.6620" stop-color="#ffea00"/><stop offset="0.6700" stop-color="#ffdb00"/><stop offset="0.6740" stop-color="#ffd700"/><stop offset="0.6960" stop-color="#ffae00"/><stop offset="0.7000" stop-color="#ffab00"/><stop offset="0.7080" stop-color="#ffa300"/><stop offset="0.7180" stop-color="#ff9c00"/><stop offset="0.7240" stop-color="#ff9800"/><stop offset="0.7260" stop-color="#ff9400"/><stop offset="0.7340" stop-color="#ff9100"/><stop offset="0.7360" stop-color="#ff8d00"/><stop offset="0.7420" stop-color="#ff8900"/><stop offset="0.7480" stop-color="#ff8600"/><stop offset="0.7500" stop-color="#ff8200"/><stop offset="0.7560" stop-color="#ff8900"/><stop offset="0.7600" stop-color="#ff8900"/><stop offset="0.7660" stop-color="#ff9100"/><stop offset="0.7700" stop-color="#ff9100"/><stop offset="0.7820" stop-color="#ff9c00"/><stop offset="0.7880" stop-color="#ff9f00"/><stop offset="0.7920" stop-color="#ffa300"/><stop offset="0.7940" stop-color="#ffa300"/><stop offset="0.7960" stop-color="#ffa700"/><stop offset="0.8060" stop-color="#ffae00"/><stop offset="0.8080" stop-color="#ffb200"/><stop offset="0.8100" stop-color="#ffb200"/><stop offset="0.8160" stop-color="#ffb900"/><stop offset="0.8220" stop-color="#ffbd00"/><stop offset="0.8280" stop-color="#ffc400"/><stop offset="0.8340" stop-color="#ffc800"/><stop offset="0.8360" stop-color="#ffcc00"/><stop offset="0.8460" stop-color="#ffd300"/><stop offset="0.8500" stop-color="#ffd700"/><stop offset="0.8540" stop-color="#ffd700"/><stop offset="0.8560" stop-color="#ffd300"/><stop offset="0.8660" stop-color="#ffd000"/><stop offset="0.8700" stop-color="#ffcc00"/><stop offset="0.8780" stop-color="#ffc800"/><stop offset="0.8820" stop-color="#ffc400"/><stop offset="0.8840" stop-color="#ffc400"/><stop offset="0.8860" stop-color="#ffb900"/><stop offset="0.8900" stop-color="#ff8d00"/><stop offset="0.9000" stop-color="#ffb200"/><stop offset="0.9080" stop-color="#ffc400"/><stop offset="0.9120" stop-color="#ffd000"/><stop offset="0.9200" stop-color="#ffde00"/><stop offset="0.9240" stop-color="#ffe200"/><stop offset="0.9320" stop-color="#fbf100"/><stop offset="0.9360" stop-color="#f4f802"/><stop offset="0.9400" stop-color="#eeff09"/><stop offset="0.9460" stop-color="#f4f802"/><stop offset="0.9520" stop-color="#fbf100"/><stop offset="0.9540" stop-color="#fbf100"/><stop offset="0.9560" stop-color="#feed00"/><stop offset="0.9620" stop-color="#ffea00"/><stop offset="0.9700" stop-color="#ffde00"/><stop offset="0.9740" stop-color="#ffd300"/><stop offset="0.9780" stop-color="#ffcc00"/><stop offset="0.9800" stop-color="#ffc400"/><stop offset="0.9900" stop-color="#ffb200"/><stop offset="0.9920" stop-color="#ff6800"/><stop offset="0.9940" stop-color="#ff6800"/><stop offset="0.9960" stop-color="#cd0000"/><stop offset="0.9980" stop-color="#800000"/><stop offset="1.0000" stop-color="#800000"/></linearGradient>
<linearGradient id="g20" x1="0" y1="0" x2="0" y2="1"><stop offset="0.0000" stop-color="#000089"/><stop offset="0.0060" stop-color="#00008d"/><stop offset="0.0100" stop-color="#00008d"/><stop offset="0.0120" stop-color="#000092"/><stop offset="0.0180" stop-color="#000092"/><stop offset="0.0240" stop-color="#00009b"/><stop offset="0.0300" stop-color="#00009f"/><stop offset="0.0320" stop-color="#0000a4"/><stop offset="0.0380" stop-color="#0000a8"/><stop offset="0.0440" stop-color="#0000b6"/><stop offset="0.0480" stop-color="#0000c4"/><stop offset="0.0520" stop-color="#0000cd"/><stop offset="0.0540" stop-color="#0000d6"/><stop offset="0.0580" stop-color="#0000df"/><stop offset="0.0620" stop-color="#0000ed"/><stop offset="0.0660" stop-color="#0000f6"/><stop offset="0.0680" stop-color="#0000ff"/><stop offset="0.0740" stop-color="#0000ff"/><stop offset="0.0800" stop-color="#000cff"/><stop offset="0.0820" stop-color="#0094ff"/><stop offset="0.0880" stop-color="#0094ff"/><stop offset="0.0900" stop-color="#0038ff"/><stop offset="0.1000" stop-color="#0060ff"/><stop offset="0.1040" stop-color="#0068ff"/><stop offset="0.1080" stop-color="#0074ff"/><stop offset="0.1100" stop-color="#0078ff"/><stop offset="0.1120" stop-color="#0080ff"/><stop offset="0.1160" stop-color="#0088ff"/><stop offset="0.1200" stop-color="#0094ff"/><stop offset="0.1260" stop-color="#00a4ff"/><stop offset="0.1340" stop-color="#00b8ff"/><stop offset="0.1380" stop-color="#00c4ff"/><stop offset="0.1400" stop-color="#00c8ff"/><stop offset="0.1420" stop-color="#00d0ff"/><stop offset="0.1460" stop-color="#00d8ff"/><stop offset="0.1500" stop-color="#00e4f8"/><stop offset="0.1560" stop-color="#02e8f4"/><stop offset="0.1620" stop-color="#02e8f4"/><stop offset="0.1660" stop-color="#06ecf1"/><stop offset="0.1720" stop-color="#06ecf1"/><stop offset="0.1760" stop-color="#09f0ee"/><stop offset="0.1820" stop-color="#09f0ee"/><stop offset="0.1860" stop-color="#0cf4eb"/><stop offset="0.1920" stop-color="#0cf4eb"/><stop offset="0.1960" stop-color="#0ff8e7"/><stop offset="0.2000" stop-color="#0ff8e7"/><stop offset="0.2020" stop-color="#13fce4"/><stop offset="0.2100" stop-color="#16ffe1"/><stop offset="0.2140" stop-color="#19ffde"/><stop offset="0.2200" stop-color="#1cffdb"/><stop offset="0.2220" stop-color="#1fffd7"/><stop offset="0.2340" stop-color="#26ffd1"/><stop offset="0.2400" stop-color="#29ffce"/><stop offset="0.2460" stop-color="#30ffc7"/><stop offset="0.2500" stop-color="#30ffc7"/><stop offset="0.2560" stop-color="#33ffc4"/><stop offset="0.2700" stop-color="#33ffc4"/><stop offset="0.2760" stop-color="#36ffc1"/><stop offset="0.2880" stop-color="#36ffc1"/><stop offset="0.2940" stop-color="#39ffbe"/><stop offset="0.3080" stop-color="#39ffbe"/><stop offset="0.3100" stop-color="#3cffba"/><stop offset="0.3280" stop-color="#3cffba"/><stop offset="0.3320" stop-color="#40ffb7"/><stop offset="0.3480" stop-color="#40ffb7"/><stop offset="0.3540" stop-color="#43ffb4"/><stop offset="0.3660" stop-color="#43ffb4"/><stop offset="0.3720" stop-color="#46ffb1"/><stop offset="0.3860" stop-color="#46ffb1"/><stop offset="0.3880" stop-color="#49ffad"/><stop offset="0.4500" stop-color="#49ffad"/><stop offset="0.4520" stop-color="#4dffaa"/><stop offset="0.4600" stop-color="#50ffa7"/><stop offset="0.4640" stop-color="#53ffa4"/><stop offset="0.4700" stop-color="#56ffa0"/><stop offset="0.4740" stop-color="#5aff9d"/><stop offset="0.4880" stop-color="#63ff94"/><stop offset="0.4900" stop-color="#63ff94"/><stop offset="0.4920" stop-color="#66ff90"/><stop offset="0.4940" stop-color="#66ff90"/><stop offset="0.4960" stop-color="#6aff8d"/><stop offset="0.5500" stop-color="#6aff8d"/><stop offset="0.5540" stop-color="#6dff8a"/><stop offset="0.5600" stop-color="#6dff8a"/><stop offset="0.5640" stop-color="#70ff87"/><stop offset="0.5700" stop-color="#70ff87"/><stop offset="0.5740" stop-color="#73ff83"/><stop offset="0.5800" stop-color="#73ff83"/><stop offset="0.5840" stop-color="#77ff80"/><stop offset="0.5900" stop-color="#77ff80"/><stop offset="0.5960" stop-color="#7aff7d"/><stop offset="0.6080" stop-color="#7dff7a"/><stop offset="0.6540" stop-color="#7dff7a"/><stop offset="0.6620" stop-color="#83ff73"/><stop offset="0.6640" stop-color="#83ff73"/><stop offset="0.6660" stop-color="#87ff70"/><stop offset="0.6780" stop-color="#8dff6a"/><stop offset="0.6820" stop-color="#90ff66"/><stop offset="0.6840" stop-color="#90ff66"/><stop offset="0.6860" stop-color="#94ff63"/><stop offset="0.7020" stop-color="#9dff5a"/><stop offset="0.7520" stop-color="#9dff5a"/><stop offset="0.7580" stop-color="#9aff5d"/><stop offset="0.7700" stop-color="#97ff60"/><stop offset="0.7760" stop-color="#94ff63"/><stop offset="0.7800" stop-color="#94ff63"/><stop offset="0.7840" stop-color="#90ff66"/><stop offset="0.7900" stop-color="#90ff66"/><stop offset="0.7940" stop-color="#8dff6a"/><stop offset="0.8040" stop-color="#8dff6a"/><stop offset="0.8060" stop-color="#90ff66"/><stop offset="0.8120" stop-color="#90ff66"/><stop offset="0.8160" stop-color="#94ff63"/><stop offset="0.8360" stop-color="#9dff5a"/><stop offset="0.8420" stop-color="#a0ff56"/><stop offset="0.8440" stop-color="#a0ff56"/><stop offset="0.8460" stop-color="#a4ff53"/><stop offset="0.8520" stop-color="#a7ff50"/><stop offset="0.8580" stop-color="#b1ff46"/><stop offset="0.8640" stop-color="#b7ff40"/><stop offset="0.8700" stop-color="#c1ff36"/><stop offset="0.8740" stop-color="#c4ff33"/><stop offset="0.8800" stop-color="#ceff29"/><stop offset="0.8840" stop-color="#ceff29"/><stop offset="0.8860" stop-color="#e4ff13"/><stop offset="0.8880" stop-color="#ffdb00"/><stop offset="0.8900" stop-color="#ffab00"/><stop offset="0.8960" stop-color="#ffae00"/><stop offset="0.9000" stop-color="#ffb200"/><stop offset="0.9040" stop-color="#ffc100"/><stop offset="0.9060" stop-color="#ffc400"/><stop offset="0.9100" stop-color="#ffd300"/><stop offset="0.9180" stop-color="#ffe200"/><stop offset="0.9200" stop-color="#ffe200"/><stop offset="0.9260" stop-color="#feed00"/><stop offset="0.9300" stop-color="#fbf100"/><stop offset="0.9360" stop-color="#f4f802"/><stop offset="0.9400" stop-color="#eeff09"/><stop offset="0.9460" stop-color="#f4f802"/><stop offset="0.9520" stop-color="#fbf100"/><stop offset="0.9540" stop-color="#fbf100"/><stop offset="0.9560" stop-color="#feed00"/><stop offset="0.9620" stop-color="#ffea00"/><stop offset="0.9700" stop-color="#ffde00"/><stop offset="0.9740" stop-color="#ffd300"/><stop offset="0.9780" stop-color="#ffcc00"/><stop offset="0.9800" stop-color="#ffc400"/><stop offset="0.9900" stop-color="#ffb200"/><stop offset="0.9920" stop-color="#ff6800"/><stop offset="0.9940" stop-color="#ff6800"/><stop offset="0.9960" stop-color="#cd0000"/><stop offset="0.9980" stop-color="#800000"/><stop offset="1.0000" stop-color="#800000"/></linearGradient>
<linearGradient id="g21" x1="0" y1="0" x2="0" y2="1"><stop offset="0.0000" stop-color="#000089"/><stop offset="0.0060" stop-color="#00008d"/><stop offset="0.0100" stop-color="#00008d"/><stop offset="0.0120" stop-color="#000092"/><stop offset="0.0180" stop-color="#000092"/><stop offset="0.0240" stop-color="#00009b"/><stop offset="0.0300" stop-color="#00009f"/><stop offset="0.0320" stop-color="#0000a4"/><stop offset="0.0380" stop-color="#0000a8"/><stop offset="0.0760" stop-color="#0000ff"/><stop offset="0.0820" stop-color="#0000ff"/><stop offset="0.0900" stop-color="#0020ff"/><stop offset="0.0920" stop-color="#002cff"/><stop offset="0.1000" stop-color="#004cff"/><stop offset="0.1060" stop-color="#005cff"/><stop offset="0.1120" stop-color="#006cff"/><stop offset="0.1180" stop-color="#0080ff"/><stop offset="0.1220" stop-color="#0088ff"/><stop offset="0.1320" stop-color="#00a8ff"/><stop offset="0.1400" stop-color="#00bcff"/><stop offset="0.1420" stop-color="#00c4ff"/><stop offset="0.1500" stop-color="#00dcfe"/><stop offset="0.1560" stop-color="#00dcfe"/><stop offset="0.1600" stop-color="#00e0fb"/><stop offset="0.1660" stop-color="#00e4f8"/><stop offset="0.1740" stop-color="#02e8f4"/><stop offset="0.1780" stop-color="#06ecf1"/><stop offset="0.1820" stop-color="#06ecf1"/><stop offset="0.1860" stop-color="#09f0ee"/><stop offset="0.1940" stop-color="#0cf4eb"/><stop offset="0.1980" stop-color="#0ff8e7"/><stop offset="0.2000" stop-color="#0ff8e7"/><stop offset="0.2020" stop-color="#13fce4"/><stop offset="0.2100" stop-color="#16ffe1"/><stop offset="0.2140" stop-color="#19ffde"/><stop offset="0.2200" stop-color="#1cffdb"/><stop offset="0.2220" stop-color="#1fffd7"/><stop offset="0.2340" stop-color="#26ffd1"/><stop offset="0.2400" stop-color="#29ffce"/><stop offset="0.2460" stop-color="#30ffc7"/><stop offset="0.2500" stop-color="#30ffc7"/><stop offset="0.2560" stop-color="#33ffc4"/><stop offset="0.2700" stop-color="#33ffc4"/><stop offset="0.2760" stop-color="#36ffc1"/><stop offset="0.2880" stop-color="#36ffc1"/><stop offset="0.2940" stop-color="#39ffbe"/><stop offset="0.3080" stop-color="#39ffbe"/><stop offset="0.3100" stop-color="#3cffba"/><stop offset="0.3280" stop-color="#3cffba"/><stop offset="0.3320" stop-color="#40ffb7"/><stop offset="0.3480" stop-color="#40ffb7"/><stop offset="0.3540" stop-color="#43ffb4"/><stop offset="0.3660" stop-color="#43ffb4"/><stop offset="0.3720" stop-color="#46ffb1"/><stop offset="0.3860" stop-color="#46ffb1"/><stop offset="0.3880" stop-color="#49ffad"/><stop offset="0.4500" stop-color="#49ffad"/><stop offset="0.4520" stop-color="#4dffaa"/><stop offset="0.4600" stop-color="#50ffa7"/><stop offset="0.4640" stop-color="#53ffa4"/><stop offset="0.4700" stop-color="#56ffa0"/><stop offset="0.4740" stop-color="#5aff9d"/><stop offset="0.4880" stop-color="#63ff94"/><stop offset="0.4900" stop-color="#63ff94"/><stop offset="0.4920" stop-color="#66ff90"/><stop offset="0.4940" stop-color="#66ff90"/><stop offset="0.4960" stop-color="#6aff8d"/><stop offset="0.5500" stop-color="#6aff8d"/><stop offset="0.5540" stop-color="#6dff8a"/><stop offset="0.5600" stop-color="#6dff8a"/><stop offset="0.5640" stop-color="#70ff87"/><stop offset="0.5700" stop-color="#70ff87"/><stop offset="0.5740" stop-color="#73ff83"/><stop offset="0.5800" stop-color="#73ff83"/><stop offset="0.5840" stop-color="#77ff80"/><stop offset="0.5900" stop-color="#77ff80"/><stop offset="0.5960" stop-color="#7aff7d"/><stop offset="0.6080" stop-color="#7dff7a"/><stop offset="0.6540" stop-color="#7dff7a"/><stop offset="0.6620" stop-color="#83ff73"/><stop offset="0.6640" stop-color="#83ff73"/><stop offset="0.6660" stop-color="#87ff70"/><stop offset="0.6780" stop-color="#8dff6a"/><stop offset="0.6820" stop-color="#90ff66"/><stop offset="0.6840" stop-color="#90ff66"/><stop offset="0.6860" stop-color="#94ff63"/><stop offset="0.7020" stop-color="#9dff5a"/><stop offset="0.8060" stop-color="#9dff5a"/><stop offset="0.8080" stop-color="#a0ff56"/><stop offset="0.8160" stop-color="#a0ff56"/><stop offset="0.8200" stop-color="#a4ff53"/><stop offset="0.8260" stop-color="#a4ff53"/><stop offset="0.8300" stop-color="#a7ff50"/><stop offset="0.8360" stop-color="#a7ff50"/><stop offset="0.8400" stop-color="#aaff4d"/><stop offset="0.8460" stop-color="#aaff4d"/><stop offset="0.8580" stop-color="#b7ff40"/><stop offset="0.8640" stop-color="#c1ff36"/><stop offset="0.8700" stop-color="#c7ff30"/><stop offset="0.8760" stop-color="#d1ff26"/><stop offset="0.8800" stop-color="#d4ff23"/><stop offset="0.8840" stop-color="#d7ff1f"/><stop offset="0.8860" stop-color="#ebff0c"/><stop offset="0.8880" stop-color="#ffd700"/><stop offset="0.8900" stop-color="#ffab00"/><stop offset="0.8960" stop-color="#ffae00"/><stop offset="0.9000" stop-color="#ffb200"/><stop offset="0.9040" stop-color="#ffc100"/><stop offset="0.9060" stop-color="#ffc400"/><stop offset="0.9100" stop-color="#ffd300"/><stop offset="0.9180" stop-color="#ffe200"/><stop offset="0.9200" stop-color="#ffe200"/><stop offset="0.9260" stop-color="#feed00"/><stop offset="0.9300" stop-color="#fbf100"/><stop offset="0.9360" stop-color="#f4f802"/><stop offset="0.9400" stop-color="#eeff09"/><stop offset="0.9460" stop-color="#f4f802"/><stop offset="0.9520" stop-color="#fbf100"/><stop offset="0.9540" stop-color="#fbf100"/><stop offset="0.9560" stop-color="#feed00"/><stop offset="0.9620" stop-color="#ffea00"/><stop offset="0.9700" stop-color="#ffde00"/><stop offset="0.9740" stop-color="#ffd300"/><stop offset="0.9780" stop-color="#ffcc00"/><stop offset="0.9800" stop-color="#ffc400"/><stop offset="0.9900" stop-color="#ffb200"/><stop offset="0.9920" stop-color="#ff6800"/><stop offset="0.9940" stop-color="#ff6800"/><stop offset="0.9960" stop-color="#cd0000"/><stop offset="0.9980" stop-color="#800000"/><stop offset="1.0000" stop-color="#800000"/></linearGradient>
<linearGradient id="g22" x1="0" y1="0" x2="0" y2="1"><stop offset="0.0000" stop-color="#000089"/><stop offset="0.0060" stop-color="#00008d"/><stop offset="0.0100" stop-color="#00008d"/><stop offset="0.0120" stop-color="#000092"/><stop offset="0.0180" stop-color="#000092"/><stop offset="0.0240" stop-color="#00009b"/><stop offset="0.0280" stop-color="#0000a4"/><stop offset="0.0300" stop-color="#0000a4"/><stop offset="0.0380" stop-color="#0000b6"/><stop offset="0.0400" stop-color="#0000b6"/><stop offset="0.0420" stop-color="#0000bf"/><stop offset="0.0480" stop-color="#0000cd"/><stop offset="0.0500" stop-color="#0000d6"/><stop offset="0.0540" stop-color="#0000df"/><stop offset="0.0580" stop-color="#0000ed"/><stop offset="0.0600" stop-color="#0000f1"/><stop offset="0.0620" stop-color="#0000ff"/><stop offset="0.0640" stop-color="#0000ff"/><stop offset="0.0680" stop-color="#0014ff"/><stop offset="0.0700" stop-color="#0020ff"/><stop offset="0.0720" stop-color="#0030ff"/><stop offset="0.0800" stop-color="#0060ff"/><stop offset="0.0880" stop-color="#0078ff"/><stop offset="0.0940" stop-color="#008cff"/><stop offset="0.1020" stop-color="#00a0ff"/><stop offset="0.1040" stop-color="#00a0ff"/><stop offset="0.1060" stop-color="#43ffb4"/><stop offset="0.1160" stop-color="#43ffb4"/><stop offset="0.1180" stop-color="#00b4ff"/><stop offset="0.1200" stop-color="#00b4ff"/><stop offset="0.1240" stop-color="#00bcff"/><stop offset="0.1300" stop-color="#00c0ff"/><stop offset="0.1340" stop-color="#00c8ff"/><stop offset="0.1400" stop-color="#00ccff"/><stop offset="0.1440" stop-color="#00d4ff"/><stop offset="0.1480" stop-color="#00d8ff"/><stop offset="0.1520" stop-color="#00dcfe"/><stop offset="0.1620" stop-color="#00e4f8"/><stop offset="0.1680" stop-color="#02e8f4"/><stop offset="0.1720" stop-color="#06ecf1"/><stop offset="0.1820" stop-color="#0cf4eb"/><stop offset="0.1860" stop-color="#0ff8e7"/><stop offset="0.1960" stop-color="#16ffe1"/><stop offset="0.2100" stop-color="#1cffdb"/><stop offset="0.2120" stop-color="#1fffd7"/><stop offset="0.2160" stop-color="#1fffd7"/><stop offset="0.2200" stop-color="#23ffd4"/><stop offset="0.2300" stop-color="#26ffd1"/><stop offset="0.2340" stop-color="#29ffce"/><stop offset="0.2420" stop-color="#2cffca"/><stop offset="0.2440" stop-color="#30ffc7"/><stop offset="0.2500" stop-color="#30ffc7"/><stop offset="0.2560" stop-color="#33ffc4"/><stop offset="0.2600" stop-color="#33ffc4"/><stop offset="0.2660" stop-color="#36ffc1"/><stop offset="0.2780" stop-color="#39ffbe"/><stop offset="0.2820" stop-color="#3cffba"/><stop offset="0.2880" stop-color="#3cffba"/><stop offset="0.2900" stop-color="#40ffb7"/><stop offset="0.2980" stop-color="#40ffb7"/><stop offset="0.3040" stop-color="#43ffb4"/><stop offset="0.3280" stop-color="#43ffb4"/><stop offset="0.3300" stop-color="#7dff7a"/><stop offset="0.3400" stop-color="#7dff7a"/><stop offset="0.3420" stop-color="#43ffb4"/><stop offset="0.3660" stop-color="#43ffb4"/><stop offset="0.3720" stop-color="#46ffb1"/><stop offset="0.3860" stop-color="#46ffb1"/><stop offset="0.3880" stop-color="#49ffad"/><stop offset="0.4500" stop-color="#49ffad"/><stop offset="0.4520" stop-color="#4dffaa"/><stop offset="0.4600" stop-color="#53ffa4"/><stop offset="0.4620" stop-color="#56ffa0"/><stop offset="0.4660" stop-color="#5aff9d"/><stop offset="0.4780" stop-color="#66ff90"/><stop offset="0.4820" stop-color="#6aff8d"/><stop offset="0.4900" stop-color="#70ff87"/><stop offset="0.4940" stop-color="#77ff80"/><stop offset="0.5020" stop-color="#7dff7a"/><stop offset="0.6080" stop-color="#7dff7a"/><stop offset="0.6140" stop-color="#80ff77"/><stop offset="0.6180" stop-color="#80ff77"/><stop offset="0.6220" stop-color="#83ff73"/><stop offset="0.6280" stop-color="#83ff73"/><stop offset="0.6320" stop-color="#87ff70"/><stop offset="0.6380" stop-color="#87ff70"/><stop offset="0.6440" stop-color="#8aff6d"/><stop offset="0.6540" stop-color="#8dff6a"/><stop offset="0.6560" stop-color="#90ff66"/><stop offset="0.6620" stop-color="#90ff66"/><stop offset="0.6640" stop-color="#ceff29"/><stop offset="0.6720" stop-color="#ceff29"/><stop offset="0.6740" stop-color="#97ff60"/><stop offset="0.6780" stop-color="#9aff5d"/><stop offset="0.6880" stop-color="#9dff5a"/><stop offset="0.6900" stop-color="#a0ff56"/><stop offset="0.6940" stop-color="#a0ff56"/><stop offset="0.6960" stop-color="#a4ff53"/><stop offset="0.7540" stop-color="#a4ff53"/><stop offset="0.7560" stop-color="#a0ff56"/><stop offset="0.7600" stop-color="#a0ff56"/><stop offset="0.7640" stop-color="#9dff5a"/><stop offset="0.7740" stop-color="#9aff5d"/><stop offset="0.7780" stop-color="#97ff60"/><stop offset="0.7860" stop-color="#94ff63"/><stop offset="0.7880" stop-color="#90ff66"/><stop offset="0.7940" stop-color="#90ff66"/><stop offset="0.7960" stop-color="#8dff6a"/><stop offset="0.8040" stop-color="#8dff6a"/><stop offset="0.8060" stop-color="#90ff66"/><stop offset="0.8120" stop-color="#90ff66"/><stop offset="0.8160" stop-color="#94ff63"/><stop offset="0.8360" stop-color="#9dff5a"/><stop offset="0.8420" stop-color="#a0ff56"/><stop offset="0.8440" stop-color="#a0ff56"/><stop offset="0.8460" stop-color="#a4ff53"/><stop offset="0.8520" stop-color="#a7ff50"/><stop offset="0.8580" stop-color="#b1ff46"/><stop offset="0.8640" stop-color="#b7ff40"/><stop offset="0.8700" stop-color="#c1ff36"/><stop offset="0.8740" stop-color="#c4ff33"/><stop offset="0.8800" stop-color="#ceff29"/><stop offset="0.8840" stop-color="#ceff29"/><stop offset="0.8860" stop-color="#e4ff13"/><stop offset="0.8880" stop-color="#ffdb00"/><stop offset="0.8900" stop-color="#ffab00"/><stop offset="0.8960" stop-color="#ffae00"/><stop offset="0.9000" stop-color="#ffb200"/><stop offset="0.9040" stop-color="#ffc100"/><stop offset="0.9060" stop-color="#ffc400"/><stop offset="0.9100" stop-color="#ffd300"/><stop offset="0.9180" stop-color="#ffe200"/><stop offset="0.9200" stop-color="#ffe200"/><stop offset="0.9260" stop-color="#feed00"/><stop offset="0.9300" stop-color="#fbf100"/><stop offset="0.9360" stop-color="#f4f802"/><stop offset="0.9400" stop-color="#eeff09"/><stop offset="0.9460" stop-color="#f4f802"/><stop offset="0.9520" stop-color="#fbf100"/><stop offset="0.9540" stop-color="#fbf100"/><stop offset="0.9560" stop-color="#feed00"/><stop offset="0.9620" stop-color="#ffea00"/><stop offset="0.9700" stop-color="#ffde00"/><stop offset="0.9740" stop-color="#ffd300"/><stop offset="0.9780" stop-color="#ffcc00"/><stop offset="0.9800" stop-color="#ffc400"/><stop offset="0.9900" stop-color="#ffb200"/><stop offset="0.9920" stop-color="#ff6800"/><stop offset="0.9940" stop-color="#ff6800"/><stop offset="0.9960" stop-color="#cd0000"/><stop offset="0.9980" stop-color="#800000"/><stop offset="1.0000" stop-color="#800000"/></linearGradient>
<linearGradient id="g23" x1="0" y1="0" x2="0" y2="1"><stop offset="0.0000" stop-color="#000089"/><stop offset="0.0020" stop-color="#00008d"/><stop offset="0.0040" stop-color="#00008d"/><stop offset="0.0060" stop-color="#000092"/><stop offset="0.0120" stop-color="#000096"/><stop offset="0.0140" stop-color="#00009b"/><stop offset="0.0220" stop-color="#00009f"/><stop offset="0.0240" stop-color="#0000a4"/><stop offset="0.0300" stop-color="#0000a4"/><stop offset="0.0320" stop-color="#0000a8"/><stop offset="0.0380" stop-color="#0000a8"/><stop offset="0.0400" stop-color="#0000ad"/><stop offset="0.0420" stop-color="#0000b6"/><stop offset="0.0460" stop-color="#0000c4"/><stop offset="0.0500" stop-color="#0000d6"/><stop offset="0.0520" stop-color="#0000da"/><stop offset="0.0600" stop-color="#0000ff"/><stop offset="0.0620" stop-color="#0000ff"/><stop offset="0.0640" stop-color="#0008ff"/><stop offset="0.0680" stop-color="#0024ff"/><stop offset="0.0700" stop-color="#0030ff"/><stop offset="0.0720" stop-color="#0040ff"/><stop offset="0.0760" stop-color="#0058ff"/><stop offset="0.0800" stop-color="#0074ff"/><stop offset="0.0840" stop-color="#0088ff"/><stop offset="0.0940" stop-color="#00bcff"/><stop offset="0.0980" stop-color="#00d0ff"/><stop offset="0.1000" stop-color="#00dcfe"/><stop offset="0.1040" stop-color="#00e0fb"/><stop offset="0.1100" stop-color="#06ecf1"/><stop offset="0.1200" stop-color="#16ffe1"/><stop offset="0.1260" stop-color="#1fffd7"/><stop offset="0.1300" stop-color="#23ffd4"/><stop offset="0.1500" stop-color="#43ffb4"/><stop offset="0.1580" stop-color="#46ffb1"/><stop offset="0.1620" stop-color="#49ffad"/><stop offset="0.1720" stop-color="#50ffa7"/><stop offset="0.1780" stop-color="#53ffa4"/><stop offset="0.1840" stop-color="#5aff9d"/><stop offset="0.1920" stop-color="#5dff9a"/><stop offset="0.2040" stop-color="#63ff94"/><stop offset="0.2560" stop-color="#63ff94"/><stop offset="0.2580" stop-color="#66ff90"/><stop offset="0.2660" stop-color="#66ff90"/><stop offset="0.2680" stop-color="#6aff8d"/><stop offset="0.2760" stop-color="#6aff8d"/><stop offset="0.2800" stop-color="#6dff8a"/><stop offset="0.2940" stop-color="#70ff87"/><stop offset="0.2960" stop-color="#73ff83"/><stop offset="0.3100" stop-color="#73ff83"/><stop offset="0.3140" stop-color="#77ff80"/><stop offset="0.3300" stop-color="#77ff80"/><stop offset="0.3360" stop-color="#7aff7d"/><stop offset="0.3480" stop-color="#7aff7d"/><stop offset="0.3540" stop-color="#7dff7a"/><stop offset="0.4580" stop-color="#7dff7a"/><stop offset="0.4640" stop-color="#80ff77"/><stop offset="0.4680" stop-color="#80ff77"/><stop offset="0.4720" stop-color="#83ff73"/><stop offset="0.4780" stop-color="#83ff73"/><stop offset="0.4820" stop-color="#87ff70"/><stop offset="0.4880" stop-color="#87ff70"/><stop offset="0.4940" stop-color="#8aff6d"/><stop offset="0.5120" stop-color="#8dff6a"/><stop offset="0.5540" stop-color="#8dff6a"/><stop offset="0.5580" stop-color="#90ff66"/><stop offset="0.5620" stop-color="#90ff66"/><stop offset="0.5660" stop-color="#94ff63"/><stop offset="0.5860" stop-color="#9dff5a"/><stop offset="0.5940" stop-color="#a0ff56"/><stop offset="0.5980" stop-color="#a4ff53"/><stop offset="0.6500" stop-color="#a4ff53"/><stop offset="0.6540" stop-color="#a7ff50"/><stop offset="0.6600" stop-color="#a7ff50"/><stop offset="0.6640" stop-color="#aaff4d"/><stop offset="0.6700" stop-color="#aaff4d"/><stop offset="0.6720" stop-color="#adff49"/><stop offset="0.6800" stop-color="#adff49"/><stop offset="0.6840" stop-color="#b1ff46"/><stop offset="0.6900" stop-color="#b1ff46"/><stop offset="0.6960" stop-color="#b4ff43"/><stop offset="0.7140" stop-color="#b7ff40"/><stop offset="0.7200" stop-color="#b7ff40"/><stop offset="0.7220" stop-color="#baff3c"/><stop offset="0.7400" stop-color="#baff3c"/><stop offset="0.7420" stop-color="#beff39"/><stop offset="0.8020" stop-color="#beff39"/><stop offset="0.8140" stop-color="#c4ff33"/><stop offset="0.8220" stop-color="#c7ff30"/><stop offset="0.8260" stop-color="#caff2c"/><stop offset="0.8320" stop-color="#ceff29"/><stop offset="0.8480" stop-color="#d4ff23"/><stop offset="0.8540" stop-color="#dbff1c"/><stop offset="0.8680" stop-color="#e4ff13"/><stop offset="0.8740" stop-color="#ebff0c"/><stop offset="0.8840" stop-color="#eeff09"/><stop offset="0.8860" stop-color="#ffea00"/><stop offset="0.8880" stop-color="#ffb900"/><stop offset="0.8900" stop-color="#ff8d00"/><stop offset="0.9040" stop-color="#ffc100"/><stop offset="0.9060" stop-color="#ffc400"/><stop offset="0.9100" stop-color="#ffd300"/><stop offset="0.9180" stop-color="#ffe200"/><stop offset="0.9200" stop-color="#ffe200"/><stop offset="0.9260" stop-color="#feed00"/><stop offset="0.9300" stop-color="#fbf100"/><stop offset="0.9360" stop-color="#f4f802"/><stop offset="0.9400" stop-color="#eeff09"/><stop offset="0.9460" stop-color="#f4f802"/><stop offset="0.9520" stop-color="#fbf100"/><stop offset="0.9540" stop-color="#fbf100"/><stop offset="0.9560" stop-color="#feed00"/><stop offset="0.9620" stop-color="#ffea00"/><stop offset="0.9700" stop-color="#ffde00"/><stop offset="0.9740" stop-color="#ffd300"/><stop offset="0.9780" stop-color="#ffcc00"/><stop offset="0.9800" stop-color="#ffc400"/><stop offset="0.9900" stop-color="#ffb200"/><stop offset="0.9920" stop-color="#ff6800"/><stop offset="0.9940" stop-color="#ff6800"/><stop offset="0.9960" stop-color="#cd0000"/><stop offset="0.9980" stop-color="#800000"/><stop offset="1.0000" stop-color="#800000"/></linearGradient>
<linearGradient id="cbg" x1="0" y1="0" x2="0" y2="1"><stop offset="0.0000" stop-color="#800000"/><stop offset="0.0039" stop-color="#800000"/><stop offset="0.0938" stop-color="#e80000"/><stop offset="0.1133" stop-color="#ff1300"/><stop offset="0.3438" stop-color="#feed00"/><stop offset="0.3516" stop-color="#f8f500"/><stop offset="0.3633" stop-color="#eeff09"/><stop offset="0.6250" stop-color="#16ffe1"/><stop offset="0.6484" stop-color="#02e8f4"/><stop offset="0.6562" stop-color="#00e0fb"/><stop offset="0.6641" stop-color="#00d8ff"/><stop offset="0.8750" stop-color="#0000ff"/><stop offset="0.8906" stop-color="#0000ff"/><stop offset="1.0000" stop-color="#000080"/></linearGradient></defs>
<rect x="0" y="0" width="1137" height="946" fill="#fff"/>
<rect x="114.000" y="100.00" width="7.000" height="739.00" fill="url(#g0)"/>
<rect x="119.500" y="100.00" width="7.000" height="739.00" fill="url(#g1)"/>
<rect x="125.000" y="100.00" width="7.000" height="739.00" fill="url(#g2)"/>
<rect x="130.500" y="100.00" width="7.000" height="739.00" fill="url(#g3)"/>
<rect x="136.000" y="100.00" width="7.000" height="739.00" fill="url(#g4)"/>
<rect x="141.500" y="100.00" width="7.000" height="739.00" fill="url(#g5)"/>
<rect x="147.000" y="100.00" width="7.000" height="739.00" fill="url(#g6)"/>
<rect x="152.500" y="100.00" width="7.000" height="739.00" fill="url(#g7)"/>
<rect x="158.000" y="100.00" width="7.000" height="739.00" fill="url(#g8)"/>
<rect x="163.500" y="100.00" width="7.000" height="739.00" fill="url(#g9)"/>
<rect x="169.000" y="100.00" width="7.000" height="739.00" fill="url(#g10)"/>
<rect x="174.500" y="100.00" width="7.000" height="739.00" fill="url(#g11)"/>
<rect x="180.000" y="100.00" width="7.000" height="739.00" fill="url(#g12)"/>
<rect x="185.500" y="100.00" width="7.000" height="739.00" fill="url(#g13)"/>
<rect x="191.000" y="100.00" width="7.000" height="739.00" fill="url(#g14)"/>
<rect x="196.500" y="100.00" width="7.000" height="739.00" fill="url(#g15)"/>
<rect x="202.000" y="100.00" width="7.000" height="739.00" fill="url(#g16)"/>
<rect x="207.500" y="100.00" width="7.000" height="739.00" fill="url(#g17)"/>
<rect x="213.000" y="100.00" width="7.000" height="739.00" fill="url(#g18)"/>
<rect x="218.500" y="100.00" width="7.000" height="739.00" fill="url(#g19)"/>
<rect x="224.000" y="100.00" width="7.000" height="739.00" fill="url(#g20)"/>
<rect x="229.500" y="100.00" width="7.000" height="739.00" fill="url(#g21)"/>
<rect x="235.000" y="100.00" width="7.000" height="739.00" fill="url(#g22)"/>
<rect x="240.500" y="100.00" width="5.500" height="739.00" fill="url(#g23)"/>
<rect x="114.00" y="100.00" width="794.00" height="739.00" fill="none" stroke="#000" stroke-width="2.22" stroke-linejoin="miter" stroke-linecap="square"/>
<path d="M104 839 H114 M104 766 H114 M104 692 H114 M104 618 H114 M104 544 H114 M104 470 H114 M104 396 H114 M104 322 H114 M104 248 H114 M104 174 H114 M104 100 H114 M114 839 V849 M180 839 V849 M246 839 V849 M312 839 V849 M379 839 V849 M445 839 V849 M511 839 V849 M577 839 V849 M643 839 V849 M709 839 V849 M775 839 V849 M842 839 V849 M908 839 V849 M994 839 H1004 M994 692 H1004 M994 544 H1004 M994 396 H1004 M994 248 H1004 M994 100 H1004" stroke="#000" stroke-width="2.22" fill="none"/>
<rect x="957" y="100" width="37" height="739" fill="url(#cbg)" stroke="#000" stroke-width="2.22"/>
<text transform="matrix(0.9838 0.0000 0.0000 1.0739 0.00 46.00)" x="268.93 278.89 298.27 307.84 331.40 351.88 376.28 397.23 407.84 433.24 459.36 478.27 490.75 517.53 539.57 562.25 573.27 595.37 616.59 638.70 659.38 672.48 694.12 714.77 727.87 749.45" font-size="34"><tspan>IV.CFB3.HH1 OBS 2026-03-04</tspan></text>
<text transform="matrix(1.0179 0.0000 0.0000 1.0548 0.00 83.62)" x="245.36 269.59 291.04 300.11 309.57 326.57 337.57 360.30 380.73 400.35 419.80 432.70 444.36 464.69 486.47 497.60 520.19 548.51 559.85 579.82 601.80 626.36 637.59 650.71 670.60 694.04 704.28 729.04 748.84" font-size="34"><tspan>Daily Spectrogram PSD [dB/Hz]</tspan></text>
<text transform="matrix(1.0835 0.0000 0.0000 0.9885 0.00 919.07)" x="396.71 412.63 420.11 444.19 459.76 467.91 478.13 494.00 509.72 526.62 538.32" font-size="28"><tspan>Time [hour]</tspan></text>
<text transform="matrix(0.0000 -1.0427 1.0769 0.0000 40.54 574.00)" x="-2.98 12.68 22.23 38.66 55.72 72.41 89.05 105.24 120.89 134.89 144.42 154.51 174.87 191.22" font-size="28"><tspan>Frequency [Hz]</tspan></text>
<text transform="matrix(1.0310 0.0000 0.0000 1.0895 0.00 882.00)" x="103.27" font-size="28"><tspan>0</tspan></text>
<text transform="matrix(0.9251 0.0000 0.0000 1.0895 0.00 882.00)" x="186.25" font-size="28"><tspan>2</tspan></text>
<text transform="matrix(1.0489 0.0000 0.0000 1.0895 0.00 882.00)" x="227.78" font-size="28"><tspan>4</tspan></text>
<text transform="matrix(1.0681 0.0000 0.0000 1.0895 0.00 882.00)" x="285.63" font-size="28"><tspan>6</tspan></text>
<text transform="matrix(1.0503 0.0000 0.0000 1.0895 0.00 882.00)" x="353.53" font-size="28"><tspan>8</tspan></text>
<text transform="matrix(0.9979 0.0000 0.0000 1.0895 0.00 882.00)" x="429.22 446.73" font-size="28"><tspan>10</tspan></text>
<text transform="matrix(0.9781 0.0000 0.0000 1.0895 0.00 882.00)" x="505.53 522.94" font-size="28"><tspan>12</tspan></text>
<text transform="matrix(0.9901 0.0000 0.0000 1.0895 0.00 882.00)" x="565.90 583.38" font-size="28"><tspan>14</tspan></text>
<text transform="matrix(1.0164 0.0000 0.0000 1.0895 0.00 882.00)" x="616.03 633.13" font-size="28"><tspan>16</tspan></text>
<text transform="matrix(1.0069 0.0000 0.0000 1.0895 0.00 882.00)" x="688.50 705.88" font-size="28"><tspan>18</tspan></text>
<text transform="matrix(1.0052 0.0000 0.0000 1.0895 0.00 882.00)" x="755.11 772.67" font-size="28"><tspan>20</tspan></text>
<text transform="matrix(0.9862 0.0000 0.0000 1.0895 0.00 882.00)" x="836.78 854.24" font-size="28"><tspan>22</tspan></text>
<text transform="matrix(0.9975 0.0000 0.0000 1.0895 0.00 882.00)" x="893.30 910.83" font-size="28"><tspan>24</tspan></text>
<text transform="matrix(1.0310 0.0000 0.0000 1.0895 0.00 851.00)" x="76.11" font-size="28"><tspan>0</tspan></text>
<text transform="matrix(0.9642 0.0000 0.0000 1.0895 0.00 777.00)" x="81.44" font-size="28"><tspan>5</tspan></text>
<text transform="matrix(0.9979 0.0000 0.0000 1.0895 0.00 703.00)" x="60.44 77.96" font-size="28"><tspan>10</tspan></text>
<text transform="matrix(0.9555 0.0000 0.0000 1.0895 0.00 629.00)" x="63.40 81.27" font-size="28"><tspan>15</tspan></text>
<text transform="matrix(1.0052 0.0000 0.0000 1.0895 0.00 555.00)" x="59.75 77.32" font-size="28"><tspan>20</tspan></text>
<text transform="matrix(0.9640 0.0000 0.0000 1.0895 0.00 481.00)" x="62.56 80.48" font-size="28"><tspan>25</tspan></text>
<text transform="matrix(0.9714 0.0000 0.0000 1.0895 0.00 408.00)" x="62.22 79.49" font-size="28"><tspan>30</tspan></text>
<text transform="matrix(0.9310 0.0000 0.0000 1.0895 0.00 334.00)" x="65.16 82.77" font-size="28"><tspan>35</tspan></text>
<text transform="matrix(1.0025 0.0000 0.0000 1.0895 0.00 260.00)" x="60.80 77.68" font-size="28"><tspan>40</tspan></text>
<text transform="matrix(0.9630 0.0000 0.0000 1.0895 0.00 186.00)" x="63.52 80.71" font-size="28"><tspan>45</tspan></text>
<text transform="matrix(0.9664 0.0000 0.0000 1.0895 0.00 112.00)" x="62.44 79.92" font-size="28"><tspan>50</tspan></text>
<text transform="matrix(1.0857 0.0000 0.0000 1.0895 0.00 851.00)" x="937.05 955.69 972.17 988.36" font-size="28"><tspan>−200</tspan></text>
<text transform="matrix(1.0879 0.0000 0.0000 1.0895 0.00 703.00)" x="935.10 953.86 970.14 986.27" font-size="28"><tspan>−180</tspan></text>
<text transform="matrix(1.0949 0.0000 0.0000 1.0895 0.00 555.00)" x="929.10 947.74 963.88 979.95" font-size="28"><tspan>−160</tspan></text>
<text transform="matrix(1.0844 0.0000 0.0000 1.0895 0.00 408.00)" x="938.18 957.00 973.36 989.51" font-size="28"><tspan>−140</tspan></text>
<text transform="matrix(1.0768 0.0000 0.0000 1.0895 0.00 260.00)" x="944.83 963.78 979.88 996.52" font-size="28"><tspan>−120</tspan></text>
<text transform="matrix(1.0833 0.0000 0.0000 1.0895 0.00 112.00)" x="939.12 957.93 974.31 990.54" font-size="28"><tspan>−100</tspan></text>
<text transform="matrix(0.0000 1.0504 -1.0000 0.0000 1094.00 323.95)" font-size="28"><tspan>PSD [dB re</tspan></text>
<text transform="matrix(0.0000 0.7778 -1.0000 0.0000 1094.00 482.22)" font-size="28"><tspan>(</tspan></text>
<text transform="matrix(0.0000 1.1111 -1.2000 0.0000 1089.00 492.00)" font-size="28"><tspan font-style="italic">m</tspan><tspan>/</tspan><tspan font-style="italic">s</tspan></text>
<text transform="matrix(0.0000 0.8750 -1.0000 0.0000 1094.00 544.00)" font-size="28"><tspan>)</tspan></text>
<text transform="matrix(0.0000 0.9091 -1.0000 0.0000 1103.00 554.00)" font-size="20"><tspan>2</tspan></text>
<text transform="matrix(0.0000 1.0233 -1.2000 0.0000 1089.00 568.02)" font-size="28"><tspan>/</tspan><tspan font-style="italic">Hz</tspan></text>
<text transform="matrix(0.0000 0.8750 -1.0000 0.0000 1094.00 613.88)" font-size="28"><tspan>]</tspan></text>
</svg>
</body></html>
